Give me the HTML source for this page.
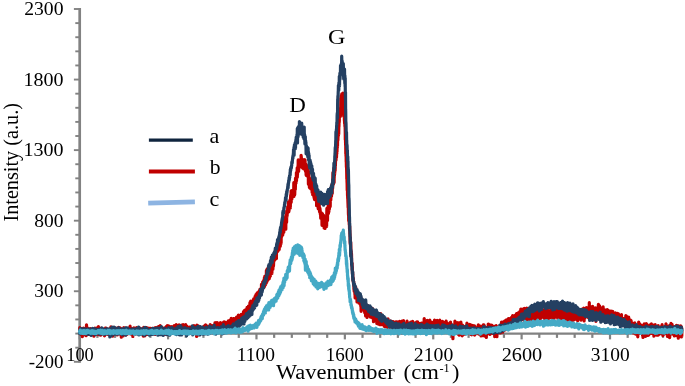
<!DOCTYPE html>
<html>
<head>
<meta charset="utf-8">
<title>Raman spectra</title>
<style>
html,body{margin:0;padding:0;background:#ffffff;}
body{width:685px;height:386px;overflow:hidden;font-family:"Liberation Serif",serif;}
svg{display:block;}
</style>
</head>
<body>
<svg width="685" height="386" viewBox="0 0 685 386">
<rect width="685" height="386" fill="#ffffff"/>
<g stroke="#828282" fill="none">
<line x1="79.7" y1="8.1" x2="79.7" y2="362.7" stroke-width="2.7"/>
<line x1="79.7" y1="333.58" x2="682.0" y2="333.58" stroke-width="2.4"/>
<line x1="73.90" y1="361.80" x2="79.7" y2="361.80" stroke-width="1.9"/>
<line x1="75.30" y1="347.69" x2="79.7" y2="347.69" stroke-width="1.9"/>
<line x1="75.30" y1="333.58" x2="79.7" y2="333.58" stroke-width="1.9"/>
<line x1="75.30" y1="319.46" x2="79.7" y2="319.46" stroke-width="1.9"/>
<line x1="75.30" y1="305.35" x2="79.7" y2="305.35" stroke-width="1.9"/>
<line x1="73.90" y1="291.24" x2="79.7" y2="291.24" stroke-width="1.9"/>
<line x1="75.30" y1="277.13" x2="79.7" y2="277.13" stroke-width="1.9"/>
<line x1="75.30" y1="263.02" x2="79.7" y2="263.02" stroke-width="1.9"/>
<line x1="75.30" y1="248.90" x2="79.7" y2="248.90" stroke-width="1.9"/>
<line x1="75.30" y1="234.79" x2="79.7" y2="234.79" stroke-width="1.9"/>
<line x1="73.90" y1="220.68" x2="79.7" y2="220.68" stroke-width="1.9"/>
<line x1="75.30" y1="206.57" x2="79.7" y2="206.57" stroke-width="1.9"/>
<line x1="75.30" y1="192.46" x2="79.7" y2="192.46" stroke-width="1.9"/>
<line x1="75.30" y1="178.34" x2="79.7" y2="178.34" stroke-width="1.9"/>
<line x1="75.30" y1="164.23" x2="79.7" y2="164.23" stroke-width="1.9"/>
<line x1="73.90" y1="150.12" x2="79.7" y2="150.12" stroke-width="1.9"/>
<line x1="75.30" y1="136.01" x2="79.7" y2="136.01" stroke-width="1.9"/>
<line x1="75.30" y1="121.90" x2="79.7" y2="121.90" stroke-width="1.9"/>
<line x1="75.30" y1="107.78" x2="79.7" y2="107.78" stroke-width="1.9"/>
<line x1="75.30" y1="93.67" x2="79.7" y2="93.67" stroke-width="1.9"/>
<line x1="73.90" y1="79.56" x2="79.7" y2="79.56" stroke-width="1.9"/>
<line x1="75.30" y1="65.45" x2="79.7" y2="65.45" stroke-width="1.9"/>
<line x1="75.30" y1="51.34" x2="79.7" y2="51.34" stroke-width="1.9"/>
<line x1="75.30" y1="37.22" x2="79.7" y2="37.22" stroke-width="1.9"/>
<line x1="75.30" y1="23.11" x2="79.7" y2="23.11" stroke-width="1.9"/>
<line x1="73.90" y1="9.00" x2="79.7" y2="9.00" stroke-width="1.9"/>
<line x1="79.70" y1="333.58" x2="79.70" y2="339.38" stroke-width="2.2"/>
<line x1="97.38" y1="333.58" x2="97.38" y2="337.88" stroke-width="2.2"/>
<line x1="115.05" y1="333.58" x2="115.05" y2="337.88" stroke-width="2.2"/>
<line x1="132.73" y1="333.58" x2="132.73" y2="337.88" stroke-width="2.2"/>
<line x1="150.41" y1="333.58" x2="150.41" y2="337.88" stroke-width="2.2"/>
<line x1="168.09" y1="333.58" x2="168.09" y2="339.38" stroke-width="2.2"/>
<line x1="185.76" y1="333.58" x2="185.76" y2="337.88" stroke-width="2.2"/>
<line x1="203.44" y1="333.58" x2="203.44" y2="337.88" stroke-width="2.2"/>
<line x1="221.12" y1="333.58" x2="221.12" y2="337.88" stroke-width="2.2"/>
<line x1="238.79" y1="333.58" x2="238.79" y2="337.88" stroke-width="2.2"/>
<line x1="256.47" y1="333.58" x2="256.47" y2="339.38" stroke-width="2.2"/>
<line x1="274.15" y1="333.58" x2="274.15" y2="337.88" stroke-width="2.2"/>
<line x1="291.82" y1="333.58" x2="291.82" y2="337.88" stroke-width="2.2"/>
<line x1="309.50" y1="333.58" x2="309.50" y2="337.88" stroke-width="2.2"/>
<line x1="327.18" y1="333.58" x2="327.18" y2="337.88" stroke-width="2.2"/>
<line x1="344.86" y1="333.58" x2="344.86" y2="339.38" stroke-width="2.2"/>
<line x1="362.53" y1="333.58" x2="362.53" y2="337.88" stroke-width="2.2"/>
<line x1="380.21" y1="333.58" x2="380.21" y2="337.88" stroke-width="2.2"/>
<line x1="397.89" y1="333.58" x2="397.89" y2="337.88" stroke-width="2.2"/>
<line x1="415.56" y1="333.58" x2="415.56" y2="337.88" stroke-width="2.2"/>
<line x1="433.24" y1="333.58" x2="433.24" y2="339.38" stroke-width="2.2"/>
<line x1="450.92" y1="333.58" x2="450.92" y2="337.88" stroke-width="2.2"/>
<line x1="468.59" y1="333.58" x2="468.59" y2="337.88" stroke-width="2.2"/>
<line x1="486.27" y1="333.58" x2="486.27" y2="337.88" stroke-width="2.2"/>
<line x1="503.95" y1="333.58" x2="503.95" y2="337.88" stroke-width="2.2"/>
<line x1="521.62" y1="333.58" x2="521.62" y2="339.38" stroke-width="2.2"/>
<line x1="539.30" y1="333.58" x2="539.30" y2="337.88" stroke-width="2.2"/>
<line x1="556.98" y1="333.58" x2="556.98" y2="337.88" stroke-width="2.2"/>
<line x1="574.66" y1="333.58" x2="574.66" y2="337.88" stroke-width="2.2"/>
<line x1="592.33" y1="333.58" x2="592.33" y2="337.88" stroke-width="2.2"/>
<line x1="610.01" y1="333.58" x2="610.01" y2="339.38" stroke-width="2.2"/>
<line x1="627.69" y1="333.58" x2="627.69" y2="337.88" stroke-width="2.2"/>
<line x1="645.36" y1="333.58" x2="645.36" y2="337.88" stroke-width="2.2"/>
<line x1="663.04" y1="333.58" x2="663.04" y2="337.88" stroke-width="2.2"/>
<line x1="680.72" y1="333.58" x2="680.72" y2="337.88" stroke-width="2.2"/>
</g>
<g fill="none" stroke-linejoin="round" stroke-linecap="butt">
<path d="M79.5,332.6l.1-.6 .1-.5 .1-4 .1 4.9 .1-4.5 .1 5.3 .1-.5 .1 .4 .1 0 .1-1 .1-1.4 .1 .4 .1 3.2 .1-3.7 .1 .6 .1-.9 .1 .4 .1 .4 .1 1 .1-1 .1-.1 .1-.5 .1 1.3 .1-2.6 .1 2.5 .1 2.2 .1-3.7 .1 1.3 .1 5.1 .1-6.8 .1-1.1 .1 2.1 .1 4 .1 .4 .1-5.7 .1 3.1 .1-1 .1-1 .1-2.4 .1 5.2 .1-3.3 .1 2 .1-.4 .1 3.2 .1-1.2 .1-4.1 .1 1.5 .1 2.3 .1-4.2 .1 1.7 .1 1.1 .1-3.3 .1 .7 .1-.8 .1 3.5 .1-1.5 .1 2.6 .1-1.4 .1 .8 .1-1.2 .1 1.5 .1-1.5 .1-1.5 .1 3.8 .1-.4 .1 2.3 .1-4.3 .1-.7 .1-1.6 .1-4.2 .1 4.5 .1 3.2 .1-2.5 .1-3 .1 5.7 .1-2.1 .1 .4 .1-.2 .1 .6 .1 1 .1-3.9 .1 2.7 .1-.5 .1 2.9 .1-3.8 .1 4.7 .1-1.8 .1 1.8 .1-4.1 .1 2.6 .1-.8 .1-3.3 .1 2.2 .1-.3 .1-.9 .1 .3 .1-1.2 .1 1.8 .1 1.4 .1-2 .1-1.4 .1 4.6 .1-2.5 .1 .7 .1-.4 .1-.6 .1 2.1 .1-2 .1 .9 .1-2.6 .1-.3 .1 2.2 .1 4.1 .1-3.1 .1 3.1 .1-2.6 .1 0 .1-1.8 .1 1 .1 3.2 .1-1.1 .1-3.2 .1 .3 .1 3.2 .1-3.3 .1 2.5 .1-3.2 .1 2.7 .1 1.6 .1-1.2 .1-1.1 .1-.2 .1-.4 .1 .1 .1 2.2 .1-.1 .1-1.3 .1-2.9 .1 1.3 .1 1.4 .1-.4 .1-2.5 .1 3.6 .1 3.4 .1-6.8 .1 2.3 .1 2.8 .1-3.7 .1 .1 .1 1 .1 .7 .1-1.7 .1 2.4 .1-5.1 .1 4.5 .1-.5 .1-.9 .1 1 .1-.6 .1 2.2 .1-3.1 .1 .7 .1-2.4 .1 .5 .1 1.6 .1-2.4 .1 1.3 .1-.9 .1 1.5 .1 1.1 .1 1.5 .1-5.2 .1 3.1 .1 1.9 .1 .9 .1 .1 .1-5.1 .1 1.7 .1 1.9 .1 .6 .1-1.1 .1-.1 .1 0 .1-1.8 .1 1.7 .1 1.1 .1-2 .1 2.7 .1-7.2 .1 4.5 .1 3.6 .1-1.5 .1 1 .1-2.3 .1-2.3 .1 1.2 .1 3.6 .1-6 .1 1.6 .1-1.4 .1 2.1 .1 .2 .1 1.8 .1-2.5 .1 4.5 .1-1.9 .1-2 .1-.9 .1-.9 .1 2.9 .1 3.3 .1-3.8 .1-1.5 .1 1.7 .1-.8 .1-.7 .1-1.8 .1 3.3 .1 2.7 .1-.4 .1-.5 .1-1.4 .1 .5 .1 1 .1-1.9 .1 .6 .1-1.2 .1 2.7 .1-3.7 .1 2.9 .1 .3 .1 0 .1-.3 .1-2 .1-.2 .1 .3 .1 0 .1-1.3 .1 1.2 .1-.3 .1-.6 .1 2.3 .1-2 .1 1.8 .1 2.2 .1 .4 .1-3 .1 1.8 .1-1.4 .1 3.8 .1-1.3 .1-.9 .1-2.3 .1-.2 .1 1.5 .1-1.1 .1-.3 .1 1.6 .1-3.4 .1-1.4 .1 1.8 .1-.3 .1 1.9 .1-1.4 .1 1.2 .1-3.2 .1 6.2 .1-1.9 .1-2.3 .1 2.1 .1 1.7 .1-.7 .1-1.7 .1 1.3 .1 .5 .1-3.8 .1-.4 .1 1.5 .1 2.8 .1 .9 .1-2.4 .1 2.5 .1-.9 .1-2 .1-1.2 .1 .2 .1 1.3 .1 2.4 .1-1 .1-3.9 .1 .2 .1 3.6 .1-1.1 .1-2 .1 2.9 .1 1.2 .1-1 .1-1.2 .1 2.2 .1-3.1 .1-.4 .1-.6 .1 5.1 .1 .4 .1-3.9 .1 1.1 .1-.2 .1 .8 .1 .5 .1-.9 .1-1.4 .1-.8 .1-.8 .1-2.9 .1 4.5 .1-1.3 .1 1.5 .1-.2 .1-1.7 .1 1 .1 1.6 .1-.4 .1-1.9 .1 .2 .1 2.4 .1-.6 .1 .1 .1-.8 .1 1.6 .1-1.2 .1 4.4 .1-5.4 .1-.4 .1 4.2 .1-3.1 .1-1.2 .1 2.1 .1-4.9 .1 5 .1-.8 .1 .4 .1-1.9 .1 3.8 .1-1.8 .1-.6 .1 .7 .1-2.1 .1 1.2 .1-2.4 .1 .7 .1 2.5 .1-.3 .1 1.1 .1-2.5 .1 .9 .1-1 .1 1.7 .1 .9 .1 .5 .1-.9 .1-2.4 .1 1.8 .1-2.2 .1-1.6 .1 3.7 .1-.1 .1 1.1 .1 .2 .1-3.7 .1 .6 .1 1.6 .1 .1 .1 .6 .1-3 .1 1.8 .1 1.6 .1 2.3 .1-5.6 .1 5.1 .1-3.4 .1-2.1 .1 4.9 .1-4.2 .1-.2 .1 3.4 .1 .5 .1-1.7 .1-1.4 .1-1.4 .1 2.9 .1-4.4 .1 1.6 .1 4.4 .1-.7 .1 1 .1-1.4 .1-2.8 .1 2.9 .1-4.1 .1 4.5 .1 1.2 .1-4.3 .1 3.7 .1-1.8 .1-.4 .1-3.2 .1 3.2 .1 1.9 .1-4.6 .1 2.2 .1-.4 .1-1.7 .1 4.8 .1-1.9 .1 .1 .1 1.7 .1-3.1 .1 7.1 .1-6.6 .1-1.3 .1 3.2 .1-.4 .1-2.4 .1 .1 .1 3.1 .1-.9 .1 .2 .1 .8 .1-2.6 .1 3.3 .1-2.2 .1 1.3 .1-3 .1 3 .1-.8 .1 3.9 .1-4.7 .1 3 .1-1.6 .1 1.7 .1-2.4 .1 .5 .1-4.9 .1 1.7 .1 4.2 .1-1.1 .1 .6 .1-1.9 .1 1.9 .1-2 .1 .5 .1 2.3 .1-.3 .1-2.7 .1 .9 .1 .3 .1-.7 .1 .1 .1-1.5 .1 2.7 .1-2.9 .1 .2 .1 4 .1 .9 .1 .1 .1-2.7 .1-1.6 .1 2.3 .1 1.4 .1-2.5 .1-.9 .1-2.3 .1 0 .1 6 .1-5.6 .1 1.4 .1 .6 .1 1 .1-2.7 .1 3.3 .1 0 .1-.9 .1-1.3 .1 .5 .1-2.8 .1 4.6 .1-2.1 .1-1.5 .1 2.4 .1 .9 .1-.2 .1 .4 .1 1 .1-3 .1 1.2 .1 .2 .1-3.1 .1 4.5 .1-2.5 .1 1 .1 .1 .1-2 .1 2.9 .1 .3 .1-1.4 .1-5.5 .1 7.6 .1-2.7 .1-.9 .1 .1 .1-.9 .1 1.3 .1 1.8 .1-3.1 .1 2.3 .1-1.4 .1 .6 .1-.2 .1 1.2 .1 1.2 .1-1.8 .1 1.6 .1 1.1 .1-5.2 .1 3.9 .1-1.9 .1 .2 .1 2.1 .1-2.2 .1-.7 .1 3.4 .1-.4 .1-1.1 .1 4.3 .1-6.8 .1-1.1 .1 2.5 .1-1.7 .1 2.7 .1-1.7 .1 0 .1 1.1 .1-1.6 .1-1.9 .1 2.2 .1 2.5 .1-.8 .1 1.2 .1 1.3 .1-1.4 .1-1.7 .1-1.2 .1 2.2 .1 2 .1-.3 .1-.9 .1-3.1 .1 2.5 .1 .2 .1 .9 .1-4.4 .1 1 .1 1.5 .1-.1 .1-1.3 .1 2 .1-1.4 .1 2.5 .1-2.9 .1 1.3 .1-4.1 .1 4.1 .1-1.6 .1 2.5 .1-1.6 .1 2.5 .1-3.2 .1-1.6 .1 3 .1 .6 .1-2.3 .1-1 .1 3.6 .1 .6 .1-.6 .1-1.2 .1-.1 .1 2.9 .1-1.5 .1-3 .1-.4 .1 3.1 .1 .2 .1-2.4 .1-.3 .1 3.1 .1-2.3 .1 2.1 .1-3.5 .1 .2 .1-1.3 .1 3 .1-.7 .1-2.3 .1 3.3 .1-1.2 .1 .5 .1 2.9 .1-.7 .1-.9 .1-1.5 .1-1.5 .1 1 .1 .5 .1 2.9 .1-3.9 .1 .6 .1 1 .1 .7 .1 1.2 .1 .5 .1-2.7 .1 3.7 .1-2.2 .1-2.6 .1-.4 .1 1 .1 .3 .1 1.9 .1-2.9 .1 .5 .1-.5 .1 2 .1-3.1 .1 3.6 .1-2.4 .1 1 .1 1.1 .1-.2 .1 4.4 .1-6.6 .1-2.1 .1 1.4 .1 3.8 .1-3.4 .1 3.8 .1-2.2 .1 1.7 .1-4.1 .1 4.6 .1 .2 .1-3.7 .1 4 .1 2.3 .1-4.7 .1-1.7 .1 .6 .1 .6 .1 2.3 .1 1.5 .1-4 .1 .3 .1-2.1 .1 1.6 .1 1.7 .1-4.4 .1 4.8 .1 .4 .1 .6 .1-3.2 .1-1.8 .1 2.3 .1-1.4 .1-1.3 .1 1.8 .1-1.1 .1 5.9 .1-2.1 .1 .2 .1-3.5 .1 4.4 .1-3.1 .1 2.2 .1-3.4 .1 3 .1-4.2 .1 2.7 .1-.1 .1-2 .1 2.5 .1-1.1 .1 .3 .1 2.1 .1 1 .1-2.7 .1 2.6 .1-.5 .1-.4 .1 1.5 .1-5.6 .1 5.1 .1-1.7 .1-1.4 .1 .4 .1 2.1 .1 .4 .1-.9 .1-3.4 .1-.5 .1 2.7 .1 1 .1-2.3 .1 2.8 .1-.5 .1-.2 .1-2.3 .1 3.6 .1-.5 .1 .7 .1-1.7 .1-3 .1 3 .1 .8 .1-1.8 .1-1.8 .1 3.1 .1 .1 .1-3.4 .1 .9 .1-1.3 .1 3.2 .1-.3 .1 2.8 .1-4.7 .1 4 .1-2.8 .1 .9 .1-2.7 .1 2.2 .1-1 .1 .8 .1 .5 .1 .5 .1 .6 .1-1.5 .1-1.6 .1 3.5 .1-1.7 .1-1.3 .1 3.6 .1-2 .1 .8 .1-4.3 .1 1.9 .1 4.7 .1-2.7 .1 0 .1-2.2 .1 1 .1 .9 .1-.8 .1-.1 .1-2.9 .1 1.7 .1 .6 .1 1.8 .1-.1 .1-.9 .1-1.3 .1 0 .1 1.7 .1-2.9 .1 2.1 .1-.2 .1 .1 .1 3.4 .1-3.2 .1 1.8 .1 1.3 .1-2 .1-.9 .1-2.3 .1 5.2 .1-4.9 .1-1.7 .1 5.6 .1-4.6 .1 .5 .1 .8 .1-.8 .1-1.8 .1 4.2 .1 .6 .1 .4 .1-1.4 .1-.7 .1-.2 .1 3.1 .1-.7 .1-2.3 .1 1.4 .1-2.7 .1 3 .1-2.9 .1 1.7 .1-.2 .1-4.4 .1 6.1 .1-1.3 .1-1.4 .1 .1 .1 1.1 .1-.1 .1 1.1 .1-.5 .1 .8 .1-.7 .1-2.9 .1-.1 .1 3.4 .1-.1 .1-.8 .1-2.3 .1 1.1 .1-.2 .1 2.6 .1-2.6 .1-1 .1 1 .1 2 .1 2.3 .1-3.8 .1 2.9 .1-2.8 .1 0 .1-.7 .1 2.9 .1-2.3 .1 2.6 .1-2.4 .1 3.8 .1-2.7 .1-.3 .1-2.2 .1 4.4 .1-1.8 .1-.4 .1-.1 .1-.9 .1 0 .1 1.5 .1-2 .1 1.1 .1 4.4 .1-4.3 .1-.3 .1 2.1 .1-3.4 .1 4.3 .1-2.5 .1-2.1 .1 1.8 .1-1 .1 2.5 .1-2.1 .1 2.1 .1-4.7 .1 2.6 .1 1.9 .1-.2 .1-.8 .1 1.3 .1 0 .1-1.4 .1 .4 .1 1.2 .1-1.3 .1-4.9 .1 1.7 .1 1.7 .1 2.4 .1-1.1 .1 1 .1 .7 .1-.9 .1-2.7 .1 3.2 .1-3.9 .1 .1 .1 1.5 .1-3.3 .1 7.1 .1 1.2 .1-4.6 .1-.4 .1-3.1 .1 4.7 .1-2.2 .1-.9 .1-.4 .1 2.3 .1-.2 .1 .2 .1-.9 .1-2 .1 5.7 .1-1.2 .1-2.5 .1-1.4 .1 .6 .1 3.1 .1-.3 .1-.5 .1 1.7 .1-3.2 .1 3.6 .1-2.3 .1-1.6 .1 2.2 .1-.3 .1-1.9 .1 4.5 .1-6.2 .1 3.5 .1 .2 .1-2 .1 1.4 .1 2.3 .1-4.4 .1 0 .1 1.4 .1 1.5 .1 1.1 .1-1 .1-3.1 .1 4.1 .1-.7 .1 .5 .1-4.8 .1-.1 .1 1.8 .1 .4 .1 .8 .1-2 .1 0 .1 2.7 .1-4.6 .1 1.7 .1 2.2 .1 1.3 .1-.9 .1 2.4 .1-2.3 .1 .7 .1 .2 .1-1.4 .1-2.5 .1 1.9 .1 .1 .1-1.2 .1 2.8 .1-2.2 .1-1.8 .1 2.7 .1-1.8 .1 2.8 .1-5.7 .1 1.6 .1 3.1 .1 .4 .1-.3 .1 2.6 .1-3.2 .1-.5 .1 2.5 .1-2.1 .1 1.3 .1 1.6 .1-2.6 .1 .1 .1-.9 .1 1.8 .1 .4 .1 .8 .1-.7 .1 2.4 .1-3.3 .1-.1 .1-.7 .1 2.8 .1-2.1 .1-.7 .1-1.8 .1 2.1 .1 1.8 .1-6.2 .1 2.6 .1 .4 .1 .2 .1 1.5 .1-.7 .1 .9 .1 .3 .1 1.9 .1-2.9 .1 1.1 .1-1 .1 .7 .1-.9 .1-1.5 .1 2.8 .1 1.3 .1-3.7 .1 1.7 .1-.1 .1-3.7 .1 7.3 .1-.9 .1-.5 .1-.3 .1-3.3 .1-2.9 .1 4.3 .1 .3 .1-.7 .1-.3 .1 2.6 .1-.4 .1-1.4 .1-.9 .1 5 .1-2.6 .1-1.3 .1-2.5 .1-.5 .1-2.2 .1 4.6 .1 1 .1-.9 .1 .3 .1 .5 .1 1 .1-4.7 .1 1 .1 3.8 .1-1 .1 .4 .1-2.8 .1 4.6 .1-2.5 .1-.7 .1-1.1 .1 1.9 .1 0 .1-.5 .1 3.1 .1-.7 .1-2.2 .1-1 .1 .2 .1 1.4 .1-5.6 .1 5.6 .1-.9 .1 4.2 .1-3 .1-1.1 .1 .4 .1-1.3 .1-.1 .1 1.2 .1-3.5 .1 3.6 .1-3 .1 1.7 .1 0 .1 2.6 .1 1.6 .1-.3 .1-3.4 .1 .4 .1 .5 .1 .2 .1 1.8 .1-.8 .1-1.3 .1 3.6 .1-1.9 .1 1.7 .1-3.4 .1 1.1 .1-.4 .1-.3 .1-2.2 .1 2.4 .1-3.1 .1 3.3 .1 2.4 .1-1 .1-1.5 .1-1.1 .1 1.9 .1-3.3 .1-.3 .1-.1 .1 3 .1-3.1 .1 3.5 .1 .8 .1-.6 .1-1.5 .1 1 .1-2.9 .1 2.5 .1 2.7 .1-.4 .1-5.5 .1 2.7 .1-.5 .1 2.3 .1-1.2 .1-.7 .1-.9 .1 1.4 .1-.5 .1 .3 .1-.4 .1-1.9 .1 3 .1 0 .1-.4 .1 .1 .1 1.7 .1-.2 .1 1 .1-1.7 .1 .3 .1-1.5 .1-2 .1-.2 .1 3.1 .1-.7 .1 .7 .1-5.2 .1 3.8 .1 .6 .1-.9 .1 .2 .1-2.8 .1 3 .1 2.5 .1-4.4 .1 3.1 .1-2.3 .1 1.6 .1 2.3 .1-2.5 .1 .6 .1 .5 .1-1.3 .1 2.4 .1-5.9 .1 3 .1-2.9 .1 .7 .1 2.8 .1-2.2 .1 1.4 .1 3.2 .1-1.4 .1 5.8 .1-7 .1 .3 .1-4.6 .1 4.4 .1-.8 .1 1.7 .1-.8 .1-1.2 .1-2.4 .1 5 .1-2.7 .1-1.9 .1 3.8 .1-4.3 .1 2.5 .1-2.7 .1 3.2 .1-2.5 .1 8.4 .1-3.3 .1-1.2 .1-.2 .1 .5 .1 .4 .1-1.1 .1-2.5 .1 2.3 .1-3.2 .1 2.2 .1 1.4 .1-2.7 .1 2.8 .1-1.7 .1 5.2 .1-5 .1 1.6 .1 .2 .1-.9 .1 .3 .1-1 .1 .7 .1 .1 .1 1.2 .1 .8 .1-2.4 .1 2.7 .1-2.6 .1-1.8 .1 1 .1-.4 .1 .8 .1 .5 .1 .3 .1 1.8 .1-.8 .1-2.2 .1 1.8 .1-1.2 .1 1.6 .1 .8 .1-2.5 .1 1.7 .1 1.1 .1-1.9 .1-2.7 .1 1.8 .1-1.4 .1 3.5 .1-1.5 .1 .2 .1 2.7 .1-1.9 .1-1.2 .1-3.6 .1 2.4 .1-.3 .1 .9 .1-2 .1 3.5 .1 1.1 .1-3 .1-2 .1 2.9 .1-.7 .1 2.3 .1-1.9 .1-1.3 .1-1.2 .1 2.6 .1-4.4 .1 2.3 .1 3.3 .1-1.6 .1 .2 .1-.4 .1-2.1 .1 1.8 .1 1.6 .1 .1 .1-2.9 .1 2.1 .1 1.5 .1-1.2 .1 2.3 .1-2.8 .1-3 .1 3 .1 .3 .1 .9 .1-.3 .1 1.9 .1-1.7 .1-.8 .1-1.3 .1 .5 .1 2.9 .1 1.1 .1-2.9 .1-.3 .1-.8 .1 .8 .1-.3 .1-1 .1 2.5 .1-3.7 .1 2.3 .1 0 .1 .9 .1-1.5 .1-1.5 .1 1.6 .1-1.8 .1 1.3 .1-.8 .1 5.9 .1-8.6 .1 1.8 .1 4.5 .1-2.6 .1-2.2 .1 3.7 .1 2.7 .1-3.9 .1 1.6 .1-4.2 .1 1.4 .1 1.5 .1-.1 .1-1.6 .1 .1 .1 0 .1-.4 .1 .4 .1 0 .1 1.9 .1-3.6 .1 3.6 .1 2.3 .1-2.9 .1-1.3 .1-.9 .1 .8 .1-1.3 .1 2.7 .1-.7 .1 1.6 .1-.9 .1 1 .1 1.3 .1-1 .1 3.3 .1-3 .1-3.1 .1 2.1 .1 .2 .1-1.2 .1 1.2 .1-.4 .1 1.4 .1-2.7 .1-1.6 .1 .9 .1-2.8 .1-1.4 .1 3 .1 .9 .1-.4 .1 3.6 .1-4.4 .1-.2 .1 6 .1-6.7 .1 4.4 .1-1.7 .1-4.7 .1 6.7 .1-2.5 .1 1.3 .1-.3 .1 .2 .1 1.1 .1 2.4 .1-3.7 .1-.9 .1 2.1 .1-.9 .1-5.7 .1 5.6 .1-1.6 .1 .3 .1-2.4 .1 6.4 .1-2.7 .1-1.8 .1 0 .1 .4 .1 .2 .1 1.6 .1-.7 .1-1.8 .1 .5 .1 1.6 .1-3 .1 1 .1 2.6 .1-1.8 .1 2.7 .1-4.9 .1 1.3 .1-.7 .1-.2 .1 3.1 .1 .6 .1-1.9 .1-.4 .1 3.7 .1-.4 .1-7.1 .1 3.8 .1-3.7 .1 .9 .1 1.6 .1-.9 .1 3.3 .1-2 .1 .4 .1 .2 .1 3.5 .1-2.8 .1 1.2 .1-.8 .1 1.3 .1-2.2 .1-.3 .1 2.6 .1-2.2 .1-3.4 .1 .6 .1 1.6 .1 1.8 .1-2.5 .1 4.3 .1-2.1 .1-1.3 .1-1.9 .1 3.7 .1-.2 .1-3.4 .1 4.7 .1-.2 .1 .5 .1-3 .1 1.9 .1-5.8 .1 4.7 .1-1.6 .1 .5 .1 1.1 .1-2.3 .1 1 .1-1.6 .1 .3 .1-.7 .1 2.9 .1 1.7 .1-4.3 .1-1.3 .1 2.6 .1 1.2 .1-.3 .1-2.8 .1 2.2 .1-1.6 .1 .7 .1 .6 .1-.6 .1 1.7 .1-2 .1 3.9 .1-2.7 .1-2.5 .1 4.1 .1-.3 .1-1.1 .1-.6 .1 .6 .1 1 .1-1.9 .1 1.8 .1-2.8 .1 2.1 .1-3 .1 2.6 .1 .4 .1-2.2 .1 1.7 .1-4.3 .1 3.4 .1-.4 .1 1.7 .1-1.3 .1 2 .1 1.7 .1-3.6 .1 1.5 .1 1.5 .1-1.4 .1 .2 .1-2.6 .1 1.1 .1-2.7 .1 3.6 .1-.9 .1 0 .1-4.5 .1 5.5 .1 1 .1-.3 .1-1.9 .1 1.7 .1-2.6 .1-1.4 .1 1.1 .1-1.3 .1 4.7 .1-8.2 .1 5.2 .1-2.2 .1 .5 .1 2.4 .1-1.6 .1 2.2 .1-2.4 .1-.1 .1 .4 .1 2.2 .1-3.8 .1 .6 .1-.5 .1 .1 .1-1.6 .1 1.8 .1 1.4 .1 1.8 .1-1.9 .1-2.1 .1 3.9 .1-6.2 .1 4.2 .1-3.3 .1 2 .1-2.4 .1-.4 .1 1.8 .1 4.6 .1-2.9 .1 1 .1-2.4 .1 .6 .1-1.6 .1 .4 .1 .4 .1 2.5 .1-1.3 .1-2.1 .1 1 .1-1.4 .1 2.8 .1-.6 .1-.1 .1 .9 .1-.3 .1 1.7 .1-4.4 .1 2.9 .1-1.8 .1 2.1 .1-2.9 .1-2.3 .1 2.4 .1-.4 .1-1 .1 1.4 .1 2.9 .1-2.9 .1 1.9 .1 1.3 .1-.7 .1-1.1 .1 .8 .1-2.7 .1-1.8 .1-.4 .1 4.8 .1 .8 .1-3.4 .1 .6 .1-4.7 .1 6 .1-1.7 .1-3.5 .1 4.6 .1 .1 .1 .5 .1-2 .1 .7 .1-2.3 .1 4.5 .1-3.5 .1 3.1 .1-1.5 .1-1.6 .1 3 .1-4 .1 2 .1-.5 .1-.6 .1 .6 .1 .9 .1-2.2 .1-.3 .1 .5 .1-.8 .1-.9 .1 2.4 .1-4.1 .1 3.1 .1-.8 .1 1.1 .1 .5 .1-.5 .1-.6 .1 2.6 .1-3.8 .1-1.5 .1 1.9 .1 1.8 .1 2.1 .1 .5 .1-3.6 .1 1.5 .1 .9 .1-4.3 .1 3.9 .1-2.3 .1-1.2 .1 1.3 .1 .1 .1-5.5 .1 4.1 .1 .1 .1-1.9 .1 1.6 .1-1.2 .1-1 .1 1.3 .1-4 .1 4.8 .1 .1 .1-.5 .1 .3 .1-2.1 .1-.4 .1-2.6 .1 0 .1 1.9 .1 3.2 .1-2 .1 2.7 .1-1.3 .1-3.8 .1 .7 .1-1.1 .1-.9 .1 3.4 .1 .7 .1-3.3 .1 3.9 .1-.5 .1-3.1 .1 1.8 .1-2.9 .1 1.9 .1 1 .1-5.1 .1 6.8 .1-6.7 .1 3.6 .1-1.4 .1 2.8 .1-3.8 .1 .7 .1 7.4 .1-3.1 .1-1.8 .1-3.5 .1 2.1 .1-4.3 .1 1.7 .1 2.4 .1 .6 .1-2.5 .1 2.1 .1 .1 .1-4 .1 2.5 .1-.7 .1 3 .1-5.9 .1 3.5 .1-1.4 .1 4.5 .1-9.4 .1 8.4 .1-4.2 .1 1.4 .1-4.5 .1 .2 .1 2.2 .1 .5 .1-5.6 .1 3.7 .1 .3 .1 .5 .1 1.6 .1-.9 .1-1.4 .1-2.3 .1-1 .1 3.6 .1 2.8 .1-3.3 .1 1.8 .1-4.6 .1 4.3 .1-2.6 .1 .5 .1 1.1 .1 .1 .1-1.3 .1 .1 .1-.2 .1-2.5 .1 .7 .1 .6 .1 3.4 .1-6.4 .1 2.7 .1 1.8 .1-.8 .1-3.7 .1-.9 .1 1.4 .1 1.7 .1 1 .1-2.4 .1 .6 .1-1.3 .1-1.2 .1 4.4 .1 1.1 .1-4.4 .1-1.6 .1 3.1 .1-4.9 .1 .2 .1 3.1 .1 3.6 .1-5.1 .1 .8 .1 3.2 .1-6.2 .1-1 .1 8.2 .1-2.8 .1-3.3 .1 1.9 .1 .7 .1-2.7 .1 6.1 .1-9.5 .1 7.1 .1-2.9 .1-.6 .1 0 .1-2.2 .1 .9 .1-.9 .1-2.3 .1 4.5 .1-4.6 .1 .7 .1 6.4 .1-5.7 .1 4.5 .1-.7 .1-2.7 .1 2.9 .1-5 .1-.9 .1 .7 .1 .1 .1 1.8 .1 3.2 .1-6.6 .1 1.1 .1 .4 .1 .4 .1-1.5 .1 3.7 .1-4.2 .1-1.5 .1 5.9 .1-.8 .1-3.5 .1-2.2 .1 2.2 .1 1.2 .1 1.7 .1 .1 .1-4.7 .1 .6 .1-.8 .1 .4 .1-1.4 .1 0 .1 .3 .1 .4 .1-4.7 .1 3.1 .1 2.5 .1-.9 .1 .4 .1-.1 .1-.7 .1 1 .1-2.7 .1-3.2 .1 5.7 .1-2.4 .1-5.2 .1 5.9 .1-.5 .1-5.2 .1 3.8 .1-1.4 .1 .7 .1-2.5 .1 5.1 .1-6.6 .1-.6 .1 1.2 .1 .7 .1-1.6 .1 4.7 .1-6.4 .1 7.8 .1-9.3 .1 4.3 .1 2.8 .1 1.2 .1-6.4 .1-3.4 .1 1.7 .1 .2 .1 2.7 .1-4.2 .1 4.5 .1-4.8 .1 4.1 .1 4.1 .1-4.5 .1 .9 .1-2.5 .1-1.4 .1 2 .1 .1 .1-8.6 .1 5 .1 7 .1-3.8 .1-1 .1-1.5 .1-.1 .1 .5 .1-7.7 .1 12.2 .1-3.3 .1-3 .1 5.2 .1-3.7 .1 3.8 .1-5.1 .1 3.5 .1-6.2 .1 6.2 .1-5.9 .1 3.7 .1 .9 .1-5.1 .1 4.3 .1-1.5 .1 1.4 .1 2 .1-2.5 .1 3.1 .1-5.3 .1-.4 .1 4.6 .1-5.1 .1 3.4 .1-3.1 .1 1.8 .1 1 .1-3.1 .1 0 .1-2.2 .1 5.5 .1-4.6 .1-.4 .1 1.9 .1-1 .1-1.5 .1 2.5 .1-.9 .1-2.4 .1 .2 .1 4 .1-3.3 .1-2 .1 .7 .1 1.2 .1 3.1 .1-8.3 .1 3.7 .1-2.9 .1 1.7 .1-2.6 .1-.9 .1-.5 .1 .2 .1 1.6 .1 3.8 .1-8 .1 .1 .1 .5 .1 4.8 .1-.6 .1-.5 .1-2.7 .1-1.8 .1-3.6 .1 3 .1 .2 .1-2.4 .1-.8 .1-1.8 .1 3.8 .1-1.7 .1 2.4 .1-4.4 .1-.3 .1 4.4 .1-3.2 .1-4.7 .1 1.9 .1-1.1 .1 1.9 .1-4.8 .1 6.5 .1-.3 .1-2.3 .1-.3 .1-.3 .1-1.4 .1 4 .1-5.9 .1 8.8 .1-9.6 .1 3.4 .1-3.7 .1 .3 .1 1.3 .1-3.9 .1 5.3 .1-1.2 .1 .7 .1 .2 .1-4.5 .1 1.4 .1-.4 .1 3.4 .1-3.6 .1-2.3 .1 3 .1-2.4 .1 3.2 .1 1.1 .1-1.3 .1-5.2 .1 4.4 .1-5.2 .1 1.1 .1 3.4 .1-2.4 .1 4.3 .1-3.2 .1-2.1 .1 2.4 .1-3.3 .1 3.1 .1-10.2 .1 5.6 .1-2.6 .1 1.8 .1-1.5 .1 6.7 .1-4.1 .1-2.3 .1 2.4 .1-9.8 .1 10.5 .1-10.1 .1 5.9 .1 4.8 .1-9.2 .1 .3 .1-4.2 .1 .7 .1 5.8 .1-.7 .1-2.2 .1 2 .1-2.8 .1-1.6 .1 1 .1-2.6 .1-3.7 .1 5.6 .1 1.5 .1 1.9 .1-2 .1-3.2 .1-1.9 .1 1.7 .1 .9 .1-1.6 .1-1.7 .1 2.2 .1-8.3 .1 8.2 .1 2.8 .1-9.2 .1 5.1 .1-3.4 .1-1.5 .1 3.8 .1-.5 .1-2.8 .1 5.3 .1-4.1 .1-7.4 .1 9.6 .1-4.7 .1 4.1 .1-8.3 .1-.2 .1 1 .1 1.9 .1 .8 .1-4.9 .1 12.3 .1-13.8 .1 1.2 .1 7 .1-.8 .1-1.6 .1-3.9 .1-1.2 .1 6.1 .1-11.3 .1 1.7 .1 1.5 .1 0 .1 2.3 .1-3.4 .1 .2 .1 .1 .1-2.8 .1 1.2 .1-4.8 .1 .4 .1 2.4 .1-1.5 .1 2.6 .1-2.2 .1 .3 .1 1.8 .1-8.9 .1 1.6 .1 2.1 .1 6.3 .1-7.5 .1 6.7 .1-2.9 .1-3.2 .1 .6 .1 .2 .1-3.6 .1 5.6 .1-3.6 .1-1.8 .1-2.3 .1 3.4 .1-.3 .1 .5 .1 4.3 .1-5.6 .1-4.4 .1-.5 .1-2.2 .1 .6 .1-1.4 .1 7 .1-10.6 .1 11.5 .1-7 .1-2.6 .1 1.4 .1 2.2 .1 0 .1-2 .1 4.7 .1-7.9 .1 .9 .1 5.1 .1-6.8 .1 1.4 .1 4 .1-.1 .1-.3 .1-.1 .1-2.4 .1 .4 .1-.5 .1-.9 .1 2.9 .1-3.2 .1 2.4 .1-3.1 .1 2.7 .1-10.8 .1 13.7 .1-9.7 .1 1.4 .1-.8 .1 7.4 .1-11.1 .1 3.2 .1-.2 .1 8.2 .1-3.5 .1-7.8 .1 1.6 .1 .9 .1-3.4 .1 6.8 .1-4.1 .1-7.1 .1 5.2 .1-1 .1-1.9 .1 1.8 .1 .8 .1-3.7 .1-1.9 .1 2.6 .1-7.5 .1 8.2 .1-8.2 .1 4.2 .1-1.8 .1 1.7 .1-4.2 .1 2.6 .1-7.3 .1 9.3 .1-3.3 .1 .8 .1-5.3 .1 2 .1-2.6 .1 .9 .1-3.9 .1 2.9 .1-8.7 .1 11.7 .1-8 .1 6.5 .1 1.3 .1-2.6 .1-6.3 .1 4.4 .1 1 .1-.1 .1-1.4 .1-1.4 .1-1.5 .1-.1 .1 1.2 .1-1 .1-.9 .1-.4 .1 1.2 .1-2.3 .1 4.8 .1-3 .1 3.6 .1-6.4 .1-.7 .1 1.1 .1 1.3 .1 .3 .1 3.2 .1-10.1 .1 7.5 .1-6.2 .1 2.3 .1 2.3 .1 .8 .1 4.1 .1-5.1 .1 4.7 .1-1.9 .1-2.7 .1 3.6 .1-4.4 .1 3.3 .1 4.4 .1-3.9 .1-2.4 .1-2 .1 1.3 .1-1.1 .1 8 .1-3 .1-2.2 .1 1.1 .1 5 .1-7.1 .1-.3 .1 6.3 .1-2.6 .1-5.6 .1 5.6 .1-2 .1-.6 .1-.2 .1-.2 .1 2.3 .1 2.4 .1-5.6 .1 4.8 .1-6.2 .1 4.4 .1 4.3 .1-2.8 .1-.7 .1 6.4 .1-2.6 .1-.4 .1 1.3 .1-5.7 .1 3.8 .1 7.3 .1-3 .1 3.4 .1-8.1 .1 2.1 .1 4.4 .1 .6 .1-9.2 .1 7.2 .1-.7 .1-.8 .1 3.7 .1-4 .1 4.5 .1 1 .1-3.6 .1 2.3 .1-7.6 .1 9.8 .1-1.4 .1-5.2 .1 .3 .1 5.7 .1 7.7 .1-6 .1-3.9 .1 3.1 .1-5.5 .1 5.1 .1-.3 .1 3.5 .1 3.9 .1-4.6 .1 7.9 .1-6.4 .1 1.5 .1-1.2 .1-2.5 .1 1.5 .1 1.1 .1 6.8 .1-5.2 .1-4 .1 6.2 .1 .3 .1-4.4 .1 5.3 .1-.4 .1-4.7 .1 7.7 .1-7.5 .1 2.1 .1 5.3 .1-7.1 .1-3.2 .1 6.8 .1 2.8 .1-.2 .1-1.3 .1-2.7 .1 8.4 .1-.4 .1-2.2 .1 1.3 .1-7.4 .1 8.5 .1 2.5 .1-1.6 .1 .6 .1-2 .1 0 .1-7.6 .1 5.7 .1 2.7 .1-3.6 .1-1.7 .1 3.9 .1-1.4 .1 7.3 .1-5.1 .1 1 .1 5.2 .1-7.8 .1 4.7 .1 4.5 .1-7.9 .1 1.8 .1 4.8 .1 0 .1-4.7 .1 .4 .1 .1 .1-.6 .1 5.3 .1-3.2 .1-1.2 .1 .2 .1 5.6 .1-11.9 .1 8.1 .1 2.5 .1-2.9 .1-.7 .1 5.2 .1-.7 .1 6 .1-8.4 .1 3.8 .1-4.6 .1 7.8 .1-.5 .1-.9 .1 1.6 .1-.8 .1-.6 .1-1.2 .1 3.4 .1-1 .1-2.6 .1 1.3 .1 1.1 .1 4.6 .1-4.4 .1-.3 .1-3.3 .1 7.1 .1-1.4 .1 .1 .1 .4 .1 1.6 .1-6.7 .1 2.8 .1 2.4 .1 3.9 .1-.7 .1 1.8 .1-1.3 .1 1.2 .1-3.8 .1 1 .1 1.4 .1 .3 .1 3.4 .1-1.7 .1 .4 .1 .1 .1 5.1 .1-5.6 .1 3.9 .1-3.3 .1 3.1 .1 .4 .1-1.4 .1-2.3 .1 4.6 .1-.1 .1-1.1 .1 .6 .1-.2 .1 8.6 .1-8.5 .1-3.1 .1 0 .1 7.6 .1-7.5 .1 7.6 .1-3.1 .1 2.5 .1-.3 .1 3 .1-4 .1 1.4 .1-2.2 .1-3.7 .1 10.8 .1-8.1 .1 6.2 .1 1.6 .1-1.7 .1-3.9 .1 8.1 .1-8.8 .1 6.9 .1 .8 .1-7.9 .1 6.2 .1-4.9 .1 4.3 .1-8 .1 11.8 .1-3.5 .1-2.2 .1-1.5 .1 5.6 .1-3.3 .1-.5 .1-2.8 .1 0 .1 .4 .1-2.6 .1 3 .1 4.8 .1-4.3 .1 .6 .1-1.4 .1 5.7 .1-9.4 .1-4.7 .1-3.9 .1 7.6 .1 2.2 .1 2.1 .1-8.6 .1 2.5 .1 6.2 .1-10.6 .1 1.6 .1 1.4 .1-2.9 .1 2.7 .1-6.8 .1 3.4 .1-.4 .1 4.7 .1-2.2 .1-.4 .1-6.1 .1 7.2 .1-5.5 .1 4.4 .1-10.4 .1 .9 .1 1 .1 6.5 .1-9.1 .1 2.9 .1-2.1 .1 4.1 .1-4.2 .1 5.6 .1-9.6 .1 10.1 .1-8 .1-4.9 .1 6.1 .1-3.5 .1-3.4 .1 7.1 .1-7 .1-3.1 .1 4.5 .1 .9 .1-.8 .1-8.3 .1 9.9 .1-5.4 .1 .6 .1-6.6 .1 .2 .1 .3 .1 1.3 .1 6.9 .1-7.6 .1-.9 .1 3.6 .1 0 .1-3 .1-5.4 .1-4.9 .1-2.9 .1 5.9 .1-1.9 .1 4.7 .1 3.2 .1-9 .1 .1 .1 .2 .1-7.4 .1 6.2 .1 2.5 .1 5.8 .1-15.2 .1 7.3 .1 2 .1-10.3 .1 2.6 .1 4.9 .1-7.8 .1 .4 .1 1.5 .1 2.8 .1-3.7 .1-4 .1 3.3 .1-6.6 .1-2.1 .1 2.7 .1-.3 .1 .3 .1-.6 .1-3.5 .1-5.7 .1-.6 .1 4.2 .1 3.1 .1-7 .1 .2 .1 3.2 .1-7.9 .1 5.9 .1-5.4 .1-1.4 .1 2.8 .1-5.7 .1 4.4 .1-8.6 .1-.5 .1 0 .1 3 .1-7.4 .1 3.1 .1-.8 .1 1.2 .1-7.3 .1 2.2 .1 .5 .1 2.6 .1-8.1 .1 .5 .1-2.1 .1-13.4 .1 11.1 .1-1.8 .1-4.6 .1 .1 .1 1.4 .1 .1 .1-1.5 .1-2.5 .1 1 .1 2.1 .1-4.6 .1 4 .1 .2 .1-2.7 .1-6.2 .1 .1 .1-9.6 .1 7.6 .1-1.3 .1-2.5 .1-6 .1 10.6 .1 .3 .1-5.1 .1 3.3 .1-4.7 .1-6.3 .1 6.7 .1-1.6 .1 .5 .1 .5 .1-3.5 .1-1.7 .1 9.8 .1-2.9 .1 1.5 .1-5.1 .1-4.8 .1 4.7 .1 10.7 .1-1.8 .1-8.4 .1 5.6 .1-.8 .1 5.6 .1 7.4 .1-7.4 .1 4.8 .1-.9 .1 .1 .1-.8 .1 2.6 .1 5.7 .1 .8 .1 2.3 .1-4.1 .1 1.9 .1 4.7 .1 .8 .1-.5 .1 3.6 .1 10 .1-3.9 .1 5.1 .1 4.1 .1-1.1 .1 9.8 .1-2.5 .1 4.8 .1-1.4 .1 7 .1 .2 .1 5.3 .1-1.5 .1 2.9 .1 4.6 .1 5.7 .1-4.8 .1 7.6 .1 1.9 .1 6.5 .1-9.9 .1 4.8 .1 10.3 .1 .4 .1 2.7 .1 .2 .1 3 .1 2.3 .1 3.5 .1-5.9 .1 3.5 .1 8.5 .1 1.7 .1-5.3 .1 10.9 .1-2.3 .1 2.9 .1-2.1 .1-.5 .1 4.6 .1 1.4 .1-1.9 .1 5.7 .1 1.4 .1-3.9 .1 4.3 .1 3.8 .1-.5 .1 6.3 .1 3.1 .1-5.6 .1 5.6 .1 2.1 .1 2.9 .1-6.1 .1 3.2 .1 5.7 .1 3.8 .1-1.2 .1-2.1 .1 5.4 .1-2.3 .1-.8 .1 6.2 .1 3.8 .1 1.7 .1-1 .1-1.3 .1 .2 .1 6.8 .1-3.3 .1 5.1 .1 1.7 .1-1.7 .1 2.8 .1 1.6 .1 3.4 .1-2.7 .1 2.6 .1 2 .1-3 .1 2.8 .1 .7 .1 2.4 .1-3 .1 3.5 .1 1.5 .1 3.5 .1-3.2 .1 4.6 .1-2.6 .1 1.1 .1-3.4 .1 .8 .1 3.3 .1-2.6 .1 6.4 .1-3.5 .1 7 .1-8.3 .1 3.5 .1 .1 .1-.7 .1 1 .1-6.5 .1 6.2 .1 2.9 .1-2.8 .1-3 .1 2.7 .1 1.4 .1 2.5 .1-3.9 .1 5 .1-4.7 .1 4.7 .1-1.7 .1 5.7 .1-4.1 .1 1.7 .1-3.9 .1-4 .1 5.4 .1 .4 .1-1.9 .1 2 .1-4.6 .1 4.4 .1-.7 .1 5.5 .1-3.4 .1 .3 .1 0 .1-4.9 .1 2.6 .1 6.1 .1-1.6 .1-4.9 .1 4.4 .1-1.5 .1 2.4 .1-.8 .1-.2 .1-3.2 .1 2.8 .1-1.2 .1 1.7 .1 3.2 .1-1.2 .1 .6 .1 .8 .1-4.9 .1 2.5 .1 3.5 .1 .6 .1-8.6 .1 3.1 .1 3.8 .1 7.1 .1-9.6 .1 1.5 .1 1.1 .1 1.9 .1-5.8 .1 2.1 .1 .5 .1-.4 .1 .5 .1 2.9 .1 2 .1-1.5 .1-.8 .1-.6 .1-1.6 .1-1.3 .1 .2 .1 6.2 .1 .3 .1-1.6 .1-.5 .1-.5 .1 1.2 .1-2.2 .1-1.2 .1-1.1 .1 4 .1-2.7 .1-2.2 .1 3.9 .1-1 .1 4.3 .1 1.8 .1-2 .1 .8 .1 2.9 .1-8.2 .1 .3 .1 3.3 .1-.9 .1 1.7 .1 2.4 .1-2.9 .1-4.3 .1 11.8 .1-9.9 .1-.4 .1 6.2 .1-7.1 .1 1.4 .1 3.2 .1-2.1 .1 2.6 .1 2.6 .1-2.6 .1-1.1 .1 2.5 .1-.6 .1 6.8 .1-9.8 .1 5.9 .1-4 .1 1.9 .1-6.2 .1 2.4 .1-.3 .1-1.2 .1 2.9 .1 5.6 .1-8.1 .1 7.9 .1-3.9 .1 .4 .1-3.6 .1 4.3 .1 3.2 .1-5.1 .1 1.8 .1-.2 .1-1 .1-1.4 .1 5.7 .1-.9 .1-3.7 .1 4.9 .1-5.2 .1 2.5 .1-4.3 .1-.8 .1 3.8 .1 5.9 .1-4.1 .1 2.6 .1 1.8 .1-3.5 .1-2.9 .1 2.4 .1-1.5 .1 2.8 .1-2.8 .1 5.1 .1-.6 .1-2.1 .1-.3 .1 1.1 .1-1.3 .1 .7 .1 2.1 .1-4.2 .1 .8 .1 .6 .1-5.2 .1 9.3 .1-4.2 .1 4.7 .1-8.9 .1-.2 .1 4.6 .1 1.1 .1 2.4 .1-.3 .1 1.5 .1-3.2 .1 6.4 .1-4.3 .1-6.6 .1 2.5 .1 0 .1 1.9 .1-1.5 .1 2.6 .1 2.6 .1-7.1 .1 2.4 .1 6.3 .1 0 .1 .3 .1-4 .1 2.6 .1-2.1 .1-5.3 .1 2.6 .1 3.6 .1-1.5 .1-2.5 .1-.2 .1 3.7 .1-.4 .1-2 .1 5.5 .1-5.2 .1 .1 .1 1.4 .1-.2 .1-.1 .1-4.8 .1 11.5 .1-4.6 .1-.6 .1-2.4 .1 1.3 .1 1.6 .1-2.8 .1 3.8 .1-.3 .1-2.5 .1-1 .1 3.9 .1 4.1 .1-5.3 .1 2 .1-2.8 .1-1.7 .1 5.1 .1-3.7 .1 6.5 .1-7.2 .1-2.2 .1 4.7 .1 1.4 .1 .1 .1-1.8 .1-3.4 .1 6.1 .1-5.4 .1 8.4 .1-7.1 .1 .9 .1-.1 .1 4.4 .1 1.4 .1-3.7 .1 .1 .1-3.6 .1 5 .1-8.4 .1 8.9 .1-1.7 .1-3.3 .1 4.3 .1 0 .1 2.9 .1-.5 .1-3.7 .1 .7 .1-4.3 .1 5.4 .1-5.2 .1 1.7 .1-2.1 .1 2.3 .1 2.8 .1-3.4 .1 2.3 .1-3.2 .1 4.4 .1 1.2 .1-2.1 .1-.2 .1-2.2 .1 4.1 .1 1.4 .1-3.5 .1 .5 .1-1 .1-2 .1 3 .1-3.7 .1 7 .1 1.7 .1-2.2 .1-1.4 .1-1.1 .1 .6 .1-3.3 .1 3.9 .1-.4 .1 1.5 .1 2.9 .1-3.6 .1 3.5 .1-1.9 .1-3.8 .1 3.5 .1-1.4 .1 1.3 .1 .1 .1-.3 .1-1.3 .1 2 .1-2.1 .1-1 .1 1.8 .1-3.7 .1 5.3 .1 .6 .1-2.3 .1 3.8 .1-1.2 .1-1.6 .1 1 .1 .8 .1-3.3 .1 2.4 .1 .5 .1-.3 .1-2.3 .1 4.2 .1-8.4 .1 4.3 .1 1 .1 3.9 .1-7.6 .1 .9 .1 0 .1 2.2 .1-1.3 .1-.7 .1 4.9 .1-.9 .1-1.4 .1-1.6 .1 1 .1 .4 .1 5.7 .1-7.9 .1 1.5 .1 0 .1 .9 .1 2.2 .1-5.2 .1 .9 .1 5.5 .1-2.2 .1 3.2 .1-5.5 .1-2 .1 2.3 .1-.2 .1 3.4 .1-3.6 .1 2.3 .1 1.6 .1-1.4 .1-1.2 .1 .1 .1 1.4 .1 1.2 .1-4.2 .1-.9 .1 7.3 .1-7.5 .1 3 .1-1.4 .1 5.4 .1-2.6 .1 2.8 .1-.1 .1-4.8 .1 2.2 .1-4.5 .1 2.8 .1 3.2 .1-.7 .1-.1 .1-.8 .1-1.3 .1 2.9 .1-1.2 .1-.5 .1 2.6 .1-3.5 .1 5.7 .1-5.1 .1 4.7 .1-3.6 .1-1.6 .1 .7 .1 2.2 .1-.4 .1 .4 .1-1 .1-1.1 .1-1 .1-.2 .1 1.1 .1-4.1 .1 5.3 .1-.4 .1-.4 .1-1.8 .1 2.1 .1 1.7 .1-4.2 .1 .1 .1 1.7 .1 1.4 .1-3.4 .1 4.6 .1-6.6 .1 9 .1-7.6 .1 .8 .1 1.2 .1-1.9 .1 2.9 .1-1.2 .1 5.4 .1-3.6 .1 2.2 .1-1.9 .1 2.6 .1-1.7 .1-4.5 .1 2.5 .1 1.9 .1 .1 .1-6.1 .1 2.7 .1-1.7 .1 .2 .1 4 .1 0 .1-5.9 .1 2.6 .1 5.6 .1 .4 .1-.9 .1-4.9 .1 3.2 .1 2.3 .1-2.8 .1-.9 .1-.5 .1 2.3 .1 1.5 .1 2.2 .1-4.7 .1 .5 .1-4 .1 6.6 .1-4.4 .1 5.1 .1-5.4 .1 1.6 .1 1.9 .1-1 .1-6.4 .1 5.2 .1 1 .1 5.6 .1-2.6 .1 .6 .1-2.2 .1 2 .1-3.4 .1-3.6 .1 1.5 .1 2.9 .1-2.6 .1 1.3 .1-.3 .1 4 .1-10.1 .1 3.3 .1 3.6 .1-1 .1 5.7 .1-2.8 .1-1.7 .1-2 .1 1.8 .1-.7 .1-3.4 .1 1.5 .1 3.6 .1-.5 .1-.7 .1 4 .1-6.5 .1 1.5 .1 2.8 .1 1 .1-4.8 .1 2.7 .1-1.7 .1-1.6 .1 2.6 .1-1.9 .1 4 .1-1.3 .1-1.5 .1 3.5 .1 .6 .1-5.2 .1-2.4 .1 2.3 .1 2 .1-6.1 .1 .5 .1 8.1 .1-2.9 .1 1.3 .1-1.1 .1-1.5 .1 2.1 .1-1.3 .1 3.1 .1-2.7 .1 .8 .1-1.3 .1-2.3 .1 1.2 .1 3.3 .1-3.9 .1 2.3 .1-1.4 .1 .5 .1 4.2 .1-6.5 .1 .7 .1 .1 .1 5.3 .1-1.7 .1-5.1 .1 1.5 .1 1.6 .1-.3 .1-.7 .1 3.8 .1-4.5 .1 3.3 .1-1 .1-.4 .1-4.1 .1 2.2 .1 5.5 .1-2 .1-4.9 .1 4.3 .1-4.8 .1 6.2 .1-3.7 .1 5.8 .1-1 .1-1.2 .1-4.6 .1 2.9 .1-2.6 .1 1.1 .1-.7 .1 1.6 .1 1.9 .1 .3 .1-7.1 .1 2.8 .1-.5 .1 5.4 .1-5 .1 4 .1-1.1 .1 1.7 .1-2.8 .1-.5 .1 3.4 .1 .6 .1-3 .1-.6 .1-.3 .1 .6 .1 2.9 .1-4.2 .1 5 .1-6.3 .1 3.6 .1-2.4 .1 2.8 .1 5.1 .1-7.7 .1 4.8 .1-6.3 .1 4.5 .1 4.8 .1-5.1 .1-4.9 .1 2.8 .1 1.6 .1-3 .1 6.6 .1-2.1 .1-3.7 .1 3.6 .1-1 .1-5 .1 8.4 .1-1.5 .1-7.6 .1 8 .1-3.3 .1 2 .1-2.1 .1-2.9 .1 3.3 .1 3.5 .1-8.4 .1 4.4 .1-1.5 .1 3.1 .1-4.8 .1 4.5 .1-1.9 .1 2.3 .1-1.6 .1-2.4 .1 2.3 .1 1.1 .1-.4 .1 3.4 .1-4.6 .1 1.7 .1 1.3 .1 1.7 .1-5.1 .1 .3 .1 .4 .1-1.8 .1-.6 .1 5.1 .1-.8 .1 1.5 .1 .6 .1-5.2 .1 1.2 .1-1.3 .1 1.3 .1 3.9 .1-6.7 .1 6.5 .1-5 .1 3.1 .1 3.8 .1-2.1 .1-6.3 .1 3.5 .1 2.9 .1-6.4 .1-.1 .1 3.5 .1-3.5 .1 0 .1 2.9 .1 3.1 .1-2.1 .1 2 .1-1.9 .1-.1 .1 1.3 .1-3.3 .1 .8 .1-.1 .1-.3 .1-1.7 .1 1.6 .1-.1 .1 3.5 .1-4.4 .1 3.8 .1-3.4 .1 5.8 .1-6.9 .1-5.1 .1 9.2 .1-.5 .1-.1 .1 2.7 .1-1 .1-4.1 .1-.9 .1 2.6 .1-2.1 .1 .3 .1 .1 .1 3.7 .1 .3 .1-2.5 .1 2.2 .1-4.2 .1 1.4 .1 2.2 .1-3.5 .1 5.1 .1-4 .1 .7 .1 1.8 .1-5.7 .1 4.7 .1-2.1 .1-3.3 .1 3.4 .1 2.4 .1-7 .1 6.2 .1-6.1 .1 3.4 .1 1.2 .1 4.4 .1-3.4 .1-.1 .1 1.1 .1 .5 .1-2 .1 .5 .1 .5 .1-2 .1 3.5 .1-1.4 .1 1 .1 .2 .1-4.2 .1 .9 .1 1.6 .1-1.6 .1 .1 .1 .1 .1 .2 .1 2.5 .1-7.3 .1 6.7 .1-4.2 .1 6.7 .1-3.1 .1 1.4 .1-.8 .1-1.2 .1-1.8 .1 1.7 .1 2.5 .1-4.1 .1 .4 .1-.2 .1 1.5 .1-1.1 .1 2.9 .1-5.1 .1 .3 .1 4.3 .1 .6 .1-.9 .1 3 .1-1.9 .1-4.4 .1-.8 .1 1.6 .1-.2 .1 1.9 .1-1.8 .1 0 .1 .4 .1 1.1 .1 1.1 .1-.8 .1 2.2 .1-1.8 .1-.2 .1 2.2 .1 2.5 .1-5.7 .1-2.1 .1-.8 .1 5.3 .1-6.4 .1 4.7 .1 2.5 .1-8.1 .1 5.6 .1 1.3 .1-.9 .1-.3 .1-5.6 .1 4.9 .1-3.6 .1 1.8 .1 2.1 .1 1.6 .1-.9 .1 2.1 .1-5.6 .1 4.3 .1-1.6 .1-1.4 .1 .6 .1 2.6 .1 1 .1-6.1 .1 7.1 .1-5.9 .1 2.3 .1 .6 .1-1.5 .1-4.3 .1 4.1 .1 2.3 .1-2.2 .1 2.3 .1-1.3 .1 1.2 .1 .8 .1 3.6 .1-4 .1 1.8 .1-3.8 .1 2.2 .1-4.6 .1 4.9 .1 .4 .1-5.1 .1 4.5 .1-.8 .1 1.3 .1-1.3 .1-1.3 .1-2.1 .1 2.3 .1 1.1 .1-3.6 .1 .7 .1-3.6 .1 5.2 .1 1.7 .1 .8 .1-6.7 .1 4.9 .1-3.3 .1 6.2 .1-5.9 .1-.9 .1 6.2 .1-4.8 .1 1.8 .1-3.8 .1 9.2 .1-8.6 .1 1.3 .1-.1 .1 2.3 .1-3.3 .1 2.9 .1 1.5 .1 4.8 .1-.9 .1-6.2 .1 2.2 .1-1.6 .1-3.7 .1 2.2 .1 1.9 .1-.6 .1 .8 .1 2.7 .1-.7 .1-.8 .1-2.6 .1 1.4 .1 2.9 .1-1.1 .1-5.1 .1 4.9 .1-1.4 .1-.8 .1 3.3 .1-2.3 .1-1.2 .1 2 .1-2.5 .1 2.2 .1-3.3 .1 4.9 .1-5.4 .1 4 .1-3.3 .1 5 .1-.8 .1-3 .1 2.1 .1 1.5 .1-4.1 .1 1 .1 2.6 .1-6.3 .1-.5 .1 5.7 .1-1.5 .1-3.2 .1 2.3 .1 3.4 .1-.7 .1-3.9 .1 6 .1-1.7 .1-1.7 .1 3.1 .1 0 .1-2.7 .1-1.7 .1 4.7 .1 1 .1-2.7 .1-3.8 .1 1.5 .1 6.6 .1-7 .1 1.5 .1 .8 .1-1.6 .1 3.1 .1-.1 .1-3 .1 2.8 .1 .2 .1 2.9 .1 .9 .1-7.9 .1 2.2 .1 1.6 .1 1.6 .1-4.6 .1-2.2 .1 6.6 .1-3.9 .1 .4 .1 .4 .1-.3 .1 3.8 .1-7.8 .1 7.7 .1 .3 .1-2.4 .1 .8 .1-4.1 .1 3.7 .1-.9 .1-2.7 .1 2.1 .1 .3 .1 1.5 .1-1.9 .1-1.5 .1 1.7 .1-1.8 .1 4.1 .1-.5 .1 .5 .1 2.6 .1-1.3 .1-2.8 .1-1.9 .1 2.3 .1 10.8 .1-11 .1 .9 .1-2 .1 3.5 .1-1.7 .1 1.9 .1-2.2 .1-1.3 .1 6.3 .1-4.2 .1-.2 .1-.4 .1-2.2 .1-.6 .1 3.7 .1-3.7 .1-.4 .1 .3 .1 1.8 .1-6 .1 6.8 .1-1.4 .1 5.5 .1-3.1 .1-5.4 .1 9.1 .1-4.7 .1-2.8 .1 4.4 .1-4.2 .1 5.8 .1-7.7 .1 1.5 .1 1.9 .1 1.9 .1 1.4 .1-4.1 .1-1.3 .1 .4 .1 3.6 .1 1.2 .1-7.5 .1 5.9 .1 2.4 .1-2.8 .1-1.2 .1 2.5 .1 1.1 .1-2.1 .1-2.9 .1 4.4 .1 4.3 .1-3.5 .1-.6 .1-4.7 .1 1.4 .1 2.7 .1-.3 .1-1.3 .1-5 .1 4.3 .1 2.6 .1 5.5 .1-6 .1-.5 .1 3 .1-3.9 .1 .3 .1 1.7 .1 .1 .1 .6 .1 .3 .1-1.2 .1-2.1 .1 .7 .1 1.9 .1-2.4 .1-1.1 .1 2.8 .1-7.2 .1 8.6 .1-1.9 .1-1.7 .1 .1 .1 0 .1 3.4 .1-3.8 .1 3.5 .1-1.2 .1-.5 .1 1.6 .1-3.1 .1 8.6 .1-5.6 .1-1.9 .1-3.2 .1 2.8 .1-.7 .1 .1 .1 .7 .1 5.6 .1-2.8 .1 .9 .1-2.1 .1-3.3 .1 2.2 .1-1.6 .1 2.7 .1 .3 .1 3.9 .1-7.4 .1 5.4 .1-3.1 .1 1.6 .1-3.2 .1 7 .1-4 .1 1.2 .1 2.8 .1-4.4 .1-.6 .1 1.4 .1-2.2 .1-1.7 .1 4.8 .1-1.1 .1-3.7 .1 4.7 .1-3.8 .1-1.2 .1 2.5 .1 1 .1-1.1 .1 .1 .1 3 .1 .2 .1-2.2 .1-4.9 .1 3.5 .1-5.2 .1 2 .1 3.7 .1 2.1 .1 1.6 .1-2.1 .1 2.6 .1 .2 .1-5.9 .1 1.1 .1 1.6 .1-3.1 .1 2.8 .1-1.7 .1-.8 .1 2.4 .1 3.4 .1-7.1 .1 2.3 .1 .8 .1 2.3 .1-1.9 .1-3.2 .1 5.3 .1-.5 .1 .5 .1 .5 .1-1.1 .1-6.6 .1 2.4 .1 2.5 .1 1.1 .1 .6 .1 .5 .1-3.6 .1 2.7 .1-1.2 .1 1.8 .1 3.1 .1-6.1 .1 3.6 .1-3 .1 .9 .1-1.3 .1 1.8 .1 1.1 .1-6.1 .1 9.3 .1-1.1 .1 1.4 .1-3 .1 .7 .1-3.2 .1 2.3 .1-2.9 .1 5.4 .1-4 .1 2.7 .1-2.1 .1 2.6 .1-1.6 .1-4.5 .1-1.7 .1 3.7 .1 .6 .1-2.7 .1 5.3 .1 .3 .1-.7 .1-.1 .1-.7 .1-2.7 .1 3.1 .1-5.6 .1 4.8 .1 1.6 .1-6.5 .1 9.2 .1-7.1 .1 5 .1-3.4 .1 1 .1-2 .1 1.8 .1-.2 .1-1.3 .1 4.1 .1-1.1 .1-.7 .1-3.5 .1 4.1 .1 1.8 .1-.5 .1 .1 .1-1.5 .1 .3 .1-3.8 .1 4 .1-2.5 .1-1.7 .1 3.3 .1 0 .1 .5 .1-3.4 .1 2.7 .1 2.6 .1-1.6 .1-.7 .1 .1 .1-1.9 .1 2.5 .1-6.3 .1 2.1 .1-.9 .1-2.1 .1 7.1 .1-2.5 .1 .9 .1 0 .1-1.4 .1 3 .1-3.3 .1 2.5 .1-1.4 .1-1.8 .1 3.4 .1 3.1 .1-1.4 .1 1.1 .1-5.3 .1 5.6 .1-8.5 .1 5.2 .1 .4 .1 .5 .1-.3 .1-1.8 .1-.7 .1 2.1 .1-1.6 .1-3.4 .1 9.5 .1-6.3 .1 3.9 .1-2.9 .1-1.3 .1 1 .1-.4 .1-.8 .1 .6 .1-1 .1 2.5 .1-.3 .1 .2 .1-4.2 .1 4.4 .1 3.2 .1-6.8 .1 3.1 .1 2.9 .1-3.4 .1 3.2 .1-3.9 .1-4.8 .1 10.9 .1-3.1 .1-5.6 .1 3.3 .1 .2 .1-2.7 .1-3 .1 6.3 .1 .1 .1-4.3 .1-1 .1 7.3 .1-2.2 .1-1.6 .1 3.1 .1-2.1 .1-3.2 .1 3.3 .1 5.6 .1-7.6 .1 3.9 .1-2.4 .1 1.6 .1-.2 .1 1.2 .1 .7 .1-3.3 .1 4.1 .1-2.7 .1-3.9 .1 10 .1-6.3 .1-2.6 .1 3.6 .1-.5 .1 2.9 .1-.3 .1-2.3 .1-.2 .1 .8 .1 .1 .1-.2 .1-.1 .1-3.6 .1 4.3 .1 .3 .1-.4 .1-4.1 .1 1.5 .1-6.3 .1 .7 .1 5.8 .1 1 .1-1.4 .1 .8 .1 1.1 .1-3.6 .1 3.5 .1 .6 .1-3.8 .1 3.8 .1-3.5 .1 1.5 .1-.2 .1-.3 .1-5.3 .1 9.6 .1-7.4 .1 3.9 .1-1.1 .1 .5 .1-2.3 .1 1.8 .1 .7 .1 1.3 .1 1.2 .1-2.3 .1-1.8 .1 2.4 .1-.2 .1 1.1 .1-3.9 .1 3.2 .1-6.3 .1 7 .1-2.3 .1 3 .1-2.2 .1 1.8 .1 .9 .1-6.3 .1-.4 .1 5.4 .1-1 .1-3.3 .1 .6 .1-.1 .1 3 .1-4.3 .1-.6 .1 2.3 .1-1 .1 3.4 .1-.3 .1-3.7 .1 4.2 .1 .3 .1-2.4 .1-1.4 .1-1.5 .1 4.2 .1 2.5 .1-.6 .1-1.7 .1 5.9 .1-9.8 .1 4.9 .1-3.7 .1 2.8 .1-2.7 .1 .8 .1 2.5 .1-5 .1 1.8 .1-1.2 .1 3.2 .1 .6 .1 .4 .1-5.5 .1 .3 .1 4.2 .1-.2 .1-2.8 .1 2.7 .1 .3 .1-1.8 .1 8.3 .1-9.3 .1 4.7 .1-2.5 .1 .1 .1-2.6 .1 1.3 .1 .3 .1-.5 .1 2.4 .1 .5 .1-1.5 .1 1.4 .1-2.3 .1-1.4 .1 .1 .1-.5 .1 1 .1 .2 .1 1.8 .1-1.9 .1 3.6 .1-.6 .1-2.4 .1-2.7 .1 3 .1 .4 .1 1.1 .1 .1 .1-.6 .1-.2 .1 .7 .1 2.6 .1-4.2 .1-1.3 .1 5.4 .1-2.9 .1-3.8 .1 2.1 .1-1.3 .1 4.6 .1-5.7 .1 .7 .1-1.2 .1-1.5 .1 6 .1-7.8 .1 7 .1-2.5 .1 3.8 .1-3.3 .1 3.7 .1 .3 .1 .3 .1-2.4 .1-.2 .1 .3 .1-7.1 .1 10.1 .1-5.3 .1-.3 .1 1.2 .1 .7 .1-1.5 .1-2.2 .1 .7 .1 4.3 .1-2.8 .1-1.4 .1-1.2 .1-.5 .1 1.2 .1 2 .1-1 .1-3.7 .1 1.3 .1-2.6 .1 4.6 .1 1.8 .1-.7 .1 3 .1-5.3 .1 5.5 .1-7.3 .1 3.4 .1-1.7 .1 1.2 .1 1.2 .1-3.5 .1-3.1 .1 2.5 .1 .9 .1-.8 .1 6.3 .1-5.3 .1-1 .1 3.7 .1-1 .1-1.8 .1-.5 .1 2.5 .1-.4 .1 .9 .1-.6 .1-4.2 .1 4.9 .1-6.5 .1 .2 .1-.4 .1 3.2 .1 6 .1-5.2 .1 .2 .1-.9 .1 4 .1-8.2 .1 5.7 .1 .7 .1 2.2 .1-3.8 .1-.8 .1-.4 .1-3.4 .1 3.5 .1 .8 .1 1 .1 .7 .1-5.6 .1 .8 .1 3.6 .1-4.4 .1 8.1 .1-8.6 .1 3.3 .1-1.8 .1 3.8 .1-3.7 .1 2.4 .1-1.3 .1-.6 .1 1.8 .1 2.3 .1-1.8 .1-1.9 .1-2.9 .1 1.4 .1-2.4 .1 6.9 .1-5.5 .1 4.2 .1 1.6 .1 2.1 .1-2.6 .1-4.9 .1 2.4 .1-1.1 .1-2.7 .1-2 .1 8 .1-3.8 .1 2.4 .1-.4 .1-2.1 .1 .3 .1 3.4 .1 .3 .1-.2 .1-2.7 .1 .8 .1-2 .1-3.8 .1 7 .1-5.9 .1 1.8 .1-1.9 .1 3.7 .1 3.6 .1-1 .1-4.5 .1 4.2 .1-7.5 .1 3.6 .1-2.1 .1 1.4 .1 2.3 .1-5.6 .1 7.7 .1-.8 .1-1 .1-1.8 .1 2.1 .1 .6 .1-3.7 .1-3.8 .1 3 .1 1.2 .1-5 .1 6.2 .1-2.4 .1-.1 .1 4.1 .1-4.9 .1-.9 .1 3.5 .1-3.4 .1 4.5 .1-4.2 .1 .8 .1 2.9 .1-3.3 .1-1.3 .1 4.8 .1-6.9 .1 1.8 .1 4.2 .1-2.2 .1 2.4 .1-4.2 .1 2.9 .1-2.1 .1 4.8 .1-1 .1 .7 .1-1.4 .1-1.6 .1-.3 .1-1.6 .1 1.8 .1-2.9 .1 1.5 .1-4.3 .1 5.8 .1-1.2 .1-.8 .1-.6 .1 1.2 .1-2.4 .1 .1 .1 5.4 .1-9.8 .1 7.9 .1-4.5 .1 3.5 .1-4.2 .1 2 .1 5.6 .1-7.3 .1 .8 .1 2.6 .1-1.4 .1-1.3 .1-3.8 .1 3.6 .1-.1 .1 3.3 .1-.9 .1-5.3 .1 5 .1 1.9 .1 .1 .1-1.7 .1 4 .1-8.8 .1-.5 .1 9 .1-4.9 .1 1.5 .1-2.3 .1 .7 .1 6.7 .1-1.8 .1-.9 .1-4.1 .1 .6 .1-5.8 .1 2 .1 3.5 .1 .5 .1-.9 .1 1.7 .1 2.6 .1-2.8 .1-3.5 .1 3.6 .1-1.2 .1 2.5 .1-1.6 .1-2.7 .1 2.4 .1 4.1 .1 1.7 .1-2.3 .1-5.4 .1 1.8 .1 .7 .1-3.3 .1 2.6 .1-2.7 .1-3.6 .1 5.7 .1-1.1 .1 6.7 .1-3.3 .1-3.7 .1-.5 .1 .1 .1 8.7 .1-3.6 .1-4 .1-2.8 .1 7 .1-4.8 .1-2.4 .1 5 .1-.9 .1 .4 .1-.2 .1-.9 .1 .7 .1-1.9 .1 4.5 .1-6.5 .1 6.1 .1-2.5 .1-3.7 .1 6 .1-2.4 .1 2.6 .1 3.8 .1-7 .1-.7 .1-2.2 .1-.5 .1 1.3 .1 5.1 .1 .4 .1-5.6 .1 6 .1-.4 .1-4.6 .1-.3 .1 1.4 .1-2.1 .1-1.1 .1 4.2 .1-1.6 .1-4.9 .1 3 .1 1.9 .1 7.3 .1-4.5 .1-1.3 .1-1 .1 2 .1-2.5 .1-1.3 .1 8.4 .1-10.2 .1 4.1 .1 6.5 .1-3.5 .1 1.5 .1-10 .1 10.3 .1-2.3 .1-6.3 .1 10.5 .1-1.6 .1-7.1 .1 1.8 .1 1.4 .1-5 .1 2.8 .1 3.7 .1-2.6 .1-.3 .1 .7 .1 .4 .1 .2 .1-3.6 .1 8.8 .1-4.5 .1-.7 .1-2.5 .1-1.1 .1 4.5 .1-5.1 .1 .1 .1 1.9 .1 5 .1-4.3 .1 2.5 .1-4.3 .1 .8 .1-.8 .1 2.7 .1-4.3 .1 3 .1-2.7 .1 5.5 .1 0 .1-.7 .1-4 .1-.2 .1-.3 .1 5.2 .1-2.8 .1 1.3 .1 2.1 .1 3 .1-5.2 .1-.5 .1-1.5 .1 4.7 .1-5.1 .1 7.2 .1-5.9 .1-.1 .1 1.7 .1 1.2 .1-2.2 .1 1.1 .1-4.4 .1 5 .1-3.4 .1 1.5 .1-.6 .1 2.1 .1 .1 .1-2.4 .1 4.4 .1-6.9 .1-5.3 .1 9.6 .1 5 .1-11.2 .1 4.2 .1 1.1 .1-.5 .1 .6 .1 .1 .1 .2 .1-1 .1 2.2 .1-3.3 .1-.5 .1-1.2 .1 1 .1-2.9 .1 5.2 .1 .1 .1 1.9 .1-3.9 .1 3.8 .1-2.1 .1 4.1 .1-2.8 .1-.1 .1-2.4 .1 4 .1-3.4 .1 4.9 .1-1.7 .1-4.3 .1 2.2 .1 1.1 .1 3 .1-2.9 .1-.7 .1 2.9 .1-5.5 .1-.6 .1-.2 .1 3.8 .1-4.4 .1 8.6 .1-4.5 .1 1.6 .1-1.2 .1-2.9 .1 .2 .1-.3 .1 4.1 .1-2.4 .1-7.1 .1 8.1 .1 2.5 .1-1.3 .1-1.4 .1 3.9 .1-3.9 .1 1.9 .1-1.9 .1 .8 .1-.7 .1-4.5 .1 4.4 .1 .7 .1-.7 .1 2 .1 0 .1-6.1 .1 5.6 .1 4.1 .1-5.1 .1 .1 .1-4.5 .1 4.8 .1 1.3 .1 6.9 .1-5.6 .1-.4 .1-3.7 .1-.5 .1 1.7 .1-2.6 .1 3.3 .1 1.9 .1-4.3 .1 5.2 .1-4.5 .1 1.8 .1-3 .1-.8 .1 3.7 .1-2.9 .1 3 .1-.3 .1-4.3 .1 2.8 .1 2.3 .1 2 .1-2.1 .1-1.7 .1-1.9 .1-1.6 .1 4.2 .1 .4 .1 .1 .1-.1 .1 1.8 .1-3.4 .1 1.1 .1 2.5 .1-5.6 .1 2.7 .1 .3 .1-4.3 .1-1.1 .1 .8 .1 5.6 .1-2.3 .1-2.4 .1 .1 .1 2.1 .1 4.3 .1 1.4 .1-4.2 .1-1.6 .1 1.8 .1-2.1 .1-.6 .1-1.8 .1 .6 .1 3.4 .1-1.4 .1 .8 .1 3.4 .1-6.1 .1 4.5 .1-3.7 .1-1.2 .1 8 .1-6.9 .1 1.2 .1 .7 .1 2.7 .1-2.7 .1 3.2 .1-6.7 .1 4.3 .1-2.9 .1 2.8 .1-.3 .1-2.6 .1 4.1 .1-1.7 .1 2.5 .1-2.8 .1-1 .1-1.4 .1-.4 .1-2.4 .1 6 .1-.4 .1-2.4 .1 3.4 .1-1 .1-2.7 .1 4.4 .1-.1 .1 .1 .1-.5 .1 2.5 .1-3.2 .1 3.6 .1 0 .1-1.3 .1-1.1 .1-5.4 .1 5.9 .1-2.1 .1 5.3 .1-3.5 .1-2 .1-4.3 .1 1.3 .1 1.6 .1 .9 .1 2.5 .1 .1 .1-3.4 .1-4.1 .1 3.6 .1 4.3 .1-.8 .1 1 .1-2.8 .1 1.4 .1 3.2 .1 4 .1-10 .1 2.2 .1 7.4 .1-8.9 .1 5 .1-2.7 .1-5.2 .1 1.3 .1 4 .1 .6 .1-.4 .1-1.5 .1 .3 .1-.7 .1-3.8 .1 10.1 .1 .3 .1-.9 .1-7.9 .1 4.1 .1-5 .1 2.3 .1 7.1 .1-8.4 .1-.1 .1 5.4 .1 .9 .1-4.2 .1 .8 .1-.6 .1-5.1 .1 6.2 .1-1.6 .1 3.1 .1-.5 .1-5.8 .1 4 .1-.6 .1 3.4 .1-.6 .1-.8 .1-.8 .1 1.2 .1 .5 .1-3.1 .1 .8 .1-2.3 .1 .8 .1 6.8 .1-3.3 .1 .3 .1-.9 .1-5.8 .1 4.4 .1 4.7 .1-1.6 .1-3 .1 3.6 .1-3.7 .1 5.2 .1-4.4 .1 5 .1-5.9 .1-1.5 .1 3.1 .1 .8 .1-7.2 .1 5.2 .1-.4 .1-.3 .1 1.4 .1-1.8 .1 1.1 .1 1.9 .1-2 .1 6 .1-7.6 .1 .2 .1 .6 .1 3.7 .1-4.8 .1 9.5 .1-3.2 .1-2.5 .1-2.1 .1 2.6 .1-2.2 .1 1.2 .1 4.8 .1-4.2 .1 2.1 .1-.6 .1 2.2 .1-4.8 .1 5.5 .1 2.3 .1-8.1 .1 3.9 .1-2.8 .1 1.4 .1-1.9 .1-.3 .1 1.4 .1-1.1 .1 .7 .1-1.7 .1-3.1 .1 9.4 .1-4.3 .1-1.5 .1-2.2 .1 6.7 .1-5.1 .1 4.6 .1-3.2 .1 6.3 .1-6.4 .1 3.1 .1-4.1 .1 1.9 .1 6 .1-6.8 .1 1.6 .1-4.4 .1 .5 .1 3.4 .1 1.4 .1-.5 .1-2.6 .1 1 .1 2.9 .1-4 .1 1.7 .1 0 .1-2.3 .1-.4 .1 3.1 .1 .9 .1 1.4 .1-4.4 .1 2.1 .1 2.7 .1-.3 .1-6.7 .1 2.1 .1-.7 .1 3.8 .1-3.9 .1 4.9 .1-1.7 .1-4.9 .1 .8 .1 4.5 .1-1.5 .1 0 .1-2.2 .1 .9 .1 .4 .1 1.2 .1 1.8 .1-5.1 .1 5.7 .1-2.3 .1-3.3 .1 5.6 .1-4.5 .1 5.1 .1-3.1 .1 1.3 .1-1.1 .1 .7 .1-6.7 .1 5.6 .1 .6 .1-1.1 .1-3.3 .1 8.1 .1 .2 .1-7.4 .1 0 .1-1 .1 6.1 .1-5.2 .1-.8 .1-1.1 .1 3.4 .1-.8 .1-3.7 .1 3.5 .1 2.1 .1-3.9 .1 2.2 .1 2.1 .1 .1 .1 0 .1-4.4 .1 4.3 .1-2.9 .1 1.1 .1 1.8 .1-1 .1-.2 .1 .6 .1-3 .1-2.9 .1 7.7 .1-4.8 .1 2.2 .1-5.2 .1 10.5 .1-5.4 .1-1.5 .1 3.1 .1-1.4 .1-2.1 .1 1 .1 4.6 .1-.5 .1-5.8 .1 5.1 .1 .6 .1-4.7 .1 4.6 .1-8.7 .1 4.2 .1-.2 .1-.6 .1 3.3 .1-1.6 .1-2.5 .1-.4 .1 .3 .1 1 .1-3.2 .1 3.6 .1 2.7 .1-1.2 .1-6.4 .1 1.5 .1 3.3 .1 2.2 .1 6 .1-8.1 .1 1.9 .1-5.4 .1 3.8 .1-2.8 .1 2.6 .1 3.1 .1-4.4 .1 6.3 .1-3.8 .1 0 .1 2.6 .1-5.3 .1 4.1 .1-4.8 .1 2.2 .1 .7 .1-2.9 .1 4.5 .1-2.8 .1 3.2 .1-1.9 .1-6.2 .1 3.7 .1 .1 .1-2.1 .1 4.9 .1-4.9 .1 5.1 .1 .4 .1-3.1 .1-.9 .1-.1 .1-1.5 .1 3.9 .1-3.2 .1 6.6 .1-2.6 .1 3.1 .1-6.5 .1 .5 .1 2.7 .1 4.1 .1-5.2 .1-5.2 .1 3.5 .1-.4 .1-1.8 .1 .5 .1 4.3 .1-.4 .1-10.4 .1 10.9 .1-4.5 .1 4 .1 4.7 .1-8.8 .1 2.3 .1 5.4 .1-3.5 .1 .9 .1-3 .1 4.1 .1-8.4 .1 6.1 .1-6 .1 6 .1-.6 .1 1.2 .1-3 .1 3.1 .1-.3 .1 .5 .1-3.2 .1 .1 .1 .8 .1-1.1 .1 3.1 .1-1.6 .1 1.7 .1 .8 .1-2.2 .1 2.6 .1-1.4 .1-7 .1 12.1 .1-3.3 .1-5 .1 8 .1-8.3 .1 2.6 .1 1.9 .1-2 .1-.4 .1 3 .1-.9 .1 2.3 .1-2.5 .1-2.5 .1 2 .1 4 .1-4.6 .1 4 .1-.8 .1-3.6 .1-4.2 .1 2.6 .1-1.1 .1 3.4 .1-1.6 .1 .3 .1 2.8 .1 1.6 .1-3.2 .1 5.4 .1-10.6 .1 5.8 .1 7.7 .1-9 .1-1.7 .1-.5 .1 2.7 .1 .9 .1 2 .1-6.8 .1 1.6 .1 1.3 .1 .9 .1-1.8 .1 4.8 .1-2.9 .1-2.8 .1 1.7 .1 2.7 .1 .1 .1 .4 .1-1.9 .1 .8 .1-4.2 .1 2.5 .1-.3 .1 3.1 .1-10.6 .1 6.6 .1 2 .1-3.8 .1-.3 .1 4.3 .1 .2 .1-3.5 .1 4.9 .1-1.2 .1-1.3 .1-.4 .1-5.9 .1 12.3 .1-3 .1-1.1 .1-2 .1 2.7 .1-4.7 .1-.3 .1 1.9 .1 5.5 .1-5.8 .1 1.8 .1-3.9 .1 6.2 .1-5.4 .1 .9 .1 1.2 .1-3.5 .1 1.6 .1 2.6 .1-.9 .1 3.6 .1-6.8 .1 2.3 .1 3.5 .1 1.5 .1-.1 .1-1.7 .1-.4 .1 1.3 .1 2.3 .1-10.1 .1 5.7 .1-4.5 .1 .3 .1-2 .1 5 .1 7.6 .1-6.4 .1-.7 .1-1.7 .1 2.7 .1 3.5 .1-7.2 .1 3.6 .1 1.6 .1 .4 .1-4.3 .1 1.2 .1 2 .1-2.9 .1 4.2 .1-.6 .1 4.2 .1-6.6 .1 4 .1-6.1 .1 2.8 .1-2.9 .1 4 .1 2.4 .1 1.4 .1-4.2 .1 .9 .1-4.7 .1 3.5 .1 2.5 .1-2 .1 2.1 .1-4.4 .1-1.5 .1 3.9 .1 6.6 .1-6 .1 2.1 .1-3.9 .1-.4 .1-2.9 .1 4.8 .1 3.1 .1-4.5 .1 1.7 .1 4.2 .1-.4 .1-2.5 .1 1 .1 2.7 .1-5.7 .1-2.9 .1 4.2 .1 1.1 .1 1.3 .1-7 .1 3 .1 .6 .1 1.1 .1 5.5 .1-4.6 .1-1.2 .1-1.5 .1 7.5 .1-6.1 .1-4.1 .1 2.1 .1 3.2 .1-2.2 .1 2.4 .1-.7 .1 1.5 .1-1.3 .1-.7 .1 4.5 .1-5.3 .1-.6 .1 5.5 .1 .5 .1-8.8 .1 7.3 .1 1.6 .1-3.8 .1-.5 .1 .7 .1 2.2 .1-2.3 .1 .2 .1 .3 .1 1.2 .1-.1 .1 2.5 .1-2.8 .1-2.4 .1-3.8 .1 1.3 .1 6.6 .1-4.6 .1 2.2 .1 .8 .1 2.6 .1-6.9 .1 9 .1-7.6 .1-.5 .1 7.7 .1-4.4 .1 2.6 .1-3.9 .1 3.9 .1-3.6 .1 2.7 .1-.1 .1-2.5 .1 5.7 .1-2.9 .1 .2 .1 .8 .1-4.1 .1 1.8 .1 2.6 .1-8 .1 7.9 .1 .1 .1-2.4 .1 .1 .1-3.3 .1 5.6 .1-6.3 .1 5.9 .1-6.1 .1 4.1 .1-4.7 .1 7 .1-2.3 .1-.5 .1-1.2 .1-1.7 .1 .7 .1 2.7 .1 1.2 .1 1.8 .1-3.8 .1-4.3 .1 4.7 .1-3.3 .1 7.4 .1-3.9 .1-.9 .1-.2 .1 3.4 .1 .2 .1-6.8 .1 8.7 .1-6 .1 .5 .1 2.6 .1-.8 .1 3.7 .1-.9 .1-.4 .1-3.3 .1 5.4 .1-8 .1 2.2 .1-1.6 .1 5.8 .1-2.8 .1 1.8 .1-5.3 .1 7.7 .1-5.2 .1 4.4 .1-.5 .1-3.6 .1 .2 .1 .9 .1 2.8 .1-4.8 .1-2.2 .1 8.3 .1-.8 .1-8 .1 4.4 .1 .8 .1 .9 .1-2.1 .1 3 .1-.1 .1 0 .1 2.7 .1-1.6 .1-1.2 .1-2.2 .1 0 .1 1.2 .1 .5 .1 3.2 .1 0 .1-4.5 .1 .7 .1 2.6 .1-.5 .1-3.8 .1 6.8 .1-3.2 .1-2 .1-1.8 .1 4.3 .1-1.3 .1-.2 .1 3.9 .1-2.4 .1 1.2 .1 1.9 .1-5.7 .1 1 .1 1.2 .1-.2 .1-.2 .1 3 .1-5.7 .1 1.3 .1 1 .1-.2 .1-5.7 .1 4.4 .1 7.7 .1-6.4 .1 8.8 .1-14.4 .1 7.3 .1-1.7 .1 3 .1 1.6 .1 1.3 .1-3.8 .1-1.9 .1 3.8 .1-3.2 .1 1.9 .1-2.3 .1-1.6 .1 0 .1 7.3 .1-3.2 .1 1 .1-1.5 .1 1 .1 .5 .1-.6 .1-2.5 .1 1.2 .1 2.7 .1-8.9 .1 4.7 .1 4.1 .1-2.1 .1-2.4 .1 2.9 .1-2.1 .1 2 .1 1.2 .1-4.3 .1 6.2 .1 2.1 .1-6.4 .1-2.2 .1 4.4 .1-1 .1 .1 .1 .5 .1 1.6 .1-6.3 .1 7.1 .1 1.3 .1-3 .1-1.6 .1-3.5 .1 6.7 .1-1.7 .1 3 .1 .5 .1-1.4 .1-3.8 .1 3.9 .1 .3 .1 1.2 .1 2.8 .1-2.8 .1 3.2 .1-6.1 .1 .1 .1 .7 .1 1.6 .1-1.2 .1-4.2 .1 .3 .1 3.1 .1-1.3 .1 3.7 .1 3.8 .1-5.2 .1-3.1 .1 2.5 .1 4.1 .1-4 .1 2.4 .1 1.7 .1-3.6 .1 5.1 .1-6.6 .1-.2 .1 2.7 .1 1.7 .1-7.6 .1 5.8 .1 .4 .1 1.8 .1-3.4 .1 3.2 .1-5.1 .1 1 .1 1.9 .1 1.1 .1 4.6 .1-5.5 .1 4.1 .1-6.5 .1 1 .1 .5 .1 3.2 .1-1.1 .1 2.2 .1-3.7 .1 .9 .1-1.7 .1-.3 .1 .2 .1 5.9 .1-6 .1 2.4 .1-1.2 .1 .2 .1 2.5 .1 5.6 .1-11.4 .1 2.5 .1-1.2 .1 4.5 .1-1.3 .1 1 .1-1.2 .1-1.4 .1-6.2 .1 6.8 .1-2.3 .1 4.1 .1 1.6 .1-6.7 .1 4.7 .1-3.6 .1-3.1 .1 5.6 .1 3.5 .1-.7 .1-1.8 .1-3.6 .1 6.7 .1-5.2 .1-3 .1 3.1 .1 2.4 .1-3.2 .1 2.6 .1-1.3 .1 3.8 .1-3 .1-.1 .1-4.2 .1 7 .1 .1 .1-1.7 .1-.3 .1-1.8 .1-.1 .1 2.5 .1-.6 .1-2.2 .1-1.3 .1 1.5 .1 3.8 .1-4.2 .1 7.7 .1-5.8 .1-3.1 .1 3.8 .1 7 .1-3.9 .1-4.4 .1-2.3 .1 6.1 .1-5.8 .1 3.1 .1 1.1 .1-4.3 .1 1.9 .1-1.4 .1-.2 .1-3.5 .1 9.8 .1-4.3 .1-3.2 .1 4.3 .1-.5 .1 1 .1-2.4 .1 4.2 .1-7.8 .1 5.7 .1 5.6 .1-4.8 .1-4.5 .1 1.6 .1 2.3 .1-3.8 .1-2.5 .1 3.6 .1-2.6 .1 4.8 .1-6.8 .1 4.2 .1 7.9 .1-5.6 .1 3.1 .1-2.1 .1-6.8 .1 4.4 .1-.7 .1 3.6 .1-6.1 .1 5.7 .1-4.5 .1 6 .1-1.4 .1 .4 .1 3.7 .1-5.9 .1 1 .1-3.2 .1 1.9 .1-1.7 .1 3.6 .1-3.5 .1 2.7 .1 4.7 .1-6.3 .1 1.5 .1-2.7 .1 5.7 .1-.1 .1-1.1 .1 .4 .1 1.3 .1-3.3 .1-2.2 .1 2.7 .1-6 .1 2.5 .1-.6 .1 1.3 .1 3.9 .1-7.4 .1 8.3 .1-6.9 .1 6.3 .1-5.9 .1 3.8 .1-3.6 .1 5.6 .1-2.2 .1-6.1 .1 9.4 .1-4.2 .1 .6 .1-3.8 .1 6.1 .1-2.5 .1-3.3 .1 4.3 .1-1 .1-1.7 .1 3.1 .1-6.1 .1 5.5 .1-.7 .1 1.8 .1-2.9 .1 .7 .1 2.3 .1 .5 .1 .8 .1-2.2 .1 2.5 .1-6.2 .1 7.1 .1 2.1 .1-7.8 .1-1.2 .1 .9 .1 5.7 .1-2.3 .1-6.2 .1 .7 .1 6.1 .1-2.8 .1-1.7 .1 .5 .1 .3 .1-3.6 .1 2.6 .1 2.3 .1 2.4 .1 .2 .1-5.8 .1 5.8 .1-5.4 .1 7.8 .1-2.2 .1 2.6 .1-4.1 .1-3.6 .1 5.2 .1-2.1 .1-.3 .1-2.9 .1 8 .1-3.8 .1 1.9 .1-.1 .1-3.6 .1 4.6 .1-3.3 .1 1.4 .1-3.7 .1 4.1 .1-4.1 .1 6.5 .1-5.1 .1-4.4 .1 9.4 .1-7.5 .1 2.1 .1 1.2 .1 .4 .1 0 .1 .7 .1 2.4 .1-6.6 .1 3.4 .1 1.1 .1-1.2 .1-2.3 .1 4.8 .1-4.6 .1 2.2 .1 .1 .1 1.7 .1-3.8 .1 1.1 .1 2 .1-3 .1 4.1 .1-1.6 .1-1.8 .1-2.3 .1 3.1 .1 1.1 .1-3.2 .1 4.1 .1-2.2 .1 3.1 .1-3.3 .1-4.3 .1 4.4 .1-3.4 .1 4.7 .1-.3 .1-6.7 .1 4.2 .1 4.5 .1-.7 .1-.2 .1-.8 .1-4.8 .1-.2 .1 8.9 .1-8.3 .1 5.9 .1-.2 .1-4.3 .1 1.9 .1 .3 .1 .5 .1-2.8 .1 1 .1-1.9 .1 3.6 .1 1.1 .1-2.1 .1 3.8 .1-1.5 .1-3.9 .1-1.2 .1 2.7 .1 1.3 .1-2.4 .1 2.1 .1 .7 .1-3.6 .1 1.6 .1 3.2 .1-4.8 .1 2.1 .1 1.6 .1 .9 .1-3.9 .1-5.1 .1 .2 .1 6.9 .1 .7 .1-5 .1 5.3 .1-1.3 .1-3.6 .1 1.2 .1 5.6 .1-3 .1 2.1 .1-3.1 .1 1.8 .1 .5 .1 4.2 .1-1.6 .1-6.2 .1 3.9 .1-2.8 .1 1.2 .1-.7 .1 2 .1-1 .1-4.7 .1 4.2 .1 2.8 .1-4.6 .1 1.4 .1 1.6 .1-2.5 .1 7.6 .1-7.2 .1-1.2 .1-3 .1 9.7 .1-.9 .1 3.2 .1-8.7 .1 1.6 .1 0 .1 4.1 .1-8.2 .1 3.9 .1-3.9 .1 1.5 .1-1.8 .1 5.9 .1-3.9 .1 1.9 .1-6.7 .1 10.7 .1-3.7 .1 1.6 .1-1 .1-1.3 .1 1.1 .1 3.3 .1-2.4 .1-3.7 .1 5.2 .1-8.7 .1 8.9 .1-7.3 .1 6.6 .1 .4 .1-6.2 .1-.4 .1 7.7 .1-6.1 .1 0 .1 1.8 .1-1.1 .1 .4 .1-.1 .1-1.8 .1 4.1 .1-.4 .1 .9 .1 1.8 .1-1.1 .1 .7 .1-2.2 .1 2.2 .1 2.7 .1-6.4 .1 1.7 .1 0 .1 .8 .1 2 .1-7.3 .1 6.7 .1-3.7 .1 1.5 .1-.4 .1-2.5 .1 1.8 .1 2.4 .1-2.2 .1 1.8 .1-1.1 .1 2.4 .1-.7 .1 2.3 .1-4.5 .1-5.2 .1 3 .1 2.2 .1 2 .1-2.1 .1 5.2 .1-5.3 .1 .3 .1 .6 .1 .1 .1 1.5 .1-5.2 .1-1.1 .1 4.4 .1-.5 .1 .6 .1-4.9 .1 8.3 .1 3.7 .1-6.1 .1-6.2 .1 9.8 .1-2.8 .1-1 .1 .5 .1-.4 .1 .3 .1-1.4 .1 4.9 .1-5.3 .1-1.2 .1 3.8 .1 3.4 .1-3.4 .1-5.9 .1 6.8 .1-6.8 .1 .8 .1 1.5 .1 2.1 .1-3 .1 5.3 .1-8 .1 3.2 .1 .9 .1-2.8 .1-.7 .1 4.6 .1-2.2 .1 8.2 .1-6.2 .1-3.4 .1 4.2 .1 4.8 .1-6.1 .1-.3" stroke="#c00000" stroke-width="3.2"/>
<path d="M79.5,331.6l.1 1.9 .1-.2 .1-2.6 .1 .4 .1-.4 .1 1.6 .1-.9 .1 1.2 .1-3.9 .1 5.1 .1-2.4 .1 1.1 .1-1.2 .1-.4 .1 1.3 .1 .5 .1-1.5 .1 .1 .1 1.2 .1-2.3 .1-1 .1 2.9 .1-1.6 .1-1.9 .1 1.7 .1 .5 .1-1.1 .1-.4 .1 2.3 .1 1.2 .1-1.7 .1-.7 .1 1.7 .1 .5 .1-1.6 .1 1.3 .1 .8 .1-1.9 .1-.9 .1 1.7 .1-.1 .1 1.2 .1-3.5 .1 .9 .1-.3 .1-1.3 .1 2.8 .1 .6 .1-1.9 .1 3.2 .1-.9 .1-.3 .1-.3 .1 .8 .1-3.4 .1 2.9 .1 0 .1-3.6 .1 3.2 .1-.9 .1 1.6 .1-1.9 .1 .7 .1 .5 .1-1.8 .1 2.2 .1-1.1 .1 .9 .1-1.5 .1 2.4 .1-.7 .1-1.2 .1 1.2 .1 1 .1 .8 .1-5.1 .1 3.7 .1-.6 .1-.9 .1-1.3 .1 3.4 .1-3.8 .1 2.7 .1 1.1 .1-4.3 .1 1.9 .1-1.5 .1 2.4 .1 1.9 .1 .7 .1-5.7 .1 1.8 .1 1.9 .1 1.4 .1-1.8 .1-1.7 .1 1.5 .1-.4 .1-.3 .1-.8 .1 1.7 .1-.2 .1-.6 .1-.2 .1-1.6 .1 1.3 .1 2.5 .1-2.1 .1-1.9 .1 4.2 .1-1.2 .1 2.4 .1-3.1 .1-.8 .1-1.5 .1 4.2 .1 1.9 .1-5.2 .1 .3 .1 1.9 .1-2.2 .1 .9 .1-.1 .1 .8 .1 1.3 .1-1.6 .1 1.4 .1-2.1 .1 1.2 .1-3.7 .1 1 .1 3.4 .1-2.1 .1 1.8 .1-.1 .1 1.2 .1-.8 .1 .3 .1-1.7 .1-.9 .1 0 .1 .3 .1-.9 .1 .8 .1 .7 .1 .6 .1-.9 .1-2.4 .1 2.8 .1 .4 .1 1.3 .1-.8 .1-1.8 .1-.1 .1 4.1 .1-1.9 .1 1.6 .1 .5 .1-4.5 .1 1.9 .1 .1 .1 .1 .1 0 .1-.5 .1-.1 .1-2.5 .1 2 .1-.9 .1 1.4 .1-.9 .1 1.6 .1 .3 .1-.8 .1 0 .1-.3 .1-.8 .1 .4 .1-.5 .1 1.4 .1-.6 .1 .8 .1-2.8 .1 3.3 .1-2.5 .1 .1 .1 .8 .1-.6 .1 1.3 .1-1.3 .1-.8 .1 .4 .1 3.3 .1-2 .1-1.8 .1 1.8 .1-2.4 .1 5.1 .1-5.1 .1 3.1 .1 .1 .1-3 .1 2.6 .1 1.1 .1-.8 .1-.3 .1 1 .1-1.2 .1 .3 .1-.7 .1 1.1 .1-2.4 .1 2.7 .1-2 .1-.9 .1 2.2 .1 2 .1-1.1 .1-2.2 .1 1.8 .1-1.7 .1 .5 .1 .3 .1-3.7 .1 3.8 .1-1.8 .1 .5 .1-1.2 .1-.1 .1 .9 .1 2.7 .1 1.3 .1-2.6 .1 1.7 .1-2.1 .1-2.5 .1 3.2 .1 .4 .1-1.3 .1 1.1 .1 .4 .1-2.2 .1-.9 .1 1.9 .1 0 .1-.2 .1 2.1 .1 1.1 .1-3.3 .1 1.7 .1 .4 .1-.4 .1 .5 .1-2.1 .1 1.7 .1 1.9 .1-1.8 .1-2.2 .1 1.9 .1 1 .1-1.4 .1-1.4 .1 3.2 .1-4.3 .1 2.7 .1-.8 .1-1.8 .1 3.7 .1-1.3 .1-2.3 .1 2.7 .1-1.6 .1-2.3 .1 1.9 .1 1.4 .1 .6 .1-.7 .1-.2 .1 .7 .1-1.1 .1 2.1 .1-1.5 .1 .2 .1 .4 .1-2.5 .1 .6 .1 3.4 .1-1.8 .1-1 .1 1 .1-1.3 .1 1.2 .1-1.5 .1 1.5 .1-2.9 .1 4.5 .1-2.9 .1-1.6 .1 2.1 .1-.2 .1 .8 .1-2 .1 2.3 .1 5 .1-7.5 .1 2.5 .1-1 .1 .7 .1-3.1 .1 1.1 .1 2.4 .1-.7 .1 2.5 .1-3.6 .1 1.4 .1 4.2 .1-5.6 .1-.3 .1 1.4 .1 0 .1 1.3 .1-1.1 .1-1.3 .1 1.5 .1 3.7 .1-2.1 .1-6.3 .1 4.1 .1-1.1 .1 2.3 .1-1.2 .1 3.2 .1-1.5 .1-.1 .1-1.1 .1-.3 .1 .5 .1 1.5 .1-1.2 .1-1.3 .1 2.5 .1-1.7 .1-.4 .1-1.1 .1 .3 .1-.1 .1-3.3 .1 5.9 .1-.7 .1-1.2 .1 1.9 .1-.9 .1-.1 .1-4.4 .1 3.5 .1 1.1 .1 1.7 .1 .4 .1-.7 .1-4 .1-1.6 .1 4.3 .1-.8 .1 1.4 .1-1.7 .1 .6 .1-2.7 .1 3 .1-1.4 .1 1.3 .1 .1 .1-.9 .1 .7 .1-.5 .1 1.2 .1-.4 .1-1.6 .1-.1 .1 3.6 .1-2.8 .1 1.6 .1-.9 .1-1.5 .1-.3 .1 1.4 .1 .2 .1 .6 .1-3 .1 1.1 .1 .8 .1 2.6 .1-6.2 .1 4.4 .1-1.5 .1 1.5 .1-1.5 .1 1.4 .1 1.8 .1-1.8 .1 .1 .1-.1 .1-1.8 .1 2 .1-1.1 .1-1 .1 1.2 .1-.3 .1 1.6 .1-1.3 .1-.7 .1 3.1 .1-.8 .1 .5 .1-1.1 .1-1.1 .1-.5 .1 .3 .1 1.9 .1-1.3 .1-2.5 .1 2.2 .1-2.1 .1 2.5 .1-2.2 .1-.1 .1 2.2 .1-.3 .1-2.5 .1 3.8 .1 2.2 .1-5.7 .1 5.1 .1-3.9 .1 .3 .1 .5 .1-2 .1 4.3 .1-1.2 .1-2 .1 .8 .1-2 .1 1.8 .1 2 .1-4.1 .1 2 .1 .9 .1 1.4 .1 .5 .1-2.8 .1-.5 .1 1.9 .1-1.3 .1 .1 .1 2.2 .1 .9 .1-2.2 .1-.7 .1 1.2 .1-3.9 .1 3 .1-1.7 .1 5.4 .1-2.6 .1-.9 .1-.5 .1-3.6 .1 5 .1 1.4 .1-3.7 .1 2.2 .1 .1 .1-3.5 .1 3.8 .1 .7 .1-1.8 .1-.4 .1 1.3 .1-3.6 .1 2.5 .1 1.5 .1-3.6 .1 3.5 .1-2.2 .1-2.6 .1 3.1 .1-1.3 .1 2 .1-2.4 .1 3.5 .1-2.8 .1 1.7 .1-1.5 .1 .5 .1 2.3 .1-1.5 .1-1 .1-1.3 .1 3.8 .1-.7 .1-1.6 .1 .8 .1-1.9 .1 0 .1 .3 .1 1.8 .1-.1 .1-1.6 .1 2.3 .1 .1 .1-1 .1 1.4 .1-2.1 .1 .3 .1 .9 .1-.8 .1 1.3 .1-3.2 .1 4.2 .1-3.5 .1 1 .1-1.9 .1 3.1 .1 1.1 .1-.4 .1-.3 .1-3.8 .1 1.2 .1 .5 .1-.7 .1 3.2 .1-1.5 .1-.3 .1 .8 .1-2.2 .1 0 .1 .1 .1 2.1 .1-.2 .1 .4 .1 .7 .1-3.8 .1 1.3 .1 1.1 .1-2.4 .1 1.3 .1 2.4 .1 .2 .1-.1 .1-1.6 .1-.4 .1 2 .1-2.2 .1 1.1 .1 1.5 .1-2.6 .1-.4 .1 .9 .1 1 .1-.2 .1-.5 .1 .6 .1-3.4 .1 1.2 .1 1.6 .1-1.7 .1-.7 .1 .2 .1 .5 .1 1.2 .1-1.4 .1 2 .1 2.3 .1-2.9 .1 2.2 .1-1.5 .1-2.2 .1 1.3 .1-1.1 .1 2.7 .1-3 .1 3.9 .1-1.2 .1-4.1 .1 4.5 .1 1.2 .1-3.7 .1 2.8 .1-4.4 .1 3.2 .1-3 .1 3.4 .1-3.6 .1-1.3 .1 4.7 .1 3 .1-4.5 .1 2.2 .1-1.1 .1-.7 .1 1.5 .1 1.6 .1-4.5 .1 2.8 .1-.3 .1-2.8 .1 4.8 .1 .5 .1-4.6 .1 4.3 .1-2.7 .1-.3 .1 2.6 .1-2 .1 .1 .1 1.9 .1-.3 .1-.7 .1-3.6 .1-.3 .1 4.3 .1-3.3 .1 1.7 .1-1.9 .1 1.4 .1-1.7 .1 4.6 .1-4.2 .1 1.4 .1-.1 .1 2.2 .1-4.2 .1 2.2 .1-.2 .1 1.1 .1-.1 .1-1.4 .1 1.1 .1-1 .1 1.3 .1-.9 .1-.8 .1 1 .1 .6 .1 3 .1-4.4 .1 1.3 .1 1.8 .1-5.6 .1 .5 .1 .9 .1 1.7 .1 4.1 .1-3.3 .1 1.3 .1-2.3 .1-3.5 .1 .2 .1 5.3 .1-1.3 .1-2.4 .1 3.9 .1-4.3 .1 4.3 .1 .5 .1-3.5 .1-.6 .1 3.1 .1-3.1 .1 3.2 .1-3.3 .1 3.2 .1-1.2 .1-.8 .1-.8 .1 1.9 .1-3.4 .1 2.5 .1-.2 .1 1.8 .1-3.1 .1 4.7 .1-3.2 .1-1.3 .1 4 .1 .4 .1-2.9 .1-1.2 .1 1.5 .1-1.1 .1 .6 .1 3 .1-1.9 .1-.4 .1 .3 .1-.6 .1 1.4 .1 .1 .1-2 .1 .7 .1 3.7 .1-3.2 .1-.9 .1 3.5 .1-3.2 .1-1.8 .1 2.8 .1-2.5 .1 .7 .1 1.3 .1-.7 .1-1.1 .1 .4 .1-.1 .1 2.8 .1-3 .1 .2 .1 4.2 .1-4.1 .1 3.2 .1-.2 .1-2.4 .1-2 .1 3 .1 .3 .1 .5 .1-1.4 .1 1.8 .1 .3 .1-3.9 .1 3.9 .1-2 .1-1.2 .1 .4 .1 3.6 .1-1.5 .1-4.4 .1 3 .1-.4 .1 0 .1-.6 .1-1.5 .1 3.7 .1-2.9 .1 .9 .1-.3 .1-.2 .1 2.3 .1-.5 .1-1.7 .1-.5 .1 .8 .1 2.3 .1-1.4 .1 .2 .1-.9 .1 .1 .1 .8 .1-3.3 .1 5.5 .1-3.8 .1 .3 .1 3.1 .1-1.8 .1-.3 .1-1 .1-1.6 .1 2.8 .1 1.6 .1-3.3 .1 3.6 .1-4 .1 .6 .1 2 .1-.8 .1 1.1 .1-2.3 .1-.4 .1-1.4 .1 1.1 .1 .2 .1-.6 .1 2.8 .1-1.6 .1-2.1 .1 7.2 .1-5.3 .1-.7 .1 4 .1-.1 .1-3.7 .1-.6 .1 .8 .1 3.4 .1-2.3 .1-.8 .1 1.3 .1 2 .1-4.2 .1 1.6 .1-1.6 .1 5.7 .1-.6 .1-1.4 .1-1.7 .1 1.3 .1-4.5 .1 3.8 .1-2.6 .1 .1 .1 1 .1 .5 .1 1.5 .1 .2 .1-.7 .1-1.9 .1 2.6 .1-1.3 .1 2.1 .1-3.4 .1-3 .1 3.7 .1 4.3 .1-2.8 .1-1 .1 1.7 .1-.6 .1-.1 .1-1.5 .1 .9 .1 .2 .1-1.4 .1-.7 .1 2 .1 1.4 .1-.6 .1-.2 .1 0 .1 3.4 .1-3.8 .1 1.3 .1 1.5 .1-3.1 .1 .3 .1 1.3 .1 1 .1-2.2 .1 .1 .1-.5 .1-2.1 .1 3.8 .1-2.2 .1-2.4 .1 2.5 .1-2.5 .1 1.1 .1 1.7 .1-1.5 .1 3.2 .1-4.1 .1 2.8 .1 .5 .1 1.5 .1-.9 .1-1.1 .1-.3 .1-.2 .1 1.9 .1-2.9 .1 1.9 .1-1 .1 .6 .1-.9 .1 4 .1-4.6 .1 1.5 .1 0 .1 .6 .1-.3 .1 0 .1 .9 .1-4.1 .1 2.5 .1-2 .1 2.3 .1-2.3 .1 .4 .1 1.5 .1 2.3 .1-1.3 .1-.5 .1 1.9 .1-3.9 .1-1.9 .1 2.8 .1 .2 .1 2.5 .1 1.5 .1-5.7 .1 6.2 .1-1.5 .1-1.2 .1-.7 .1 3.3 .1-3.8 .1-.9 .1 1 .1-2.5 .1 3 .1-.9 .1 .7 .1 0 .1-2.3 .1 3.9 .1-3.8 .1 3.1 .1-4.1 .1 3.3 .1-2 .1 1.4 .1-1.1 .1-2.5 .1 1.7 .1 2 .1 .9 .1-3.5 .1-1 .1 2 .1 1.1 .1-.7 .1-.3 .1 2.7 .1 .2 .1-.3 .1-2.8 .1 1.7 .1-.5 .1-2 .1 3.8 .1-1.3 .1-1 .1 3.2 .1-1.1 .1 .1 .1 .6 .1-.8 .1-3.2 .1 1.4 .1 2.3 .1-2.9 .1 1.3 .1 .6 .1 1.7 .1-.3 .1-.6 .1-1.8 .1 1.8 .1-.6 .1-1.2 .1 2.5 .1-1.4 .1-2 .1 3.3 .1-2.5 .1 1.4 .1-3.5 .1 2.5 .1-1.5 .1-.1 .1-1.5 .1 6.6 .1-3.7 .1 .6 .1 1.4 .1-2 .1 1 .1-3 .1 2.5 .1-1 .1 1.5 .1-.5 .1-2.6 .1-.8 .1 1.4 .1 2.9 .1-.5 .1-.1 .1-3.9 .1-1.1 .1 3.4 .1 .4 .1-.4 .1 1.6 .1-.9 .1-1.7 .1 .5 .1 1.7 .1-.1 .1-.3 .1 3.9 .1-4.2 .1 .7 .1-1.9 .1 1.1 .1 1.4 .1 .1 .1-1.2 .1 .9 .1-.6 .1-3.1 .1-2.3 .1 9.1 .1-2.4 .1-1.5 .1-2.7 .1 .7 .1 4.4 .1-6.8 .1 4 .1 2 .1-1.2 .1 1 .1-1.5 .1 4.2 .1-5.7 .1-.5 .1 2.7 .1 1.9 .1-2.5 .1 1.8 .1-2.5 .1-1.1 .1 4.2 .1 .3 .1-.1 .1-3.2 .1-1.2 .1 0 .1 1.5 .1 1.4 .1-.1 .1-3.2 .1 2.6 .1-.3 .1 .2 .1-.2 .1-.3 .1 1.3 .1-.8 .1 .2 .1-1.5 .1 1.8 .1-.9 .1-3.3 .1 4.3 .1-1.2 .1 1.9 .1-1.8 .1 .1 .1 .5 .1-.3 .1-.7 .1-2.3 .1 6 .1-5.6 .1 2 .1 1.7 .1-.5 .1 .3 .1 .4 .1 .8 .1-1.6 .1 4.3 .1-6.5 .1 2.1 .1-1 .1-.3 .1 1.4 .1 1.9 .1-3.6 .1 0 .1 2.4 .1-.3 .1 2.3 .1-1.5 .1-1.4 .1-.9 .1 .9 .1-.6 .1-2 .1 2.3 .1-.3 .1-.1 .1-.3 .1 3.4 .1-1.6 .1 .4 .1-2.5 .1-.7 .1 1.2 .1 .9 .1-1 .1 .2 .1 1.9 .1-1.1 .1-2.1 .1 .9 .1-.3 .1 1.3 .1-2.2 .1 1.6 .1 1.5 .1-1.1 .1-1.6 .1 .5 .1 1.2 .1 .6 .1 .6 .1-1.6 .1-1.9 .1 4.5 .1-1.9 .1 .2 .1-.2 .1-2.2 .1 1.2 .1 .9 .1 1.3 .1-1.6 .1-5.2 .1 4.7 .1 1 .1 1.5 .1-.9 .1 2.9 .1-1.7 .1-.2 .1-.6 .1-3.9 .1 3.7 .1-.4 .1-1.9 .1 1.9 .1-.3 .1-1.5 .1 .6 .1-.2 .1 .8 .1-1.1 .1 1.6 .1-4.1 .1 2.7 .1-2.3 .1 2 .1 1.6 .1-.8 .1-.2 .1 .3 .1 2.5 .1-4.4 .1 3.2 .1-3.9 .1 1.7 .1 1 .1-1.6 .1 1.7 .1 .9 .1-3.2 .1 1.8 .1-.5 .1-2.5 .1 2.9 .1-1.1 .1 3.6 .1-3.7 .1 4.3 .1-3.7 .1 4 .1-2.3 .1-.1 .1 .6 .1 .1 .1 .9 .1 .5 .1-3.4 .1-1.5 .1-2.4 .1 3.8 .1 1.9 .1-.6 .1-.5 .1-.8 .1-.4 .1 .6 .1 1.1 .1-3.6 .1 4.1 .1-3.6 .1 2.2 .1-.8 .1 .4 .1-1.1 .1-.2 .1 1.5 .1-1.4 .1 5.9 .1-4.8 .1-.4 .1 .2 .1-.9 .1-2.3 .1 3.7 .1 .9 .1-3 .1 2.5 .1-2 .1 1.9 .1 .7 .1 .2 .1-.1 .1-1.9 .1 2.6 .1-2.2 .1 1.3 .1 .6 .1-1.7 .1-1.6 .1 3.2 .1-2.9 .1 .4 .1-.4 .1 3.2 .1-1.6 .1-3.5 .1 5 .1 2.2 .1-.5 .1-3.9 .1 1.1 .1 .7 .1 .6 .1-1.4 .1-1.9 .1 3.1 .1-.3 .1-3.2 .1 1.6 .1 1.1 .1-.5 .1 .9 .1 .4 .1-.4 .1-1.1 .1-2 .1 3.2 .1 1.3 .1 1 .1-3.4 .1 0 .1 2.5 .1 0 .1-1.9 .1 .7 .1-2.5 .1 2.2 .1-2.3 .1 1.1 .1 .1 .1-.6 .1-2.8 .1 2.2 .1 1.9 .1-.7 .1-.5 .1 1.4 .1 .4 .1 .2 .1-2.7 .1 1.4 .1-.6 .1-.9 .1-1.1 .1 2.4 .1-1.3 .1 5 .1-3.8 .1-.2 .1-.3 .1 3.8 .1-4.7 .1 1.3 .1-1 .1 1.1 .1 .1 .1 1.9 .1-4.2 .1 2.3 .1 2.8 .1-3.6 .1 .6 .1-1.2 .1-2.9 .1 4.2 .1 2.1 .1-2.7 .1-2.3 .1 3.5 .1-.3 .1 1.5 .1-.1 .1-2 .1 1.1 .1-3.7 .1 4.9 .1-1.6 .1 1.5 .1 0 .1-2.3 .1 .3 .1-1.2 .1-2 .1 3.2 .1 .5 .1-2.1 .1 3 .1-1 .1 .6 .1-2.1 .1-1.7 .1 4.3 .1-.3 .1-1.2 .1-.5 .1 .2 .1 .2 .1-.6 .1-2.5 .1 4.7 .1-3.8 .1 1.9 .1 0 .1 1 .1-3.2 .1 4.8 .1-1 .1 .2 .1 .8 .1-3.4 .1-3.9 .1 5.8 .1 1.6 .1-.2 .1-2.9 .1 .8 .1 .6 .1-3.5 .1 1.9 .1 0 .1 3.7 .1-3.7 .1 3.7 .1-2.6 .1-2.8 .1 6.5 .1-5.4 .1 2.7 .1 1.8 .1-3.7 .1-1.2 .1 3.8 .1-1.6 .1-2.2 .1 .2 .1 1.2 .1 2.2 .1-2.1 .1 1.6 .1 1.7 .1-.7 .1 .3 .1-.3 .1-4.8 .1 4.7 .1-1.5 .1-.7 .1-1.6 .1-.9 .1 .8 .1 1.8 .1-1.9 .1 .6 .1 .3 .1 2.2 .1-1.7 .1 .3 .1 2.5 .1-2.8 .1 1.5 .1-2.8 .1 2.4 .1-.4 .1 .1 .1-1.1 .1-1 .1 1.3 .1-.3 .1 2.5 .1-.2 .1-3.6 .1 3.1 .1-1.9 .1 1.6 .1-1.6 .1-1.7 .1 4.2 .1-.9 .1-2.9 .1-1.1 .1 2.3 .1-1.1 .1 1.3 .1 1.7 .1 1.4 .1-3.1 .1 2.9 .1-.3 .1-2.8 .1-2.1 .1 4.3 .1-.4 .1 2.9 .1-1.6 .1-1.1 .1 1.6 .1-4.7 .1 2.1 .1-.8 .1 3.4 .1-2 .1-6.2 .1 7.5 .1-3.9 .1 2.9 .1-2.2 .1 1.3 .1 .6 .1-.8 .1-1.9 .1 4 .1-1.8 .1-.7 .1 1.2 .1-2.1 .1 4.1 .1-2.8 .1 .2 .1-.1 .1-2.1 .1-.5 .1 2.4 .1 .2 .1 1.7 .1-1.6 .1-2.7 .1 2.8 .1 .5 .1 .3 .1-1.2 .1-2.7 .1 4.1 .1-3.3 .1 2.2 .1-3.7 .1 4 .1-2.7 .1 3.2 .1 1.2 .1-1 .1-4.1 .1 .3 .1 .1 .1 2.7 .1-.6 .1-.3 .1 .2 .1 .5 .1 .1 .1 1.7 .1-3 .1 .4 .1-3.6 .1 .9 .1 1.1 .1-.9 .1 2.4 .1 1.4 .1-2.6 .1-.1 .1-.1 .1 1.1 .1-1.2 .1 1.7 .1-.3 .1 .1 .1 .7 .1-1.3 .1 .1 .1 2.8 .1-3.2 .1 1.5 .1-1.4 .1-.9 .1 0 .1-.7 .1 1.4 .1-1.1 .1 .3 .1 2.8 .1-2.4 .1 2.2 .1-1.6 .1 1 .1-2.6 .1 1.3 .1 4.4 .1-3.3 .1 .3 .1-1.5 .1 1.1 .1-3.6 .1 .5 .1 2.2 .1 .6 .1-2.2 .1 .3 .1-.3 .1 .2 .1-1.8 .1-.5 .1 2.4 .1-3 .1 1.3 .1 .5 .1-.8 .1 2.3 .1-1.3 .1 .6 .1-1.7 .1 .4 .1 2.1 .1-.3 .1-1.5 .1 1.4 .1-.4 .1-.1 .1 2.5 .1-3.6 .1 1.4 .1-.1 .1-1.2 .1-1.7 .1 3.2 .1-.8 .1-.5 .1-.1 .1 0 .1-1.7 .1 2 .1-3.7 .1 3 .1-2.6 .1 1.9 .1 1.8 .1-1.8 .1-.4 .1 1.6 .1-1.4 .1-.3 .1 0 .1 3.2 .1-1.5 .1-.4 .1-3 .1 3.1 .1-3.4 .1 3 .1-2.8 .1 5.2 .1-6.3 .1 4.9 .1-.8 .1-4.4 .1 2.5 .1 2.8 .1-.6 .1-4.8 .1 1.9 .1-1.2 .1 .2 .1 .5 .1 4.2 .1-3 .1-.7 .1-.2 .1 1.6 .1 0 .1-2.8 .1 3.9 .1-4.3 .1 1.2 .1 1.2 .1 2 .1-3.5 .1 1 .1 1.6 .1-1.2 .1 .7 .1-.2 .1-1.4 .1 .6 .1 .4 .1-1.7 .1 2.6 .1-5.9 .1 1.6 .1 3.8 .1-1.7 .1-1.9 .1 1.6 .1 1.1 .1-2.8 .1 2.1 .1-1.5 .1-.1 .1 0 .1 1.8 .1-3.7 .1 1.2 .1 1.5 .1-3.1 .1-.7 .1 3.4 .1-1 .1-.3 .1 .4 .1-1.9 .1 6.1 .1-6.3 .1 .8 .1-1.7 .1 1.5 .1 3 .1-2.5 .1 .8 .1-1.8 .1 3.6 .1-2.7 .1-2.4 .1 3.1 .1-1.9 .1 1.5 .1-.9 .1 .1 .1-.3 .1-1.7 .1-1 .1 3.7 .1-1.8 .1 .6 .1-1.3 .1-2.6 .1 1.1 .1 4.1 .1-3.5 .1 .5 .1-1.8 .1 1.4 .1 .1 .1 .1 .1 .1 .1-.9 .1-.1 .1 .8 .1 .4 .1-.8 .1 2.8 .1-2.5 .1-.2 .1-1.3 .1 2.4 .1-3.2 .1-1 .1 .8 .1 2.3 .1-2.8 .1 3.6 .1-2.1 .1-2.4 .1 1.8 .1 2.9 .1-4.1 .1-.8 .1 2.6 .1 1.1 .1-.6 .1-2.1 .1 .6 .1 .1 .1 1.1 .1 1.3 .1-3.5 .1 2 .1-2.6 .1 1.2 .1-2.4 .1 .1 .1 1.6 .1-2.1 .1 2.5 .1-2.3 .1 .8 .1-.4 .1-.5 .1 .5 .1 1.3 .1 2.8 .1-6.5 .1 2 .1-.8 .1-1.3 .1 1.6 .1-1.9 .1 1.1 .1 1.8 .1-5 .1 3.2 .1 .1 .1-2.2 .1 2 .1-.4 .1-1.2 .1 2.2 .1-4 .1 2.8 .1-1.5 .1-1.4 .1 1.2 .1-.4 .1 1.5 .1-3.6 .1 1.8 .1-.6 .1 2.9 .1-4.2 .1 3.1 .1-4.3 .1 2.9 .1-.8 .1 .6 .1-1.8 .1-2 .1 .4 .1 4.1 .1-1.8 .1-1.8 .1 2.5 .1-2.6 .1-.2 .1-.9 .1 3.4 .1 1 .1-4.5 .1 1.7 .1 .8 .1 1.6 .1-7 .1 3.7 .1 .5 .1-3.3 .1 2.6 .1-.5 .1 .6 .1-2.1 .1 1.3 .1-1.7 .1 1.6 .1-.9 .1-1 .1-1.8 .1 4.4 .1-1 .1-.5 .1-2.6 .1 .3 .1 2.8 .1-1.6 .1-2.6 .1 1.1 .1-.1 .1-.8 .1-1.3 .1 3 .1-1.2 .1-1.4 .1-2.3 .1 1.2 .1 .6 .1 1.1 .1-2.1 .1 1.9 .1-1.7 .1-1.6 .1-3.3 .1 2.2 .1-.8 .1 1.8 .1 .4 .1 1.4 .1-2.4 .1-2 .1 5 .1-3.3 .1-1.2 .1-.2 .1-2 .1 2.8 .1-.7 .1 1.6 .1-1 .1-.7 .1 .3 .1-2.5 .1-.6 .1 .4 .1-2.1 .1 1.4 .1-.6 .1 1.3 .1-1.3 .1-3.2 .1 2.7 .1 1.8 .1-5.2 .1 1.3 .1 .9 .1-2.3 .1 .9 .1 .6 .1-2.3 .1 2.1 .1-.1 .1-2.8 .1 1.6 .1 1.3 .1-2.2 .1 .6 .1 0 .1-1.6 .1 1.5 .1-1.2 .1-2.4 .1 2 .1 .1 .1-.4 .1-2.5 .1 1.3 .1 1 .1-2 .1 1.1 .1-.2 .1-2.4 .1 .6 .1-1.8 .1 1.6 .1-2.2 .1-1.1 .1 .3 .1-.5 .1 .2 .1-.3 .1-2.8 .1 .3 .1 1.1 .1-.2 .1-1 .1 3.4 .1-2.6 .1-2.1 .1 .9 .1 .6 .1-1.8 .1-3.4 .1 2.4 .1-.4 .1 2.8 .1-6.1 .1 4.6 .1-2.7 .1 1.3 .1-2.1 .1 .4 .1 1.1 .1-1.7 .1 1.1 .1-1.9 .1-.7 .1 0 .1-.7 .1 .3 .1 1.9 .1-3.9 .1-.9 .1 2.1 .1 2.1 .1-1.1 .1 .1 .1-.3 .1-3.1 .1 1 .1-4.2 .1 2.7 .1 1.5 .1-3.3 .1-1 .1 .9 .1 1.9 .1 1 .1 1.8 .1-1.9 .1-4.3 .1-1.4 .1 3.2 .1 1 .1-3.9 .1 1.2 .1-.1 .1 .4 .1-.6 .1 .7 .1 .5 .1-1.6 .1 .6 .1 1.4 .1-4.3 .1-.4 .1 1.9 .1 1.5 .1-2.6 .1 1 .1-2.2 .1 1.3 .1-2.3 .1 1.4 .1-.6 .1-.3 .1 1 .1-.7 .1-2.5 .1 1.6 .1-3.6 .1 3.2 .1 2 .1-3.2 .1-.3 .1-.9 .1 .7 .1-2 .1 1.1 .1-1.5 .1-.5 .1 .4 .1-.6 .1-2.4 .1 4.5 .1-2.8 .1-2.7 .1 3.2 .1-1.7 .1-.1 .1 .3 .1-2.4 .1-2.9 .1 3.2 .1 .1 .1 .6 .1-2.6 .1 .2 .1 .4 .1-1.2 .1-.4 .1 .3 .1-2 .1 2.8 .1-3.6 .1 .8 .1-.9 .1-.9 .1 1 .1 .1 .1 .1 .1-1.6 .1-1.7 .1 1.1 .1-3.3 .1 1.3 .1 0 .1-.5 .1-2.6 .1-.9 .1 3.2 .1-3.1 .1-1.9 .1-.1 .1 .9 .1 .9 .1-2 .1 .9 .1-1.8 .1-.3 .1 .1 .1-2.3 .1 .2 .1-1.4 .1-.9 .1 1 .1-2.4 .1 .5 .1-1.7 .1 .3 .1-1.2 .1 1.4 .1-1.9 .1-.6 .1 1.4 .1-6.3 .1 1.6 .1-2.7 .1 2.8 .1 0 .1-.4 .1-1.1 .1-2 .1 2.7 .1-2.4 .1-1.4 .1-1.7 .1 1.4 .1-1.8 .1-.5 .1 .2 .1-.5 .1-2 .1 2.1 .1-3.5 .1-.7 .1 1.2 .1-.8 .1-.6 .1-1.2 .1 0 .1-1.3 .1-2 .1 2.6 .1-2.8 .1 .4 .1 .7 .1-1.4 .1 3 .1-6 .1 .4 .1 .5 .1 1.1 .1-2.6 .1-2.1 .1 2.9 .1-3.3 .1 .4 .1 .9 .1-2.6 .1-.3 .1 .7 .1-1.4 .1 .1 .1-2.2 .1 .5 .1-1.8 .1-1.2 .1 3.8 .1-2.3 .1 .1 .1-3.1 .1 .6 .1-.8 .1-2.2 .1 2 .1-2.3 .1 .1 .1-2.4 .1 2.8 .1-.9 .1-1.1 .1-2.4 .1-.1 .1 1.7 .1-2.6 .1 .1 .1-.8 .1-2.3 .1 3 .1-5.4 .1 2.4 .1-1.1 .1-2.7 .1 2.1 .1-.4 .1-1.2 .1-1.9 .1 1.2 .1 .3 .1-1.8 .1 1.5 .1-1.8 .1-.7 .1 .3 .1-3.5 .1-.4 .1 .9 .1-.6 .1 .9 .1-1.1 .1-2 .1-.5 .1-1.3 .1-.7 .1-.8 .1 1.7 .1-2.9 .1-.3 .1 .3 .1-1.8 .1 0 .1-4.2 .1 4.2 .1-1.9 .1 .4 .1-.2 .1-5 .1 8.1 .1-5.1 .1-.5 .1-4.7 .1 4.6 .1-.9 .1-2.3 .1 .9 .1 1.8 .1-4.2 .1-1.9 .1 4.7 .1-3 .1-1.7 .1 5.6 .1-5.9 .1-1.3 .1 .5 .1-2.2 .1 1 .1-.7 .1-2.7 .1 .6 .1 1.1 .1-.3 .1 .1 .1 .2 .1-1.9 .1 .4 .1-3 .1 0 .1 3.4 .1-9.1 .1 6.5 .1 7.8 .1-15 .1 9.5 .1-9.9 .1 6 .1 3.4 .1-.7 .1-7.3 .1-1.4 .1-.6 .1 6.2 .1-3.5 .1 1.1 .1 .6 .1 .3 .1 .2 .1-1.4 .1-5.2 .1 8.9 .1-12.5 .1 11.6 .1-5.5 .1 1.1 .1-1 .1 .4 .1 .9 .1-.8 .1-2.4 .1 5.7 .1-4.2 .1 5.7 .1-4.4 .1-1.5 .1 3.4 .1 1.4 .1-5.2 .1 1.9 .1 5.2 .1-7 .1 .5 .1 3.1 .1-3.9 .1-3.6 .1 2.5 .1 6.2 .1 .9 .1 0 .1-.5 .1-4.6 .1 5.8 .1 1.6 .1-5.3 .1 5 .1-3.7 .1 1.9 .1 .7 .1-5.2 .1 8.9 .1-6.6 .1 2.4 .1-.9 .1 3.1 .1 .2 .1-1 .1 4.4 .1-3 .1-1.7 .1-7 .1 7.9 .1 .3 .1-1.3 .1 .5 .1 4.7 .1 1.7 .1 3 .1-1.7 .1-4.8 .1 3.3 .1-4.2 .1 6.7 .1-.6 .1-2.2 .1 2 .1 .2 .1-.6 .1 6.2 .1 5.6 .1-6 .1 1.2 .1-2.1 .1-1 .1 7.8 .1-6.9 .1 2.7 .1-1 .1 2.5 .1-1.4 .1 2.3 .1-4.8 .1 3.8 .1 4.6 .1-6.3 .1 1.5 .1 6.2 .1-2.2 .1 2.3 .1-8.9 .1 7.2 .1-3.5 .1 .1 .1 5.5 .1 2.7 .1-7.1 .1 1.5 .1 2 .1 1.7 .1-2.9 .1 10.5 .1-4.2 .1-2.2 .1 0 .1 8.4 .1 .2 .1-7.2 .1 2.8 .1 3 .1-6.4 .1 2.1 .1 5.9 .1-5.3 .1 1.2 .1-2.1 .1 2.1 .1 4.4 .1-3.7 .1-1 .1 2.4 .1 7 .1-3.9 .1-1.7 .1 2.4 .1 1.3 .1-.5 .1-4.9 .1 6.3 .1-1 .1 3.3 .1-5.6 .1 7 .1-3.8 .1-2.9 .1 8.8 .1-4.6 .1 2.8 .1-1 .1 3.9 .1 .4 .1 .5 .1-.7 .1-6 .1 .3 .1 5.5 .1-2.7 .1 4.2 .1-.4 .1-3.9 .1 1.5 .1 .1 .1 1 .1 2.3 .1 2.7 .1 2.2 .1-5.9 .1 1.5 .1 6 .1-1.4 .1-1.4 .1-6.7 .1 4 .1 3.5 .1-1.7 .1 7.3 .1-4.8 .1 .9 .1-3.4 .1 .5 .1 1.3 .1 .4 .1 1.4 .1 1.9 .1 0 .1 2.4 .1-6 .1 4.4 .1 .4 .1 3.9 .1-4.5 .1 1.7 .1-2.7 .1 3.6 .1 .2 .1-2.5 .1 .8 .1 1.4 .1 1.8 .1-4.3 .1 5.7 .1-3 .1 6.1 .1-.9 .1-4.7 .1-.4 .1 8.4 .1-4.6 .1 .1 .1-2.4 .1 1 .1 2.7 .1-.3 .1-3.6 .1 5.7 .1-2.3 .1-3.1 .1 5.3 .1-2.9 .1 2.7 .1-3.3 .1 2.6 .1-5.1 .1 5.4 .1-4.8 .1 4.6 .1-7 .1 6.6 .1 2.2 .1-.5 .1 1.9 .1-5.8 .1 7 .1 .2 .1-7.3 .1 1.2 .1 .6 .1 1.6 .1 .6 .1-6.9 .1 8.1 .1-2.1 .1-2 .1 5.2 .1-3.3 .1 3.9 .1-1.5 .1-2.1 .1 3.9 .1-.9 .1-3.4 .1-2.9 .1 2.8 .1 3.1 .1-2.2 .1 5.2 .1-3.9 .1-.2 .1 .5 .1-3.4 .1 2 .1-1.5 .1-4.4 .1 1.4 .1 6.5 .1-3.1 .1 .7 .1-3.6 .1 2.3 .1 3.5 .1-1.9 .1-1.7 .1 5.2 .1-4.2 .1-.8 .1 3.8 .1-7.7 .1 5.9 .1-4.4 .1 .7 .1 .2 .1 2 .1-.2 .1 .4 .1-.4 .1 3 .1 .6 .1-2.8 .1 0 .1-3.2 .1-2.1 .1 4.3 .1-1.7 .1 2 .1-7.3 .1 11.7 .1-10.6 .1 3.2 .1 2.3 .1-6.4 .1 2 .1-4.1 .1 1.4 .1-1.5 .1 5.2 .1 .4 .1-1.8 .1 4.1 .1 .2 .1-3.9 .1-.7 .1-.2 .1-.6 .1 4.5 .1-3 .1-1.6 .1 .1 .1 2 .1-2.7 .1 1.8 .1-1.1 .1 3.5 .1-.7 .1-7 .1 3.2 .1 2.1 .1-3.3 .1 3.2 .1-1.5 .1 .5 .1-2 .1 .7 .1 .3 .1-5.6 .1 1.1 .1-.7 .1 6.7 .1-4.2 .1-.4 .1-1.1 .1-2.5 .1-1.3 .1 3.5 .1-4 .1 4.4 .1-4.5 .1-1.2 .1-1.7 .1-.5 .1-.6 .1 3.2 .1 1.3 .1-10.5 .1 2.9 .1 .3 .1-5.5 .1-.3 .1-.7 .1-6.5 .1 7.2 .1-3.2 .1-1.4 .1-.9 .1-.9 .1 4.4 .1-7.4 .1 .3 .1-5.3 .1 .9 .1-3.4 .1-1.2 .1-3.7 .1-1.4 .1 2 .1-.9 .1-2.5 .1-5 .1 1.2 .1-10.1 .1 8.5 .1-4.7 .1-.8 .1 .9 .1-6.5 .1 2.4 .1-5.9 .1 1.1 .1-4.5 .1 .3 .1 1.7 .1-8.2 .1-1.8 .1-1.2 .1-.3 .1 5.3 .1-12.4 .1-6.7 .1 2.1 .1-5.1 .1 1.1 .1-.3 .1-4.9 .1-1 .1-5.4 .1 5 .1-4.3 .1 4.6 .1-1.2 .1-7 .1 .6 .1 .4 .1 1.3 .1-8.5 .1 4.3 .1 5.3 .1-7 .1 .3 .1-1.5 .1-4.6 .1 6 .1-3 .1-1.2 .1 .9 .1-.7 .1-9.5 .1 6.8 .1-4.3 .1 1.5 .1-3.6 .1-1.3 .1 5.2 .1-3.8 .1-1.5 .1-.5 .1 .7 .1-.7 .1-7.9 .1 4.7 .1 2 .1 3.2 .1 2.1 .1-7.3 .1 9.5 .1-5.8 .1 1.6 .1-3 .1 .2 .1 7 .1-4.9 .1 .8 .1 4.6 .1 2.4 .1-9.8 .1 4.8 .1 1.3 .1 6.5 .1 2.8 .1-7.3 .1 2.1 .1 2.4 .1 1.7 .1-3.9 .1 4.6 .1-4.1 .1-5.4 .1 5.1 .1 6.2 .1 3.2 .1-8 .1 3.2 .1 7.7 .1-8.3 .1 15.5 .1 5.9 .1-7.2 .1 17.1 .1 2.5 .1 9.6 .1 .4 .1 1.5 .1 3.8 .1 5.1 .1 .2 .1 1.9 .1-2.2 .1 7.7 .1 .6 .1 7.1 .1-3.5 .1 1.5 .1 .1 .1 5.6 .1-1 .1 .2 .1 8.2 .1 2.3 .1-4.6 .1 .3 .1 8 .1-3.5 .1 12.4 .1-6 .1 5.5 .1-3.6 .1 6.3 .1 6.3 .1 1.9 .1 1.5 .1 12.4 .1 .1 .1 2.2 .1 3.8 .1 5.5 .1 8.5 .1-1.3 .1 5.7 .1 1 .1 7.7 .1-.8 .1 5 .1 1.7 .1-.4 .1 5.2 .1 2.7 .1-2.9 .1 6.3 .1 8.4 .1-7.1 .1 3.8 .1-2.8 .1 5.7 .1-.9 .1 4.5 .1-.3 .1-1 .1 6.4 .1-1.4 .1-.4 .1 3.8 .1-.9 .1 4.2 .1 .3 .1 .6 .1 3.3 .1-2.9 .1 5.8 .1-5.2 .1 8.5 .1-2.1 .1-.1 .1-.2 .1 3.4 .1-.9 .1 .6 .1 2.9 .1-2.5 .1 .9 .1 1.8 .1 1.7 .1-2 .1 1 .1 .2 .1 1.7 .1 1.9 .1-4.5 .1 2 .1 .5 .1 1.6 .1 2.1 .1-2.7 .1 .8 .1 2.1 .1-4.4 .1 1.2 .1 .9 .1 1.1 .1 .7 .1-1.2 .1 4.7 .1-4.6 .1 1.3 .1 2.7 .1-.4 .1-1.3 .1 1 .1 1.1 .1-1.4 .1 1.4 .1-2.8 .1 2.2 .1-3.1 .1 1.6 .1-.3 .1 4.9 .1-3.1 .1 1.7 .1-2.2 .1 1.6 .1 .1 .1-.9 .1 3.4 .1-4.6 .1 4.6 .1 4.1 .1-6.5 .1 1.8 .1-2.8 .1 3.1 .1-3.1 .1 4.7 .1-2 .1-2.4 .1 1.3 .1-.4 .1 2.6 .1 2.3 .1-2.2 .1-1.3 .1 .8 .1 2 .1-4.7 .1 5.8 .1-.2 .1-5.2 .1 7 .1-5.1 .1 2.8 .1 2.7 .1-5.1 .1-.2 .1 1.4 .1 .3 .1 1.9 .1-.6 .1 .2 .1 .1 .1 .7 .1-1.1 .1 2.3 .1-.5 .1-1.7 .1 5.4 .1-5.6 .1 3.8 .1-2.6 .1 2.2 .1 .4 .1 .8 .1 1.1 .1-4 .1 6.9 .1-4.4 .1-2.1 .1-.9 .1 6.9 .1-1.1 .1-2.9 .1 1.5 .1 1.1 .1-2.1 .1-.8 .1 .8 .1 1.7 .1-1.3 .1-2.2 .1 3.7 .1-4.4 .1 1.9 .1 3.7 .1-1.7 .1 .1 .1-.1 .1 1.8 .1-1.9 .1-3.3 .1 4.1 .1-5.9 .1 2 .1 6.6 .1-.9 .1-2.6 .1 .8 .1 .4 .1 1.7 .1-3 .1-.1 .1 .5 .1 1.5 .1 .3 .1-1.1 .1 2.2 .1-3.1 .1 1.8 .1-1 .1-.5 .1 4.1 .1-2.7 .1-1.1 .1 2 .1-1.8 .1 2.9 .1 .6 .1 .4 .1-3.6 .1 1.7 .1 3.6 .1-3.5 .1 2.7 .1 .5 .1-5 .1 4.6 .1-.7 .1 .3 .1 1.5 .1-2 .1-.6 .1 1 .1-1.6 .1 1.6 .1-4.3 .1 6.6 .1-3.9 .1 2 .1-.3 .1-.3 .1 .1 .1 0 .1-2.9 .1 2 .1 3.1 .1-3.8 .1 0 .1 5.6 .1-1.5 .1 .7 .1-2.6 .1 .5 .1 1 .1-.3 .1-1.1 .1-2.3 .1 1.4 .1-1.3 .1 5.4 .1-3.3 .1 .4 .1 .9 .1-.4 .1 .9 .1-1.9 .1-1.4 .1 5.6 .1-4.1 .1 .5 .1-.5 .1 .5 .1 1 .1 1.3 .1-3 .1 2.4 .1-1.6 .1 3.2 .1-4 .1 2.3 .1 1.1 .1-3.4 .1 2.5 .1 .1 .1-1.5 .1 1 .1 2.1 .1-1.2 .1-1 .1 .4 .1 1.2 .1 1.4 .1-.7 .1-.1 .1 1.5 .1-5.2 .1 .3 .1-1.3 .1 5.2 .1-5.1 .1 3.7 .1 1.4 .1-3.5 .1 1.3 .1 .7 .1 1.7 .1-3.6 .1 3.1 .1 .7 .1-.9 .1 .1 .1 1.8 .1-1.6 .1-.3 .1-.5 .1 1.7 .1-1.5 .1 1.6 .1-.8 .1 1.7 .1-3 .1 1.4 .1 .5 .1 .2 .1 1.2 .1-1.1 .1 .9 .1 1.8 .1-1.8 .1-3 .1-.5 .1 3.4 .1-1.6 .1 1.2 .1-.7 .1 2.4 .1-.1 .1-3.7 .1 2.4 .1-.9 .1-1.5 .1 3.2 .1-1.2 .1 1 .1 3.3 .1-1.8 .1-.2 .1-2.4 .1-1.1 .1 3.9 .1-2.4 .1 .6 .1-.6 .1 .9 .1 3.7 .1-4.2 .1 .1 .1 .9 .1 .2 .1-2.3 .1-.8 .1 1.9 .1 .7 .1-.8 .1-.3 .1 .2 .1 .9 .1 .5 .1-2.2 .1 1.7 .1 1.5 .1-.6 .1-1.9 .1 1.7 .1 .6 .1 1.3 .1-3.7 .1 3.7 .1-1.7 .1 1.1 .1 .9 .1-2.4 .1 .2 .1 1.2 .1 1.3 .1-1.8 .1-1.3 .1 1.2 .1 1.7 .1 1.3 .1-2.5 .1 .4 .1 .3 .1 .2 .1-1.2 .1 .9 .1 1 .1-.1 .1 0 .1-1.5 .1 .8 .1-.2 .1 2.8 .1 .6 .1-1.6 .1 2 .1-2.8 .1 .1 .1-1.4 .1 2.4 .1-1 .1 .9 .1 .7 .1-1.1 .1-1.2 .1 1.7 .1 0 .1 .2 .1 1.1 .1-1.3 .1 0 .1 3 .1-.9 .1-1.7 .1-1.1 .1 .8 .1 1.2 .1 .8 .1 2.3 .1-3.8 .1 .6 .1-.7 .1 .7 .1-.6 .1-.9 .1 3.1 .1-1.3 .1 1.7 .1-2.5 .1 1.2 .1 .6 .1-3.6 .1 .8 .1 3.1 .1-.9 .1-2.8 .1 1.7 .1-.4 .1 .8 .1 3 .1-3 .1 3.8 .1-3.2 .1-.7 .1 3.4 .1-.8 .1 .6 .1 .9 .1-1.2 .1 .2 .1-4.1 .1 1.3 .1 1.9 .1-.3 .1 .8 .1-1.7 .1 2.3 .1 1.4 .1-2 .1 .4 .1-.4 .1 .6 .1-1 .1-.9 .1 1 .1-.1 .1-2.2 .1 2.5 .1-.3 .1 .3 .1-1 .1 1.5 .1 .2 .1-1.8 .1 1.5 .1 .7 .1 0 .1-2.3 .1-.1 .1 1.5 .1-1.5 .1 5 .1-4.6 .1 0 .1 2.1 .1-1.6 .1-2.5 .1 3 .1-1.1 .1 .7 .1-1.5 .1 1 .1 1 .1 .2 .1-1.4 .1 .5 .1-.1 .1 1.4 .1-.4 .1-1.5 .1 2.6 .1-1.8 .1 1.5 .1-1.8 .1 1.7 .1-.5 .1 .2 .1 .7 .1-.1 .1-.4 .1 0 .1-1.9 .1 1.7 .1-3 .1 0 .1 2.7 .1 .1 .1 2.4 .1-1.2 .1 .6 .1-1.9 .1 1 .1 1 .1-.8 .1-.2 .1-.4 .1-1.4 .1 .1 .1-.8 .1 2.6 .1-.9 .1-.6 .1 1.4 .1-1.2 .1 2.2 .1 1.2 .1-2 .1-1.6 .1-1.1 .1 4.9 .1-2.2 .1-2.2 .1 3.1 .1-3.8 .1 1.7 .1 .3 .1-.2 .1-1 .1 4.8 .1-3.8 .1 1.1 .1-.5 .1-2.2 .1 1.4 .1 1.1 .1 1 .1-1.8 .1 1 .1-1 .1 1.3 .1-4.2 .1 4.3 .1-1.7 .1 0 .1-3.1 .1 2.5 .1 2.3 .1 2.3 .1-4.1 .1 .1 .1 1.5 .1-.2 .1-1.2 .1 .6 .1-.3 .1 1.4 .1 .2 .1 1.3 .1-1.1 .1-.4 .1-.7 .1 1.1 .1-2.6 .1 4.3 .1-2.6 .1 1.6 .1-3 .1 2.5 .1-.9 .1-.8 .1-.6 .1-.3 .1 3.7 .1-.8 .1-1.6 .1 .2 .1-1.3 .1-1.5 .1 0 .1 1.7 .1 .6 .1-1.4 .1 2.7 .1-.4 .1-.5 .1-2.6 .1 2.1 .1 .3 .1-1.7 .1-1.3 .1 5.7 .1-1.8 .1-1.4 .1 2.8 .1-.7 .1-.9 .1-.3 .1 .7 .1 1 .1-1.9 .1-.4 .1 1.1 .1-4.7 .1 4 .1-.7 .1 .6 .1-.3 .1 .8 .1-.4 .1 0 .1-.3 .1 .8 .1-1.3 .1 2.1 .1-3.7 .1 2.6 .1 .3 .1-2.3 .1 1.1 .1 2.5 .1-2.1 .1-1 .1-2.9 .1 4.6 .1-.3 .1 .7 .1 2 .1-2.9 .1 .2 .1-1.1 .1 .9 .1 0 .1 1.1 .1-.3 .1-1.8 .1 .4 .1 2.6 .1-3.2 .1 2.3 .1 1.2 .1-1.3 .1-.6 .1 1.6 .1-1.4 .1-.5 .1-.3 .1 1.9 .1-.7 .1 1.2 .1-2.6 .1 .1 .1-.2 .1 1 .1-1.3 .1 2.2 .1-.8 .1-1.8 .1-2.8 .1 1.6 .1 4.5 .1-2.1 .1 .3 .1-.8 .1 1.2 .1-3.2 .1-.1 .1 .5 .1 2.3 .1 .9 .1-.3 .1-.8 .1-1.6 .1 2.8 .1-1.4 .1 .3 .1-.1 .1-.5 .1-.3 .1 .1 .1-.9 .1 2.1 .1-.6 .1 1.7 .1-3.9 .1 4.1 .1-1.7 .1-.1 .1-.9 .1 0 .1-1 .1 3.3 .1-1.5 .1 1.3 .1 .1 .1-1.8 .1 .4 .1-.2 .1 1.9 .1-1.2 .1 0 .1 .8 .1-1.1 .1 2.9 .1-4.1 .1 3 .1 .3 .1-3.5 .1 2.7 .1-.8 .1 .8 .1-2.8 .1 2 .1-1.7 .1 .9 .1 2.4 .1-2.1 .1-2.9 .1 1.1 .1 .4 .1 3 .1-2.4 .1-1.2 .1 3.7 .1-1.2 .1 .2 .1-1.6 .1 3 .1-2.1 .1-2.5 .1 1.1 .1 .4 .1 1 .1 1.3 .1-2.1 .1 .2 .1 3.8 .1-2.9 .1-.8 .1 .8 .1-1.8 .1 2.5 .1 .6 .1-2.2 .1 2.2 .1-1.8 .1 .8 .1-1.4 .1 0 .1-1 .1 2.4 .1-.7 .1 0 .1-1.2 .1 0 .1 .7 .1 1.5 .1-.2 .1-1.4 .1 1.4 .1 2 .1-2.3 .1 2.7 .1-2.2 .1 1.2 .1-2.5 .1 2.3 .1-3.2 .1 1.9 .1-.7 .1-2.3 .1 .9 .1 3.4 .1-.9 .1 1.1 .1-1.5 .1-4.2 .1 4.3 .1-1.1 .1 0 .1 .1 .1-.4 .1-.3 .1 3 .1-1 .1-1.5 .1 .3 .1 1.9 .1-.8 .1-.3 .1-1.9 .1 1.1 .1-1 .1-1 .1 3.8 .1-1.7 .1-.1 .1-.7 .1 2.3 .1 1.8 .1-2 .1 .5 .1-3 .1 1.9 .1 .1 .1 1.7 .1-2 .1-1.3 .1 1.2 .1-.5 .1 2.6 .1-1.1 .1-.4 .1-.2 .1 .9 .1-1.9 .1-.5 .1-1.3 .1 4.1 .1-.9 .1 .2 .1-.8 .1 2.2 .1-3.6 .1 3 .1-2.8 .1 .5 .1-1 .1 1.8 .1-.6 .1 1 .1-1.4 .1-1 .1 2.6 .1 1 .1-.7 .1-1.1 .1 .6 .1-2.9 .1 1.9 .1 2 .1-.9 .1-1.8 .1 2.3 .1-1.3 .1 1.2 .1-2.9 .1 1.2 .1 1.1 .1 0 .1 .3 .1-.7 .1-.3 .1 .9 .1 .6 .1-3.3 .1 1.7 .1 .1 .1 .5 .1 1.2 .1-3.2 .1 2.5 .1-3 .1 1.3 .1 .3 .1 .4 .1-.5 .1 .1 .1 .3 .1 .1 .1-2.2 .1 .6 .1 1.3 .1 1.4 .1 .6 .1 2.5 .1-3.7 .1-1.2 .1 1.3 .1 .7 .1-.8 .1-1.6 .1 1.3 .1 .1 .1-1.8 .1 .2 .1 3.3 .1-4.6 .1 3.2 .1-.6 .1 2.3 .1-1.1 .1-2 .1 2.9 .1-2.5 .1 3.5 .1-.5 .1-2.3 .1 1.1 .1-.7 .1-1.5 .1 2.6 .1-.8 .1 .6 .1 .3 .1 .4 .1-.5 .1-1.5 .1 .3 .1 .4 .1-.7 .1-.2 .1 2.9 .1-1.9 .1 1.9 .1-3.6 .1 1 .1-.5 .1 0 .1 .2 .1 .2 .1-.4 .1 3 .1-1.5 .1-1.9 .1 .3 .1 1.7 .1-.3 .1-1.5 .1 2 .1-3.1 .1 1.3 .1 2.9 .1-5.8 .1 3.2 .1 1.6 .1-1.5 .1-.8 .1-.2 .1-1.6 .1 1.1 .1 1.8 .1-.8 .1 .7 .1-.2 .1 .6 .1-2.6 .1 1.8 .1 0 .1 0 .1-.7 .1-1.8 .1 3.8 .1 .3 .1 2 .1-2.2 .1 1.3 .1-1.4 .1-1.3 .1 1.1 .1-2.2 .1 1.9 .1-.5 .1-1.2 .1 3 .1-.1 .1-.9 .1 .5 .1 1.1 .1-2.4 .1-1.6 .1 .5 .1 2.3 .1-.7 .1-2.3 .1 3.8 .1-1.5 .1 1.9 .1-.6 .1-2.1 .1 .7 .1-1.1 .1-.2 .1 .8 .1 1 .1 1.2 .1-3 .1 2.1 .1-.9 .1-.3 .1 1.8 .1-2 .1 2.3 .1-2.2 .1-.8 .1 2.2 .1-2.9 .1 .3 .1 1.4 .1 .2 .1-.3 .1-2.3 .1 .9 .1 2.4 .1 .1 .1-2.1 .1 1.7 .1-.1 .1 1.1 .1-2.3 .1 2.9 .1-2.3 .1 2.3 .1-.7 .1-2.6 .1 1 .1 .8 .1 1 .1-3.3 .1 1.2 .1 1.5 .1-.1 .1-2.1 .1 .2 .1 1.8 .1-1.9 .1 1.6 .1 1 .1-1.2 .1-3.7 .1 5.2 .1 0 .1 .4 .1-.8 .1-3.4 .1 4.2 .1-1.5 .1 .8 .1-1.4 .1-.1 .1 0 .1 2.4 .1-1.7 .1-.7 .1-1.4 .1 2.3 .1-.6 .1 .2 .1 1.1 .1-.3 .1-1 .1 .3 .1-.2 .1 .9 .1 0 .1-.8 .1-1.3 .1 2.3 .1 .1 .1-2.7 .1 2 .1-1.1 .1-2.4 .1 2.9 .1 1.3 .1-2.2 .1 0 .1 2.3 .1-2.8 .1 .2 .1 .9 .1 1.2 .1 0 .1-1.5 .1 .3 .1 .5 .1-.6 .1-.6 .1-.3 .1 2.4 .1-1.3 .1 4.2 .1-3 .1-1.9 .1 1 .1 .5 .1 .1 .1 0 .1 .1 .1-.8 .1 1 .1 2.1 .1-3.5 .1 .1 .1 1.4 .1 .8 .1-.6 .1 .5 .1-1.7 .1-.2 .1 1.2 .1 0 .1 1.4 .1-.2 .1-4.5 .1 3.5 .1-1.9 .1-1.9 .1 3.3 .1-.7 .1-.3 .1-1.2 .1 .4 .1 1 .1-1.7 .1 1.9 .1 .3 .1-.4 .1 .6 .1-.4 .1-1.5 .1 .2 .1 1.6 .1 1.1 .1-1.1 .1-.9 .1 .9 .1-2.6 .1 1.1 .1 .8 .1 .4 .1-.3 .1 .1 .1-1.2 .1 .8 .1 1.1 .1-2.8 .1 .9 .1 1.1 .1 2.5 .1-1.1 .1 1.2 .1-.3 .1-2.3 .1 .5 .1-1.5 .1 3.1 .1-.5 .1-.2 .1 .1 .1-.3 .1-.3 .1 .1 .1 1.2 .1-2.6 .1-.3 .1 1.4 .1 1.5 .1-1.2 .1-.6 .1 1.4 .1-.9 .1-2.7 .1 1.2 .1-1.4 .1 2.5 .1-.3 .1 1.2 .1 2.2 .1-3.6 .1 .8 .1-.5 .1-3.1 .1 2.7 .1 0 .1 1.3 .1-1.4 .1-.6 .1 2.5 .1-.9 .1-1 .1 .2 .1 .6 .1 1.4 .1 .8 .1-3.5 .1 3.2 .1-1.4 .1 .4 .1 .8 .1-2.5 .1 2.4 .1-2.8 .1 1.1 .1-.5 .1 3.3 .1-.1 .1-1.1 .1-.3 .1-1.4 .1 3 .1-.4 .1-.7 .1-1.3 .1-.3 .1 .4 .1 1.8 .1-2.9 .1 1.4 .1 2 .1-1 .1 1.1 .1-1.7 .1 0 .1 1.3 .1-.9 .1-.4 .1-1.1 .1-1.3 .1 3.9 .1-2.5 .1-.4 .1 2.1 .1-2.2 .1-.6 .1 1 .1 .7 .1 .4 .1 .3 .1 .6 .1-1.4 .1 .7 .1-.6 .1-.7 .1 1.3 .1 0 .1 1.9 .1-1.6 .1-1.6 .1 1.6 .1-1.1 .1 2.4 .1-4.2 .1 1.3 .1 .1 .1 1 .1-.4 .1-1.8 .1-.4 .1 2.7 .1 1.6 .1 0 .1-2.4 .1 1.2 .1-1.7 .1-.8 .1 3.5 .1-.7 .1-1.3 .1-.1 .1 1.7 .1-.8 .1-.8 .1 .8 .1-.4 .1-.5 .1-.4 .1 2.1 .1-1.7 .1-.9 .1 3.8 .1-.7 .1-1 .1-.7 .1 .3 .1-2 .1 1.8 .1 .4 .1-.6 .1 .8 .1-1.6 .1 1.2 .1-2.2 .1 2 .1-.8 .1-.9 .1 1.2 .1 .6 .1-.8 .1 1.9 .1-2 .1 2 .1-.2 .1-1.7 .1 2.5 .1-3.5 .1 2.4 .1-.6 .1 .9 .1-2.9 .1 .4 .1 .5 .1 1.1 .1 0 .1 0 .1-.4 .1-.6 .1-.8 .1 1.2 .1 1.2 .1 .6 .1-1.9 .1 2 .1-3.1 .1 2.7 .1-2.4 .1 1.7 .1-1.5 .1 0 .1 .5 .1 2.5 .1-2.6 .1 1.6 .1-.6 .1 .2 .1 0 .1 .4 .1-2.3 .1 1.5 .1 .4 .1-1.1 .1 1.1 .1-1.7 .1 2.2 .1-1.8 .1 .5 .1 1.4 .1 .3 .1-2 .1-.1 .1 2 .1-4.9 .1 5.3 .1 0 .1-3 .1 2.8 .1-1 .1 .1 .1-3.5 .1 2.3 .1 .4 .1-.3 .1 0 .1 .2 .1-3.3 .1 3.3 .1-.6 .1 .8 .1-.5 .1 .6 .1 .3 .1 1.9 .1-3.3 .1 3.2 .1-2.5 .1-.8 .1-.7 .1 2.9 .1-3 .1 3.1 .1-.7 .1-1.2 .1-.1 .1 1.4 .1-.4 .1 .7 .1-.9 .1-.7 .1 1.4 .1-2.3 .1 2.6 .1-1 .1-1.5 .1 .1 .1 .9 .1-1.9 .1 4.1 .1-.6 .1-2.6 .1 1.3 .1 2.2 .1-1.6 .1-1.8 .1-1.5 .1 .7 .1 3.6 .1-1.2 .1-2 .1 2.5 .1-1.3 .1-.4 .1 .1 .1 .1 .1 2.7 .1-3.3 .1 .7 .1 2.2 .1 .2 .1-3.2 .1 3.9 .1-1.3 .1-3.3 .1 4.2 .1-4.2 .1 2.8 .1-2.4 .1-.8 .1 3.4 .1-.6 .1-.7 .1 .4 .1-.4 .1-.2 .1-1.1 .1 2.2 .1-.8 .1-.3 .1-.5 .1 .4 .1-1.6 .1 1.6 .1-.9 .1 2.9 .1-2.9 .1 .6 .1 .6 .1 1 .1-.4 .1-.6 .1 2.8 .1-2.9 .1 .5 .1 3.1 .1-4.7 .1 2.4 .1-.7 .1-2.3 .1 .9 .1 1.9 .1-3 .1 1.6 .1 1.5 .1-1.6 .1 .7 .1-1.3 .1 .1 .1 0 .1 .3 .1 1.3 .1-.7 .1 2.4 .1-1.8 .1-.4 .1 2.5 .1-3 .1-1 .1 1.3 .1-1.7 .1 2.1 .1 1.1 .1-.9 .1-1.4 .1 .3 .1 .8 .1 .9 .1-2.1 .1 0 .1 2 .1-1.2 .1 .2 .1 .1 .1-1.6 .1 .8 .1 1.6 .1-1.6 .1-.1 .1 .6 .1 .1 .1 2.9 .1-4.5 .1 1.3 .1 2.4 .1-2.6 .1 .4 .1-2.4 .1 3.2 .1-.2 .1-.1 .1-1.3 .1 .7 .1-.6 .1 1.2 .1-1.2 .1 1 .1-2.8 .1 1.3 .1-3.4 .1 3.6 .1 1.2 .1-1.4 .1 3.5 .1-4.5 .1 .8 .1-.8 .1 .5 .1 0 .1-1.3 .1 .6 .1 4 .1-3.1 .1 1.5 .1-2.9 .1 1.5 .1 .8 .1-.9 .1-.5 .1 .4 .1 .2 .1 1.1 .1 .5 .1-3.5 .1-1 .1 2.5 .1 .2 .1 .9 .1 .5 .1-2.4 .1 3.6 .1-2.4 .1-2.8 .1 3.6 .1-.9 .1 0 .1-2.6 .1 1.7 .1 .6 .1-.5 .1 1.1 .1 .8 .1 .3 .1-.4 .1-2 .1 2.6 .1-2.1 .1 .8 .1-1.5 .1-1.7 .1-1.2 .1 3.3 .1-1.2 .1 .9 .1 1.2 .1-3.4 .1-.3 .1 2.7 .1 .1 .1-.9 .1-.4 .1-1.5 .1 2.1 .1-1 .1 1.6 .1 .7 .1-2.1 .1 1.3 .1-.4 .1 .7 .1 1.2 .1-1.3 .1 0 .1 .1 .1-1.7 .1 .5 .1 .5 .1 1.2 .1 0 .1 1.4 .1-4.8 .1 1.4 .1-2.4 .1 1.7 .1-1.6 .1 3.9 .1-.6 .1-2.7 .1 2 .1 .5 .1 1.4 .1-1.3 .1-1.1 .1-.3 .1 1 .1-.5 .1-1.2 .1-1.1 .1 3.2 .1-2.6 .1 .6 .1 1.5 .1-1.2 .1 1.6 .1-3.2 .1 2.6 .1-3 .1-.3 .1 .6 .1 1.6 .1-1.2 .1-1 .1 3.6 .1-3.1 .1 1.1 .1 .5 .1-1.1 .1 1.2 .1 .3 .1-1.1 .1 1.6 .1-2.4 .1-.7 .1 1.8 .1-1.8 .1 1.9 .1-.7 .1-.6 .1 1.5 .1-.1 .1-5.2 .1 3.8 .1 .6 .1 .5 .1-1.6 .1-.9 .1 1.8 .1 .8 .1-4.1 .1 .8 .1 1.2 .1-3 .1 2.9 .1 2.1 .1-2.9 .1 1.7 .1-1.5 .1 1.8 .1 .3 .1 .9 .1-1.8 .1 1.3 .1-1 .1-1.3 .1 2.8 .1-3.2 .1 1.1 .1 3.3 .1-2.4 .1-2.6 .1 1.6 .1-1.3 .1 .5 .1-2.1 .1 2.5 .1-2.7 .1 2.8 .1-.1 .1 .7 .1 2 .1-6 .1 .7 .1 .2 .1 .6 .1 2.1 .1-2 .1-.4 .1-.9 .1 .6 .1 .2 .1 .5 .1-2.1 .1 1.9 .1 .9 .1-.4 .1-2.5 .1 3.1 .1-.1 .1-.9 .1-2.4 .1-.5 .1 2.2 .1-1.7 .1-.6 .1 3.4 .1-.1 .1-.5 .1 1 .1-.8 .1-3.3 .1 3.5 .1-1.6 .1 .4 .1 1.6 .1-1.8 .1 1.7 .1-2.5 .1-.8 .1-.6 .1 .8 .1-2.5 .1 2.5 .1-.2 .1-.8 .1-2.7 .1 0 .1 4.4 .1-2.7 .1 3.6 .1-3.4 .1 1.6 .1-2.9 .1 1.2 .1 .5 .1 1.2 .1 1.7 .1-1.2 .1-4 .1 2.3 .1-.4 .1-.8 .1 1.8 .1 1.5 .1-3.3 .1 2.4 .1 .4 .1-4 .1 4.5 .1-.3 .1-2.3 .1 2.2 .1-2.4 .1 1.4 .1-.9 .1-2.6 .1 1.8 .1-.8 .1-.6 .1-1.2 .1 .5 .1-.8 .1 3.8 .1-5.2 .1 3.3 .1-1.2 .1-1.2 .1 3.2 .1-2.6 .1 3.2 .1-2.4 .1 .8 .1-.9 .1 1.2 .1 .4 .1-2.4 .1 .7 .1 2.8 .1-3.9 .1 3.8 .1-3.7 .1-.4 .1-1.9 .1 1.3 .1-1.6 .1 1.8 .1 2.1 .1-1.4 .1-1 .1-.8 .1 .5 .1-1.4 .1 .3 .1 5.3 .1-3 .1-2 .1 2.6 .1 1.3 .1-3.7 .1 .8 .1-2 .1-.6 .1 4.9 .1 3.4 .1-7.2 .1-1.5 .1 5 .1-.6 .1-1.1 .1 1.6 .1-3.1 .1 .9 .1 .8 .1-1.9 .1 1.3 .1-1.3 .1 1.1 .1-.6 .1-3.7 .1 3.5 .1-2.7 .1 .9 .1-1.4 .1 4.1 .1-2 .1-.1 .1 2.7 .1-1 .1-1.6 .1-3.3 .1 4.7 .1-1.7 .1-.2 .1 1.8 .1-2.3 .1 .9 .1 1.6 .1-.6 .1-2.1 .1 3.5 .1-.6 .1 1.3 .1-3.4 .1 .4 .1 1.4 .1-1.1 .1-.6 .1-.4 .1-.4 .1-.7 .1 0 .1 1.8 .1-1.3 .1-2 .1 2.5 .1 2.7 .1-.5 .1-5.9 .1 2 .1 2.8 .1-1.3 .1-.1 .1-.3 .1 .2 .1-1.9 .1 3.8 .1-3.9 .1 1.5 .1 2.9 .1-.8 .1-2 .1 0 .1-1.1 .1 .2 .1 .4 .1 2.7 .1-3.1 .1 1.7 .1-.3 .1-.1 .1-1.2 .1 1.7 .1-1 .1-.1 .1-1.1 .1-2.9 .1 5 .1 0 .1-2.2 .1 .5 .1 .8 .1-2.3 .1 2.9 .1 0 .1 .2 .1 .1 .1-4.9 .1 4.2 .1-1.7 .1 2.7 .1-.2 .1-.4 .1-1.6 .1 5 .1-5 .1-1.7 .1 3.5 .1-4.3 .1 5.9 .1-1.6 .1 .5 .1-.5 .1-1.1 .1-3 .1 1.2 .1 2 .1-1.3 .1 1 .1-1.9 .1-.2 .1 1.9 .1 .8 .1-1.3 .1-1.7 .1-1.2 .1 6.4 .1-5.5 .1 .4 .1 .3 .1 2.8 .1-2.9 .1 2.3 .1-.5 .1-2.5 .1 2.3 .1-2.4 .1 1.8 .1 1.6 .1-1.7 .1-1.2 .1 .8 .1 .4 .1 .9 .1-4.6 .1 .8 .1 4.1 .1-1.1 .1 .2 .1 .3 .1-.6 .1-.5 .1 .9 .1 1 .1-.6 .1-.5 .1-1.9 .1 2.2 .1-2.4 .1 .8 .1 1.5 .1-.1 .1 1.7 .1-.4 .1-.7 .1-1.4 .1 .6 .1-.4 .1 3.4 .1-2.2 .1-2 .1-.3 .1 3.6 .1-3.7 .1 2.2 .1-.3 .1 1.5 .1-3.4 .1 2.3 .1-.4 .1 1 .1 1 .1-2.2 .1-.6 .1 1.9 .1-3.9 .1 2.7 .1-2 .1-.4 .1-.6 .1-.2 .1 4.3 .1 .1 .1-1.3 .1 1.6 .1-1.8 .1-.9 .1-1 .1 3.2 .1 .1 .1 .8 .1-3.6 .1 .9 .1-1.9 .1 4.4 .1-.8 .1-.3 .1-1 .1-.2 .1-.4 .1 2.5 .1-2.9 .1 2.6 .1-1.1 .1-2.2 .1-.8 .1 1.2 .1 1.3 .1-2.2 .1 3.3 .1 .9 .1-1 .1-3.9 .1-1.2 .1 5.6 .1 1.1 .1-3.3 .1 1.6 .1-1.4 .1-.6 .1 2.8 .1-2.6 .1 2.4 .1 1.5 .1-3.2 .1 3.5 .1-5.6 .1 3.9 .1-1.6 .1 4.5 .1-4.4 .1-1.5 .1 4.2 .1-5.5 .1 3.5 .1-2.1 .1 3.7 .1-2.6 .1 1.7 .1-1.6 .1-1.9 .1-1.8 .1 6.9 .1-2.7 .1-2.4 .1 1.4 .1 2.3 .1-4.3 .1 6.5 .1-4.4 .1-.2 .1 2.9 .1-1.9 .1-2.1 .1 3.3 .1-.8 .1 1.2 .1-3.6 .1-.3 .1 3 .1-1.8 .1-3 .1 2.7 .1 2.1 .1-2.3 .1 3.5 .1-3.2 .1 .7 .1-2.6 .1 1.4 .1 1.1 .1 1.3 .1-.7 .1 1.6 .1-5.7 .1 3.8 .1-.3 .1-1.5 .1 1.7 .1-1.2 .1 2.1 .1-1.4 .1 1.5 .1-2.5 .1 3.8 .1-1.5 .1 2.4 .1-3.3 .1-.7 .1 1.1 .1-1 .1-1 .1 1.8 .1-.1 .1-1 .1 .4 .1-1 .1 2 .1-2.6 .1 5.3 .1-2.9 .1 1.6 .1-3.8 .1 2.7 .1-.8 .1 2 .1-.2 .1-4.4 .1 4.9 .1-4.7 .1 5 .1-2.4 .1-2 .1 3.3 .1-1.1 .1-1.8 .1 .4 .1 2.2 .1-3.3 .1 .9 .1 4.8 .1-4.6 .1 2 .1 .2 .1 .9 .1-.1 .1-6 .1 3.6 .1 2.9 .1-3.4 .1 4.6 .1-2.8 .1-2.6 .1 3.2 .1 2.4 .1-4.6 .1 2.2 .1-2.5 .1 .5 .1 1.3 .1 .7 .1-.3 .1-.2 .1 3.9 .1-6.2 .1-1.3 .1 4.3 .1-.7 .1-2.8 .1 5.6 .1-4.3 .1-1.2 .1 3.2 .1 .4 .1 3.1 .1-6.9 .1 .5 .1 1.8 .1-.3 .1 .7 .1-1.1 .1-1.5 .1 2 .1 2 .1 .2 .1-2.6 .1 2.2 .1-.2 .1-1.6 .1 .2 .1 .8 .1 4.9 .1-4.7 .1-1.8 .1 1.3 .1-.7 .1 3 .1-5.8 .1 1.9 .1 3.5 .1-.8 .1-.6 .1 1.2 .1-3.6 .1 3 .1-2.7 .1-.2 .1 3.2 .1-2.3 .1 .8 .1 1.8 .1-3 .1 3 .1 3 .1-4.4 .1 2.2 .1-.4 .1-3.6 .1-.2 .1 2.6 .1-3.9 .1 4 .1 .4 .1 .4 .1 0 .1 1.7 .1-3 .1 3.1 .1-1.4 .1 0 .1-1.2 .1 2.1 .1-3.1 .1 2.8 .1 .7 .1-3.2 .1-.4 .1 .4 .1 1.3 .1 .8 .1 1 .1 1.9 .1-.4 .1-2.4 .1-1.1 .1-1.5 .1 3.8 .1-.5 .1-1.4 .1 .3 .1 .1 .1-4.4 .1 4.6 .1 .8 .1-.8 .1-1.6 .1 2.1 .1 .8 .1 2.5 .1-1.3 .1-.8 .1-1.1 .1-2.3 .1 1.6 .1-1.5 .1 2.3 .1 2.2 .1 .1 .1-.2 .1-1.6 .1 1.8 .1-2.2 .1-3 .1 3.8 .1-.1 .1-3.2 .1 2.3 .1-3.5 .1 3.7 .1 3.1 .1-3.3 .1 3.6 .1-1.9 .1-1.8 .1-1.8 .1 4.7 .1-.1 .1-3.9 .1 1.9 .1 2.9 .1-3.4 .1 2.2 .1-4.3 .1 1.9 .1 3.1 .1-3.5 .1-.4 .1 .1 .1 1.9 .1-2.2 .1 2.8 .1 1.2 .1 1.9 .1-3.6 .1 3.8 .1-1.9 .1-1.4 .1 1.4 .1 1.8 .1 0 .1-1.3 .1-1.5 .1 1.7 .1-1.1 .1 0 .1 .2 .1 2.9 .1-5.6 .1 2.1 .1-1.8 .1 3.6 .1 .5 .1 .5 .1-3.1 .1 .8 .1 1.3 .1-1 .1 .2 .1-.1 .1 .1 .1-.7 .1 1.1 .1-3.5 .1 2 .1-1.7 .1 2.3 .1-1.1 .1 2.4 .1 1.3 .1-4.6 .1 .9 .1 2.1 .1 2.1 .1-1.2 .1-.6 .1-.9 .1-.7 .1 1.6 .1 .2 .1-.6 .1-1.3 .1-1.9 .1 1.4 .1 .9 .1-1.4 .1 2.8 .1-3.2 .1 2.1 .1 1.2 .1 .9 .1-1 .1 1.8 .1-3.3 .1-.4 .1 3.6 .1-3.7 .1 1.4 .1-2.9 .1 5.3 .1-.7 .1-2.7 .1-1.9 .1 3.8 .1 .1 .1 1.7 .1 1.3 .1-3 .1-.9 .1 0 .1-.1 .1-1.9 .1 .9 .1 1.5 .1-2.9 .1 .7 .1 4.8 .1-3.6 .1 2.8 .1 .6 .1-2 .1 1.6 .1-1.9 .1-1.3 .1 1.5 .1 .3 .1 .2 .1-.1 .1-.9 .1 2.8 .1-2.3 .1-.4 .1 2.5 .1-3.6 .1 1.9 .1 2.9 .1-2.7 .1 2.6 .1-3.1 .1-.5 .1 .7 .1-.7 .1 .4 .1-.1 .1 2.3 .1-.7 .1-1.1 .1-1 .1 7.5 .1-6.4 .1 3 .1-4.8 .1 .8 .1 3.8 .1-4.4 .1 .1 .1 1.9 .1-1.2 .1 .9 .1 .8 .1 1.4 .1-1.3 .1 .3 .1 1.9 .1 .2 .1-3.3 .1-2.8 .1 1.6 .1 4 .1-2.9 .1-.4 .1 .5 .1 3.9 .1-2.9 .1-.8 .1-.6 .1-.7 .1 7.4 .1-5.4 .1 .4 .1-.8 .1 2.6 .1-3.9 .1-1.6 .1 2.5 .1 1.7 .1 3.7 .1-4.4 .1-1.4 .1 1.2 .1-1 .1 0 .1 1.6 .1 .5 .1-1.8 .1 3.3 .1-2.2 .1 .4 .1-1.1 .1 1.6 .1 .1 .1 .5 .1-2.7 .1 2.7 .1-2.2 .1 1.3 .1 1.2 .1 1.5 .1-3.7 .1-1.2 .1 2.4 .1 2 .1-2.8 .1 5.1 .1-8 .1 6.3 .1-.6 .1 0 .1-3.6 .1 4.1 .1-.4 .1 .2 .1-2.7 .1 0 .1 2.9 .1-1.8 .1-1.3 .1-.8 .1 2.1 .1-3 .1 3.6 .1-.8 .1-3.1 .1 3.7 .1 1.4 .1-1.7 .1-2.9 .1 1.3 .1 2.7 .1-3.9 .1 1.7 .1 2.9 .1-2.6 .1-.6 .1 2.6 .1 1.5 .1-2.2 .1-3.2 .1-.5 .1 2.6 .1-2.9 .1 3.2 .1 1.9 .1-6.6 .1 4.6 .1 1 .1-1.6 .1 1.7 .1 .2 .1 1.1 .1 3.1 .1-4.4 .1-2.3 .1-.2 .1-.3 .1 3.6 .1-.7 .1 .3 .1-.5 .1 2.6 .1-.9 .1-.1 .1-3.1 .1 .6 .1-1.8 .1 1.3 .1 1.3 .1-2.4 .1 1.1 .1 5 .1-4.1 .1-2.4 .1 .5 .1 2.2 .1 1.7 .1-1.7 .1 1.8 .1-1 .1-2.6 .1 3.9 .1-2.7 .1 4.3 .1-4.5 .1 .8 .1-.7 .1 .5 .1 1.4 .1-1.2 .1 2.6 .1-1.4 .1 2.1 .1-2.7 .1 2.2 .1-.1 .1-2.5 .1 5 .1-1.9 .1-1.7 .1-1.4 .1 .3 .1-.2 .1 .9 .1-2.6 .1 2.2 .1-1.2 .1 4.2 .1-1.7 .1 1.7 .1 1.3 .1-3.4 .1 2.8 .1-3 .1 .5 .1-2.9 .1 1.9 .1 2.5 .1-1.7 .1-1.5 .1 .7 .1-1.4 .1 .2 .1-1.4 .1 4.7 .1-.1 .1-2.1 .1-2.2 .1 2 .1 4.1 .1-6.1 .1 1.6 .1 0 .1 2.4 .1-3.8 .1 2.8 .1-1.9 .1 .8 .1-1.5 .1 3.2 .1-1.9 .1-.1 .1 3.1 .1-1.4 .1 3.7 .1-3.5 .1-.6 .1 .1 .1 4.8 .1-2.7 .1-2.8 .1 1.2 .1-1.5 .1 2.1 .1-2.1 .1 0 .1 1.8 .1 1.6 .1-.8 .1-.2 .1-1.3 .1-4.4 .1 4.1 .1 0 .1 1.3 .1 2.2 .1-1.7 .1-4.5 .1 3.2 .1-.5 .1 1.8 .1-1.4 .1-3.3 .1 1.8 .1 1.1 .1-3.1 .1 3.5 .1-.3 .1 2.5 .1-2.1 .1-.9 .1 .9 .1 .3 .1 1.7 .1-3.4 .1-2.3 .1 9 .1-3.6 .1-1.2 .1 4.3 .1-6.4 .1 .7 .1 .6 .1 1.7 .1-1.6 .1 2.2 .1-2 .1 3 .1-1.5 .1-3.7 .1 2.9 .1-1.9 .1 1.8 .1 .3 .1 4 .1-4.4 .1-2.4 .1 3.1 .1-2.3 .1 5.4 .1-1.9 .1 1.5 .1-3.4 .1-1.2 .1 2.5 .1-3 .1 .8 .1 .4 .1 1.1 .1-2.4 .1-.9 .1 6.2 .1-3.4 .1 .6 .1 1.5 .1-.3 .1-1.9 .1 .4 .1 3.7 .1-.5 .1-.9 .1 1.7 .1-6.3 .1 3.6 .1-.7 .1-2.8 .1 4 .1 .6 .1-.6 .1-3.7 .1 2.9 .1 .8 .1-.7 .1 .9 .1 .4 .1 1.7 .1-2 .1 4.2 .1-4.2 .1 .2 .1 .9 .1-1.5 .1-.4 .1 2.8 .1-5.9 .1 .7 .1 6.8 .1-2.3 .1-.3 .1-.4 .1 0 .1-2.1 .1 1.2 .1-1.2 .1 3.8 .1-.8 .1-.7 .1 .3 .1-.8 .1-1.8 .1 5 .1-1.7 .1-1.4 .1 1.3 .1 1.2 .1-.1 .1-.8 .1 .3 .1-1.7 .1 2.7 .1-.6 .1 0 .1-3.7 .1 3.3 .1 .1 .1 .2 .1-5.6 .1 1.3 .1 3.6 .1-2 .1 2.3 .1-.8 .1 1.6 .1-2.2 .1-.8 .1 2.6 .1-1.2 .1-1.4 .1-1.3 .1 8.3 .1-5.6 .1 .3 .1-2.7 .1 1.5 .1 1.4 .1 .9 .1 .7 .1-2.3 .1 1.9 .1 1.1 .1-2.5 .1 .7 .1-2.7 .1 1.6 .1-.8 .1 3.2 .1-1.2 .1 2.7 .1-2.1 .1 1 .1-.4 .1-.4 .1-1.9 .1 4.2 .1-2.6 .1-2.7 .1 2 .1-.8 .1 3.5 .1-.1 .1 .7 .1 1 .1-4.2 .1-1.8 .1 1.5 .1 2 .1-4.6 .1 3.2 .1 2.1 .1-2.4 .1 1.1 .1-1.1 .1 3.9 .1 .3 .1-4.3 .1 .3 .1 1.5 .1 .8 .1-.3 .1 .3 .1 .6 .1 .3 .1 1 .1-2.3 .1-.9 .1 .6 .1 3.3 .1-1.9 .1-.2 .1 1 .1-.2 .1 1.6 .1-4.3 .1 1.4 .1 .8 .1 .1 .1-1.6 .1-1.7 .1 1.9 .1-.6 .1 .9 .1 1.6 .1-.5 .1-2.4 .1 .5 .1 1.3 .1 1.3 .1-1.6 .1 .4 .1-2.2 .1 1.3 .1-.3 .1 1.3 .1-.6 .1-.8 .1-.2 .1 1.7 .1-1.1 .1 2.4 .1-1.3 .1-.5 .1 1.5 .1-2.7 .1 2.8 .1-2.1 .1 1.9 .1-1.8 .1-.3 .1-1.1 .1 2.4 .1 .6 .1-2.4 .1 4 .1-2.2 .1-1.3 .1 3.8 .1-2.9 .1 2.3 .1-5.2 .1 6.1 .1-2.4 .1-.2 .1 .4 .1-1.8 .1 2.6 .1-.6 .1-.1 .1-1.1 .1-.7 .1 1.9 .1 .5 .1-.7 .1-.4 .1-.4 .1 1.5 .1 .9 .1-1.9 .1-.8 .1 3.9 .1-4.7 .1 2.1 .1-.4 .1 1.6 .1-1.6 .1-1.7 .1 .6 .1 1.4 .1-.1 .1-.8 .1 .2 .1-1.1 .1 .1 .1 .9 .1 0 .1 .6 .1-1.2 .1 3.1 .1-3.7 .1 2.9 .1-.3 .1 1.1 .1-.2 .1-3 .1 1.9 .1 .4 .1 .2 .1-.4 .1-1.2 .1 2 .1-1.5 .1-.4 .1 .7 .1-.7 .1-.2 .1 .9 .1 2.8 .1-2.6 .1-.3 .1-.5 .1 .9 .1-1.7 .1 1.8 .1-.2 .1-.2 .1 .4 .1-.7 .1 .9 .1-.1 .1 0 .1-.6 .1 1 .1-1.2 .1 1.6 .1-1.5 .1 1.5 .1-1.1 .1-.3 .1-1.1 .1 1.8 .1-.3 .1-.3 .1 .4 .1-.3 .1-1.1 .1-.3 .1 1.9 .1-.4 .1 1.4 .1 .6 .1-1.3 .1-.2 .1-.1 .1-.5 .1-.8 .1-2.2 .1 3.7 .1-.2 .1-.6 .1 .1 .1 1 .1-.1 .1-.8 .1-.5 .1 1 .1 .2 .1 1.5 .1-3.4 .1 1.6 .1-1.5 .1 .4 .1 3.1 .1-3 .1 .3 .1-.5 .1 1.6 .1-1.4 .1-1.4 .1 2 .1 .7 .1-.9 .1 .2 .1-.9 .1-.3 .1 1.1 .1-1.3 .1 .8 .1-.6 .1 .8 .1 1.1 .1-.9 .1 1.3 .1-.8 .1-.6 .1-.8 .1 1.1 .1-1.4 .1 2.1 .1-2.3 .1 0 .1 .5 .1-.8 .1 1.9 .1-1 .1 .4 .1 1.1 .1-3 .1 2.1 .1 .7 .1 .7 .1-1 .1-.8 .1 1.7 .1 0 .1 1.4 .1-.1 .1-2.5 .1 1.7 .1-1.3 .1-1.3 .1 1.9 .1 .6 .1-3.9 .1 3.9 .1-2.3 .1 2.6 .1-1.4 .1-.1 .1 1.3 .1-1.9 .1 2.7 .1-3.3 .1 .4 .1-.6 .1 1.8 .1-.7 .1 1 .1 .3 .1-.3 .1 .3 .1 0 .1-1.3 .1-.7 .1-.3 .1 1.9 .1-1.4 .1-.4 .1 .1 .1 .7 .1 .4 .1-.5 .1-.8 .1 1.7 .1-3 .1 2 .1 1.5 .1-.8 .1 .9 .1-1.1 .1 .5 .1-.6 .1-.5 .1 .9 .1 .6 .1-3.1 .1 1.2 .1-1.4 .1 1.3 .1-.4 .1 .8 .1 .2 .1 1.4 .1 .2 .1-2.1 .1 .3 .1 1.2 .1-1.4 .1 .3 .1-1.5 .1 2.7 .1-.5 .1-1.3 .1-.4 .1 .3 .1 1.6 .1-1 .1-.8 .1 1 .1 1.2 .1 .5 .1 .1 .1-1.3 .1 .1 .1 .1 .1 .4 .1-.1 .1-1.7 .1 .3 .1 .4 .1 1.1 .1-1.3 .1-.2 .1 1.8 .1 .5 .1-2.5 .1 .8 .1 1.4 .1-1.7 .1 1.4 .1-2.4 .1 1.2 .1 1 .1 .9 .1-.6 .1-2.7 .1 0 .1 .7 .1 1.8 .1-.1 .1 .4 .1-.4 .1-1.3 .1 .2 .1-.6 .1 1.8 .1-2.2 .1 1.4 .1 .2 .1 1.1 .1-2.1 .1 1.2 .1-1.5 .1 2.1 .1-1.4 .1 0 .1-.6 .1 .3 .1 0 .1 0 .1 1.9 .1-2.3 .1 1.3 .1 .6 .1-2 .1-1.1 .1 2.8 .1-2.3 .1 .9 .1 .8 .1 .3 .1-.5 .1-.5 .1 1.8 .1-.8 .1 1.8 .1-3 .1 .9 .1 0 .1 .6 .1-.3 .1-.2 .1 2 .1-2.2 .1 .6 .1-.2 .1-.9 .1 1.4 .1-2.7 .1 3.2 .1-2.8 .1 1.2 .1 .5 .1-.6 .1-.1 .1 1.8 .1 1.3 .1-1.4 .1-1 .1-.8 .1-.1 .1 2 .1-.3 .1 .4 .1-.3 .1 .3 .1-2 .1-.1 .1-.3 .1 1 .1-.1 .1 .3 .1-1.4 .1 1.4 .1 .7 .1-.8 .1-2.8 .1 2.7 .1-.3 .1 1.3 .1-1.1 .1 .8 .1-1 .1 .7 .1 .7 .1-1.3 .1 .6 .1-.2 .1 .5 .1-.8 .1 .7 .1-2.4 .1 1.6 .1 1.1 .1-.1 .1-1.7 .1 .1 .1 1.3 .1-.1 .1 .1 .1-.4 .1 .1 .1 .9 .1-2 .1-.5 .1 2.5 .1-1.8 .1 1.5 .1-1.4 .1-.5 .1 2.7 .1-1.6 .1-1.4 .1 1.2 .1 .1 .1-.1 .1 .4 .1-1.3 .1 .9 .1 .7 .1 .2 .1-.6 .1-.9 .1-1.2 .1 3.5 .1-2.6 .1 .7 .1 .5 .1 .4 .1-.5 .1-.8 .1 .8 .1 2.2 .1 .4 .1-2.8 .1 .9 .1-2.4 .1 2 .1 .5 .1-1 .1 2.1 .1-1 .1-.2 .1-3.3 .1 2 .1 1.4 .1-1.2 .1-1.3 .1 1.2 .1 2.1 .1-.9 .1 .2 .1-.6 .1 1.4 .1-4.5 .1 1.7 .1 3.1 .1-.9 .1-.8 .1-.6 .1-1.5 .1 1.4 .1 .3 .1-.8 .1 2.4 .1-.4 .1-1.3 .1 1.2 .1-1 .1 .3 .1-.7 .1 3 .1-4 .1 1.3 .1 1.2 .1 0 .1-2.7 .1 .7 .1 .9 .1-.7 .1 .1 .1 .4 .1 .1 .1 1.3 .1-2.8 .1 2.7 .1-1.3 .1 .9 .1-1 .1 2.7 .1-4.1 .1 3 .1-1.7 .1 .2 .1 1.7 .1-1.6 .1 1.1" stroke="#244062" stroke-width="3.2"/>
<path d="M79.5,332.7l.1-1 .1-.7 .1 1.5 .1 .2 .1-.3 .1-2.3 .1 .7 .1 1.7 .1 .6 .1-2.2 .1 1.8 .1 .1 .1-.8 .1-1 .1 .5 .1 .2 .1 .8 .1 .2 .1-1.4 .1 .6 .1 .1 .1-.1 .1 .8 .1-.9 .1 .2 .1-1.1 .1 1.2 .1-.8 .1 2.1 .1-1.3 .1 0 .1 0 .1-1 .1 .6 .1 .4 .1 .6 .1-.5 .1-1.2 .1 .8 .1 .1 .1-1.2 .1 1.7 .1 .2 .1-1.3 .1 2.4 .1-1.4 .1-.7 .1 1.9 .1-1.9 .1 .5 .1-1.5 .1 .6 .1 2.1 .1-2 .1 .1 .1 .4 .1-.4 .1-.3 .1 .1 .1 .7 .1 1.3 .1-.6 .1 1.1 .1-2.3 .1 .7 .1 .1 .1 .2 .1 .2 .1-1.9 .1 2.4 .1-1.1 .1-.4 .1 .6 .1-.6 .1-.5 .1 .6 .1-1.1 .1 .6 .1 1.4 .1-.2 .1-1.2 .1-.9 .1 1.9 .1 .1 .1-.3 .1-.7 .1 .8 .1-.4 .1 .5 .1 .2 .1-.4 .1-.1 .1 .5 .1-.2 .1-.8 .1 .5 .1 .6 .1 0 .1-.7 .1 .1 .1-.7 .1 1 .1 .6 .1-.5 .1-.6 .1 .8 .1-.5 .1 .5 .1-1.4 .1 .6 .1 .9 .1 .3 .1-1.5 .1 .3 .1 1.7 .1-1.1 .1-.4 .1 .5 .1-.8 .1-.8 .1 1.3 .1-.3 .1-.2 .1 .4 .1-.6 .1 .3 .1-1.1 .1 2.3 .1 .2 .1-1.9 .1-.4 .1 1.5 .1 .3 .1-.9 .1-.5 .1 2.2 .1-1.9 .1 .8 .1 0 .1 0 .1 .7 .1 .1 .1-2.2 .1 1 .1 1 .1-.7 .1-.6 .1 1 .1-1 .1 .3 .1 .8 .1-.2 .1 1 .1-.9 .1-.6 .1 .8 .1-.8 .1 .1 .1 0 .1-.4 .1 .5 .1 0 .1 0 .1-.9 .1 1.2 .1-.4 .1-.2 .1 0 .1-.4 .1 0 .1 1.9 .1-1.2 .1 .4 .1 0 .1-1.1 .1 .4 .1-.3 .1 .8 .1-.1 .1-1 .1 1.4 .1 0 .1-1.7 .1 1.3 .1-.1 .1-1.5 .1 .5 .1 1.3 .1-1.4 .1-.5 .1 1.5 .1-1.5 .1 1.3 .1 .2 .1-.1 .1 .5 .1-.5 .1-.2 .1-.6 .1 1.7 .1-1.7 .1 1.1 .1-.3 .1-.3 .1-.6 .1-.3 .1 1.2 .1 .6 .1-.5 .1-.9 .1 1.6 .1-2.7 .1 1.9 .1 .7 .1 .1 .1-.8 .1 1 .1 .4 .1-1.5 .1 1 .1-.8 .1 .8 .1-1.7 .1 1.4 .1 .4 .1-.1 .1-.8 .1-1.5 .1 1.7 .1-2 .1 1.9 .1 0 .1 .4 .1-1 .1 1 .1-.8 .1-.6 .1 1 .1 1.6 .1-1.5 .1 .1 .1 .9 .1-.4 .1 0 .1-1.9 .1 .5 .1 2.2 .1-1.5 .1-.7 .1 1.5 .1-.6 .1-1.8 .1 1 .1-.4 .1 0 .1 .3 .1-.4 .1 .6 .1 .6 .1-.4 .1 0 .1 .9 .1-.9 .1 .3 .1-.8 .1-.2 .1 1.3 .1-1.2 .1 .9 .1 .6 .1-1.1 .1 2 .1-.8 .1-1.4 .1 2.2 .1-1.2 .1 .4 .1-1.2 .1 .6 .1-.4 .1 .4 .1-.7 .1 .1 .1-.2 .1-1.1 .1 1 .1 .9 .1-1.2 .1 .2 .1 1.8 .1-2.4 .1 1.2 .1 .5 .1 .1 .1-.1 .1-.1 .1-.3 .1-.7 .1-.9 .1 2.9 .1-1.5 .1 .4 .1-.9 .1 .8 .1-1.1 .1 .5 .1 .7 .1 1.2 .1-.9 .1 1.1 .1-1.3 .1-.1 .1 1 .1-1.1 .1-1.1 .1 1.5 .1-.1 .1-.2 .1 .2 .1-.6 .1 .2 .1-.9 .1 1.6 .1-1.1 .1 1.4 .1-.8 .1-.7 .1 1.1 .1-.2 .1 0 .1-.3 .1-.4 .1 1.5 .1-2.3 .1 .4 .1 1.8 .1 .3 .1-2.7 .1 2.7 .1-.8 .1-2 .1 1 .1-.3 .1 .9 .1-.3 .1 1.1 .1-.8 .1 .5 .1 .1 .1-1.5 .1 .7 .1 .5 .1-.2 .1-.7 .1 .9 .1-1.3 .1 .4 .1 .9 .1 .1 .1-1.3 .1 1 .1 .2 .1 .3 .1-.2 .1-.4 .1-.9 .1-.4 .1 .6 .1 .1 .1 .2 .1 .5 .1 .2 .1 1.1 .1-2.8 .1 .6 .1-.6 .1 .4 .1-.2 .1 .4 .1 0 .1-.3 .1 .5 .1 1 .1 0 .1-.6 .1 .7 .1-2.2 .1 .8 .1 1.4 .1-.9 .1-.2 .1 .2 .1 0 .1 .8 .1 .6 .1-2.1 .1 .2 .1 .4 .1 .6 .1 .3 .1-.5 .1 .3 .1-.5 .1 .5 .1-1.8 .1 2.1 .1-.5 .1-.9 .1 .8 .1-.9 .1 1.8 .1-.1 .1-.7 .1-1.4 .1-.2 .1 1.6 .1-.9 .1 2.4 .1-2.7 .1 0 .1 1.8 .1 .8 .1-2.7 .1 1.8 .1-.3 .1-.6 .1-.7 .1 .5 .1 .2 .1 .8 .1 0 .1-.7 .1-1.3 .1 1 .1 .1 .1-.5 .1 1.2 .1 .7 .1-.5 .1-.8 .1-.9 .1 1.6 .1 .5 .1-.7 .1 0 .1 .1 .1-.4 .1-.7 .1 2.2 .1-.5 .1 .2 .1-1.1 .1 .6 .1-2.1 .1 1.4 .1 0 .1-.5 .1 0 .1-.7 .1 1.6 .1-.2 .1 .3 .1-.9 .1 1.1 .1 1 .1-1.9 .1 .8 .1-2.5 .1 3.4 .1-.2 .1-1.1 .1 .5 .1-1.7 .1 2 .1-1.6 .1 .5 .1-.2 .1 1.1 .1-.5 .1 0 .1 .7 .1-1.8 .1 1.3 .1 .3 .1 .9 .1-.6 .1-1.7 .1 1.5 .1-1.9 .1 .8 .1 .1 .1 .7 .1-.8 .1 .2 .1 .4 .1-.2 .1 .2 .1-.7 .1 .5 .1 .8 .1-.3 .1-.2 .1-.1 .1-1.5 .1 2.2 .1 .3 .1-.3 .1-1.9 .1 .5 .1 0 .1 .6 .1-.5 .1 .5 .1 .4 .1-.5 .1 1.2 .1-.4 .1-.6 .1-.7 .1 .5 .1-.4 .1-.6 .1 1.1 .1 .8 .1-1.2 .1-.4 .1 .7 .1-.5 .1 1.1 .1-.8 .1 .2 .1-.2 .1 .2 .1-.7 .1 .8 .1-.6 .1-.1 .1 .8 .1-1.5 .1 .7 .1 .4 .1 0 .1 .5 .1 .5 .1-.8 .1 0 .1-.1 .1 .1 .1-.1 .1 2.3 .1-2.8 .1 1.3 .1 0 .1-.2 .1-.6 .1 .5 .1 .4 .1-1.4 .1 1.5 .1-.7 .1 .9 .1-1 .1 .1 .1 0 .1 .7 .1-1.1 .1 1.3 .1-.9 .1-1.4 .1 1 .1 1.3 .1-1.1 .1-1 .1 1.3 .1-.4 .1 .6 .1-.8 .1 1.2 .1-.5 .1-.3 .1-1.1 .1 .7 .1 1.5 .1 .6 .1-1.2 .1-.6 .1 .7 .1-.8 .1-.8 .1 .7 .1-1 .1 1.1 .1 .3 .1 .4 .1 1 .1-1.8 .1 1 .1-.9 .1 .8 .1-.6 .1-.1 .1-.1 .1-.5 .1-.1 .1 2.3 .1-1.9 .1 .2 .1-.4 .1-.4 .1 1.4 .1-1.1 .1-.4 .1 .1 .1 .8 .1 .7 .1-1 .1 2.3 .1-2.8 .1 1.7 .1-2.1 .1 1.2 .1 .2 .1-.9 .1 .8 .1 .1 .1-.3 .1 1.1 .1-1 .1 1.1 .1-1.7 .1 .9 .1-.3 .1-.3 .1 .6 .1-.7 .1 .9 .1-1.3 .1 .9 .1-.3 .1 1.4 .1-1.1 .1-.9 .1-.7 .1 1.2 .1 .2 .1 1.5 .1 .4 .1-1.7 .1-.2 .1 1.3 .1-1.9 .1 .5 .1 1.4 .1-1.1 .1 .1 .1 0 .1-.7 .1 .2 .1 .4 .1-1.2 .1 .9 .1 .8 .1-.6 .1-1.6 .1 1.8 .1 .5 .1-.8 .1 1.2 .1-.7 .1-.2 .1-.4 .1-.8 .1 .4 .1 .3 .1-.9 .1 1.8 .1-1.3 .1-.4 .1 1.2 .1-.5 .1-.1 .1 .3 .1 1.5 .1-1.7 .1 .8 .1-.1 .1-.3 .1 0 .1-.3 .1 1 .1-.2 .1-1.2 .1 2.1 .1-.2 .1 .1 .1 .2 .1-1.9 .1 .6 .1 .2 .1-.8 .1 .8 .1-.7 .1 1.5 .1-1.2 .1-1.1 .1 .2 .1 .4 .1 .1 .1 1.4 .1-1.5 .1-.4 .1 1.4 .1 .1 .1 .5 .1-1.6 .1 .4 .1-.2 .1 .7 .1 .6 .1-1.2 .1-.6 .1 1 .1-1 .1-.9 .1 2.1 .1 .5 .1-2 .1 1.3 .1-.8 .1 .3 .1 .5 .1-.3 .1-.6 .1 2.3 .1-1.5 .1 .8 .1-1.2 .1 1.1 .1-.2 .1-1.1 .1-.2 .1 1.3 .1-.5 .1-1 .1 .2 .1-.2 .1 1.7 .1-.2 .1-1 .1 1.9 .1-1.5 .1 .7 .1 .6 .1-1.8 .1 .2 .1-.3 .1 .7 .1-1.3 .1 2.4 .1-.5 .1-.6 .1-.2 .1 .7 .1-1.2 .1 .2 .1 .4 .1 .6 .1-1.4 .1-.6 .1 .7 .1 1.1 .1 .3 .1 .3 .1 0 .1-2.5 .1 3.1 .1-2.3 .1 1.9 .1-.9 .1-.4 .1 .7 .1-.9 .1-.9 .1 1.2 .1-.6 .1 1.2 .1-.4 .1-.2 .1-.4 .1-.2 .1 1.5 .1-.8 .1 .6 .1 0 .1-1 .1 .3 .1 1.1 .1-1.5 .1 .5 .1 .7 .1 .4 .1-1.5 .1-.4 .1 .9 .1-.6 .1 1.1 .1 0 .1-1.8 .1 1.1 .1-.4 .1 .6 .1 .8 .1-.5 .1 .4 .1-.7 .1-2 .1-.1 .1 1.9 .1 .8 .1-.8 .1 .3 .1-1.2 .1 1.8 .1-2.5 .1 .8 .1-.1 .1 1.9 .1-1.8 .1 1.9 .1-1 .1-1 .1 .4 .1 1.1 .1-1 .1 1.4 .1-1.3 .1 1.7 .1-1.7 .1 1.2 .1-.6 .1-.1 .1 .3 .1 .4 .1-.5 .1-.6 .1 .4 .1 .2 .1-.6 .1 1.1 .1-1.4 .1-.3 .1 1 .1-.7 .1 1.4 .1 .2 .1-2.3 .1 1.5 .1-.3 .1 .8 .1-.7 .1 .8 .1-.7 .1 .6 .1-1.3 .1 1.8 .1-2.2 .1 .1 .1 1.3 .1 .5 .1-.5 .1-2.2 .1 .9 .1 1.2 .1-.1 .1 .1 .1-.4 .1 .1 .1 .3 .1 .8 .1-.4 .1-.9 .1 .8 .1-.2 .1-1 .1 1.4 .1-.6 .1-.3 .1 .5 .1-2.4 .1 3.3 .1-1.4 .1-.1 .1-.3 .1 .9 .1 .3 .1 .3 .1-1.3 .1 1.9 .1-1.8 .1 .4 .1 2.1 .1-1.6 .1-2 .1 1.6 .1 .3 .1-.7 .1 .5 .1 .8 .1-1.5 .1 .1 .1 .9 .1-.8 .1 .1 .1 .5 .1 .5 .1 0 .1 .7 .1-.9 .1-.3 .1-1.9 .1 1.6 .1-.5 .1-.7 .1 1.2 .1 .3 .1-.8 .1 1 .1-1.3 .1 .3 .1 1.3 .1-.4 .1-.1 .1-.6 .1 .8 .1-1.4 .1 .9 .1 .1 .1-.3 .1 1.1 .1-.1 .1-.7 .1-.1 .1 .2 .1 .4 .1-.3 .1-.1 .1 .1 .1 .5 .1-.4 .1-.7 .1 .7 .1-1.1 .1 1.6 .1 .8 .1-1.6 .1 .6 .1 .2 .1-1.3 .1 1 .1 .4 .1-1.2 .1 .9 .1-.3 .1-1.1 .1 1.3 .1 .8 .1-1.2 .1 .2 .1-1 .1-.1 .1 .4 .1 .5 .1 .1 .1 0 .1 .4 .1-.3 .1-.5 .1 .7 .1-1.1 .1 1.9 .1-1.9 .1 .6 .1-.8 .1 1.8 .1-.7 .1-.9 .1 0 .1 1.2 .1-1.7 .1 1.2 .1-.9 .1 1 .1 .6 .1-.8 .1 .3 .1-.1 .1-.9 .1 .3 .1-.2 .1-.3 .1-1.1 .1 3 .1-1.4 .1 .7 .1 0 .1-.8 .1 .8 .1 .1 .1-.7 .1-.2 .1 .7 .1-.2 .1-.4 .1 1 .1-1.6 .1 1.7 .1-.7 .1-.9 .1 1.1 .1-.8 .1 .6 .1-.2 .1-.4 .1 1.6 .1-1.1 .1-.1 .1 .8 .1-.3 .1-.4 .1 .2 .1-1 .1 1.8 .1-2.1 .1 2.3 .1-.7 .1-.7 .1-.3 .1-.7 .1 .1 .1 2.2 .1-.5 .1 0 .1-.1 .1-1.5 .1 1.6 .1-1.2 .1-.7 .1 .9 .1 .1 .1 1.3 .1-1.8 .1 .1 .1 .6 .1 .9 .1-2.4 .1 1.6 .1 .8 .1 .5 .1-.9 .1 .2 .1-.7 .1 0 .1 .2 .1-.7 .1 .8 .1 0 .1 .6 .1 .6 .1-1.1 .1 .1 .1-.1 .1-1.5 .1 1.6 .1-.3 .1-.7 .1 1 .1-1.2 .1 1.5 .1-1.1 .1-.3 .1 .5 .1 .2 .1-.8 .1-.6 .1 2.4 .1-1.9 .1 .5 .1 .2 .1-.7 .1 .7 .1 .6 .1 1.3 .1-.6 .1-.3 .1-1.6 .1 1.6 .1-1.1 .1 1.8 .1-2 .1-.3 .1 1.1 .1 .7 .1-1.5 .1-.2 .1 1 .1-1.1 .1 .6 .1-.5 .1 .2 .1 .8 .1 .2 .1-.1 .1-1.2 .1 .9 .1 .2 .1-1.1 .1 .6 .1 .7 .1 .3 .1 .2 .1-1.6 .1 .1 .1 .5 .1-.3 .1-.4 .1 .6 .1 .2 .1 .7 .1-.7 .1-.9 .1 1.7 .1-1.4 .1 1.3 .1-.7 .1-.5 .1 1.9 .1-1.7 .1-1.3 .1 .9 .1 .2 .1 1.1 .1-.8 .1-.3 .1-.1 .1-.4 .1 .9 .1 .4 .1 0 .1-.4 .1-1.1 .1 .8 .1 .6 .1 0 .1 .8 .1-.1 .1-.2 .1 .6 .1-.7 .1-.4 .1 .9 .1-1.5 .1 1 .1-1.9 .1 1.2 .1 .8 .1 .6 .1-2.7 .1 .5 .1 .7 .1-.7 .1 .6 .1 .3 .1 1 .1-1.6 .1 1 .1-1.5 .1 1.9 .1-.5 .1 .1 .1-.6 .1 1.1 .1-.4 .1-1.7 .1 2.2 .1 .5 .1-1.1 .1-.5 .1 .3 .1 1.4 .1-1.8 .1-.8 .1 2.1 .1-.6 .1-.5 .1 .4 .1-.8 .1 1.5 .1-.7 .1-.8 .1-.9 .1 .3 .1 .2 .1 1.2 .1-.3 .1-.5 .1 .6 .1 .5 .1-.6 .1 .8 .1-1.6 .1 .6 .1 .7 .1-.9 .1 .2 .1-1.6 .1 2.1 .1 0 .1-.9 .1 .1 .1 .5 .1 .6 .1-2.3 .1-.3 .1 2.4 .1 .6 .1-1.1 .1-.3 .1 .2 .1 .1 .1 .1 .1 1 .1-2.2 .1 1.6 .1-.3 .1 .1 .1-1.9 .1 2.2 .1-2.3 .1 .8 .1 .3 .1 .2 .1 .4 .1-.7 .1 1.2 .1-.3 .1 .3 .1-.3 .1-.5 .1 1.2 .1-1.1 .1-.1 .1 .6 .1 .4 .1-.2 .1-.8 .1 .8 .1-.3 .1-1.6 .1 1.3 .1-.1 .1-.3 .1 .1 .1-.2 .1 .1 .1 .4 .1 .8 .1-1.4 .1 2.1 .1-2.2 .1 1.9 .1-1.7 .1 .4 .1-.3 .1 1.7 .1-1.6 .1 .5 .1-1.2 .1 .7 .1-.5 .1 .7 .1-1.4 .1 .1 .1 2.4 .1-1.2 .1-.6 .1 1.5 .1-1.3 .1 1 .1-.6 .1-.7 .1 .8 .1-.7 .1-.3 .1-1 .1 3.6 .1-2.9 .1 .5 .1-.8 .1 .2 .1 2 .1 .5 .1-2 .1 .8 .1 .4 .1-.2 .1 .2 .1 .5 .1-2.1 .1 1.6 .1 .5 .1-.2 .1-.6 .1 .3 .1 0 .1 .6 .1-1.2 .1 .1 .1-1.3 .1 1.4 .1-.3 .1 1.2 .1-1.5 .1 .9 .1-.2 .1-.4 .1 1 .1-.7 .1 .4 .1-.6 .1-.1 .1-1.1 .1 1.6 .1-.4 .1-1.3 .1 1.1 .1-.1 .1 1 .1-.9 .1 .5 .1-.5 .1-.6 .1 .9 .1-.3 .1-.7 .1 .2 .1-.2 .1 .6 .1 .7 .1 1.6 .1-1.8 .1 0 .1 .2 .1-1.3 .1 0 .1 1.6 .1-.3 .1 .3 .1-.6 .1-1.3 .1 1.2 .1-1.6 .1 2 .1-.2 .1-.9 .1 0 .1 0 .1 0 .1 .9 .1 .1 .1-.9 .1 .6 .1 1 .1-1.4 .1 .5 .1-.9 .1-.8 .1 1.2 .1-.2 .1 1.4 .1-1.5 .1 .5 .1 0 .1-.1 .1 1.7 .1-1.5 .1-.9 .1 0 .1 .3 .1-.2 .1 .8 .1-.6 .1 0 .1-.4 .1 1.4 .1-.6 .1-.4 .1 1.1 .1-.1 .1 .4 .1-1.6 .1 1.8 .1-.6 .1-.4 .1 .5 .1-.1 .1-1.3 .1-.3 .1-.3 .1 .6 .1 0 .1 1.2 .1-.8 .1-.3 .1 1.1 .1-.2 .1 0 .1 .8 .1-1.4 .1 .1 .1 1.7 .1-.5 .1-2.4 .1 1.3 .1 .3 .1 1.4 .1-1.6 .1 .4 .1-2.2 .1 1.8 .1-.7 .1 2.2 .1-2.6 .1 1.1 .1-1.7 .1 2.2 .1-1.3 .1 1.2 .1 .2 .1-1.4 .1 1.8 .1 .1 .1-.7 .1-1.4 .1 1 .1-.5 .1 .2 .1 .2 .1-.2 .1 .4 .1-.6 .1 1.5 .1-3.1 .1 1.5 .1 .6 .1-1.1 .1 .6 .1 .2 .1-1 .1 .7 .1 .4 .1-1.4 .1 1.4 .1 1.1 .1-1.1 .1 1.2 .1-.3 .1-1 .1 .5 .1 .4 .1-1.3 .1 2.1 .1-1.1 .1-.3 .1-.2 .1-.2 .1-.2 .1 .3 .1 .4 .1-.8 .1-.4 .1 2.1 .1 0 .1-1.3 .1-.1 .1-.7 .1 .8 .1-1.7 .1 2.4 .1 0 .1-1.7 .1 1.1 .1-1.4 .1 1.1 .1-.3 .1 .6 .1 1 .1-.3 .1-.7 .1 .3 .1-1.8 .1 1 .1 .2 .1 0 .1 .3 .1 .3 .1-.5 .1 .4 .1-.8 .1-1 .1 1 .1 .8 .1 .2 .1-2.1 .1 .4 .1 .6 .1 .3 .1 1.8 .1-2 .1 1.6 .1-.2 .1-1.8 .1 1.5 .1-.2 .1-1.2 .1 .4 .1-.2 .1 .2 .1-.3 .1-.4 .1 .7 .1-.3 .1 .7 .1-.7 .1 1.1 .1-1.1 .1 .6 .1-.4 .1 1.6 .1-1.4 .1 .3 .1-.8 .1 1.7 .1-3 .1 .2 .1 .7 .1-.4 .1 .6 .1 .2 .1 .5 .1-1.2 .1 1.7 .1 0 .1 0 .1 .3 .1-1.4 .1-2.5 .1 3.5 .1 .7 .1-1.4 .1 .8 .1-.6 .1 1.1 .1-1.2 .1 .4 .1 1.6 .1-3.7 .1 1.5 .1 1.5 .1-2.6 .1 1.4 .1 .6 .1-2.1 .1 1.2 .1 .9 .1-.2 .1 .7 .1-2.6 .1 1.9 .1-.9 .1-.2 .1 1.7 .1-2.6 .1 1.7 .1 .6 .1-2.1 .1 1.8 .1-1 .1-1.2 .1 2.4 .1-2.4 .1 2.7 .1-1.8 .1 .4 .1 .5 .1 .3 .1 .2 .1-1.5 .1-.6 .1 1 .1-.3 .1 2.3 .1-1.6 .1 0 .1 .3 .1-1.8 .1 .8 .1-.8 .1 2.9 .1-2.3 .1 .8 .1 .3 .1-.3 .1 0 .1 .3 .1 0 .1-1.1 .1 .9 .1 .8 .1-1.7 .1 2.2 .1-2.8 .1 .7 .1 .9 .1-.7 .1 1.2 .1-.4 .1-1 .1 .4 .1-.5 .1-1 .1 2.7 .1-1.6 .1 .3 .1-2.8 .1 1.5 .1 .4 .1 0 .1 .5 .1-.6 .1-.9 .1 1.6 .1 .2 .1-.9 .1 0 .1 .4 .1 .6 .1-1.7 .1 2.1 .1-2 .1 .6 .1 .3 .1 .4 .1-1.5 .1 .9 .1-.9 .1 2 .1-1.4 .1 1.3 .1-.4 .1-.6 .1-.6 .1 .5 .1-.7 .1 .6 .1 .6 .1-1.9 .1 1.9 .1-.9 .1 0 .1 .4 .1-.8 .1 0 .1 .3 .1-2 .1 1 .1 .5 .1 1 .1-1.6 .1 1.3 .1-.5 .1 .2 .1-.4 .1 .2 .1 0 .1-1.1 .1 3.7 .1-3.2 .1 .4 .1-.1 .1 0 .1-1.6 .1-.8 .1 1.1 .1 .7 .1 1.3 .1 .7 .1-.8 .1 .9 .1-1 .1-1.6 .1-.1 .1 1 .1-.8 .1 .2 .1-1 .1 1.7 .1 .8 .1-3.7 .1 2.8 .1-.8 .1-.9 .1 1.3 .1-1 .1 .7 .1 .1 .1 .6 .1 .2 .1 .3 .1-1.4 .1-.3 .1-1 .1 .9 .1-.1 .1 1.5 .1-.9 .1 1.2 .1-1.1 .1-.8 .1 1.5 .1-1.1 .1-.5 .1 .7 .1-.5 .1 .4 .1 .7 .1 .2 .1-1.2 .1-1 .1-.4 .1 2.4 .1-1.5 .1-.1 .1-.5 .1 .3 .1-.1 .1 1.9 .1 .1 .1-.7 .1-1.4 .1 .1 .1 .1 .1-.6 .1 1.4 .1-1.5 .1 .7 .1 .2 .1-.1 .1-1.8 .1 2.3 .1-2.7 .1 1.9 .1 .2 .1 0 .1 .3 .1 .8 .1-3.2 .1 .7 .1-1.4 .1 1.4 .1 1.5 .1-1.2 .1 .8 .1-.1 .1 1.9 .1-2.7 .1-.4 .1 0 .1 1.3 .1-2.2 .1 .7 .1 1.1 .1-1.4 .1-.4 .1 .5 .1-.6 .1 .6 .1-1.2 .1 2.1 .1-3.3 .1-.9 .1 1 .1 1.8 .1-1.4 .1 2 .1-3.1 .1 1.5 .1-.7 .1 1.4 .1-1.6 .1-.4 .1-.5 .1 1.3 .1-1.7 .1 1.6 .1-1.4 .1-1.1 .1 1.1 .1-.9 .1-.3 .1 1.5 .1-1.1 .1-1.4 .1 2.5 .1-2.5 .1-1.2 .1 1.8 .1-.7 .1-1.7 .1 0 .1-.3 .1 2.7 .1-.7 .1-2.2 .1 .6 .1 .6 .1-.2 .1 .4 .1 1.3 .1-4.3 .1 .6 .1-.9 .1 2.3 .1-1.7 .1 .9 .1-1.7 .1 .1 .1 1.5 .1-2 .1 0 .1-2 .1 3.6 .1-3.2 .1 1.1 .1-.9 .1-.1 .1-1.3 .1 .3 .1-1.6 .1 2.8 .1 1 .1-4 .1 1.3 .1 1.1 .1 0 .1-1.3 .1-1.2 .1-1 .1 .1 .1 4.8 .1-3.7 .1-2.1 .1 1.8 .1 1.6 .1-.5 .1-2.6 .1 2 .1-2 .1 0 .1 2.4 .1 .4 .1-4.6 .1 3.8 .1-.7 .1 .2 .1-.9 .1 .6 .1-.9 .1 .6 .1-1 .1 1.5 .1-3.3 .1 2.9 .1-2.2 .1-1.7 .1 1.1 .1 .5 .1 2.1 .1 .6 .1-1.9 .1-1.7 .1 2.3 .1 2.5 .1-7.3 .1 5.3 .1-1.4 .1-2.4 .1 1.4 .1-1 .1 .9 .1-.3 .1 .6 .1-1.6 .1-.8 .1 1.8 .1-.2 .1 .6 .1 1.8 .1-3.5 .1 2 .1-2 .1-1 .1 3.1 .1-4.4 .1 3.7 .1-2.3 .1 .9 .1-.1 .1 .1 .1-2.8 .1 .5 .1-.1 .1-1.1 .1 2.8 .1-.6 .1 0 .1 .5 .1-.4 .1 2.2 .1-1.4 .1-2.9 .1 2.6 .1-2.5 .1 3 .1-3.2 .1 .5 .1 .6 .1 1.1 .1-1.4 .1 1.2 .1 3.1 .1-4.9 .1 2.4 .1-4 .1 1.9 .1-.7 .1-.9 .1 3.4 .1-2.2 .1-.2 .1-2 .1 .2 .1-.1 .1 1.2 .1 1.1 .1-1.1 .1 0 .1 .9 .1-1.9 .1 1 .1-.6 .1 .2 .1 1.1 .1 0 .1-1.7 .1 1.9 .1 .6 .1-4 .1 2 .1-.1 .1-2.6 .1 2.2 .1-.1 .1-4 .1 4.2 .1-3.7 .1 .7 .1-1.7 .1 2.2 .1-.4 .1 1.8 .1-2.1 .1-1.6 .1 4 .1-2.6 .1-.4 .1 1.6 .1-3.1 .1-1.4 .1 2.9 .1-1 .1-1.7 .1 1.1 .1 1.5 .1 .7 .1-5.6 .1 3.3 .1-.1 .1-2.5 .1 .7 .1 1.5 .1-.7 .1 2 .1-2.7 .1 1.7 .1-4.5 .1 2.4 .1-1.2 .1-2.1 .1 3.6 .1 1 .1-2.2 .1-3.5 .1 2.7 .1-.8 .1-2 .1 3.4 .1 .5 .1-2.1 .1 1 .1 0 .1-.7 .1 .9 .1-.9 .1-.8 .1 1.4 .1-4.3 .1 4.4 .1-4.5 .1 .8 .1-.7 .1 1.2 .1 .7 .1-1 .1-1.8 .1-1.7 .1 5.3 .1-6.2 .1 1.8 .1 1.1 .1-2.4 .1 2.9 .1-4.8 .1 2.9 .1-4.8 .1 6.7 .1 .9 .1-6.3 .1 .9 .1 1.4 .1-1.5 .1 2.4 .1-1.5 .1-3.6 .1 .3 .1-.1 .1 .2 .1 .6 .1-.5 .1 1.4 .1 0 .1-.3 .1-4.9 .1 2.7 .1 .2 .1-1.5 .1 3.8 .1-.6 .1-2.2 .1-2.2 .1-.1 .1 1.5 .1-1.9 .1 .7 .1 .1 .1 .1 .1 2.9 .1-6.6 .1-.5 .1 2.2 .1-1 .1-1.5 .1 2.3 .1-1.1 .1 .4 .1-1.8 .1-.2 .1-2.8 .1 2.1 .1-.2 .1 1 .1-1.9 .1 2.8 .1-2 .1-.8 .1 3.3 .1-1.4 .1-1.7 .1-2.6 .1 2.2 .1 3 .1-3.6 .1-2.4 .1-1.5 .1-.7 .1-.7 .1 1.4 .1-3.7 .1 .9 .1 2.4 .1 .7 .1-3.8 .1 3.5 .1-.4 .1-1.6 .1-2.4 .1-.3 .1 2.1 .1-3.8 .1 .1 .1 1.5 .1 1 .1-1.4 .1 2.1 .1-2.9 .1 0 .1-2.6 .1 4 .1-6.1 .1 2.4 .1-.8 .1 2.8 .1-6.9 .1 4.6 .1-1.5 .1 1.1 .1-1.8 .1-4.6 .1 3 .1 .3 .1 .2 .1 2.9 .1-3.1 .1-.2 .1-1 .1 .4 .1-1.5 .1 5.3 .1-1.2 .1-3 .1-3.7 .1 5 .1-2.6 .1 .3 .1 1.2 .1-1.9 .1 1.5 .1-2.2 .1 1.9 .1 1.4 .1-1.5 .1-1.9 .1 0 .1-2.2 .1 2.3 .1-1.3 .1 2 .1-2.6 .1 3.8 .1 1 .1 2.2 .1-3.6 .1 1.2 .1-1 .1-2.2 .1 .3 .1 1.9 .1-2.4 .1 .2 .1-.7 .1-.1 .1 3.6 .1-4.2 .1-1.1 .1 .8 .1 6.2 .1-4.9 .1 6 .1-5.6 .1-.1 .1 6.6 .1-3.7 .1-1.2 .1 1.2 .1-3.8 .1 1.3 .1 1.6 .1-3.6 .1 7.2 .1-5.1 .1 2.1 .1-.9 .1 6.4 .1-4.1 .1 .1 .1-3.2 .1-2.1 .1 7.2 .1-5.2 .1 1.9 .1-.7 .1 3.7 .1-4.7 .1 .4 .1 1.8 .1-2 .1 4 .1-2.4 .1-2.9 .1 2.1 .1 4.4 .1-2 .1 .2 .1-3.4 .1 4.2 .1 .3 .1-2.4 .1 5.4 .1-3.6 .1 3.3 .1 1.1 .1-.2 .1-1.2 .1 2.2 .1-2.9 .1-.5 .1 .6 .1 3 .1-.6 .1-1.2 .1-2.1 .1 4.1 .1-1.4 .1 4.2 .1-3.1 .1 2.7 .1 1.4 .1-6.3 .1 3.6 .1 3.5 .1-2.3 .1 .8 .1-1.3 .1 2.3 .1-.8 .1 .8 .1 2.7 .1-5.7 .1 5.5 .1 5.7 .1-7.5 .1-.4 .1-1 .1 1.4 .1 3.6 .1-2.3 .1 1.3 .1-4 .1 4.4 .1-.3 .1 .9 .1 .4 .1 .3 .1-2 .1 2.1 .1-1.5 .1 1.9 .1 2.4 .1-3 .1-.5 .1 4.8 .1 .7 .1-3.4 .1 2.2 .1 1.5 .1-2.1 .1 2.9 .1-2.9 .1 1 .1-2 .1 .4 .1 1.6 .1-1.4 .1 1 .1-.1 .1 4 .1-3.9 .1 3.3 .1-2 .1 1 .1-.3 .1-.8 .1 5.7 .1-2.5 .1-2 .1-.8 .1 .9 .1 2.1 .1-.5 .1 .9 .1-2 .1 1.4 .1 .8 .1-1 .1 1.6 .1-.5 .1 2.1 .1-.9 .1 2.4 .1 1.2 .1-3.2 .1-1.3 .1 1.5 .1 2.5 .1-.7 .1-1.8 .1 .2 .1 .6 .1-1 .1-.1 .1 0 .1 1.6 .1-1.2 .1 2.7 .1 1.1 .1-.2 .1-2.3 .1 4.4 .1-3.6 .1 2.6 .1-3.5 .1 1.8 .1 3.4 .1-2.9 .1 0 .1 1.3 .1-3.6 .1 4.9 .1-2.9 .1 .6 .1 3.5 .1-1.7 .1-2.1 .1 .4 .1 .5 .1 .1 .1 1.3 .1 1.4 .1-3.2 .1 1.6 .1 1 .1 .8 .1-2.9 .1-1.2 .1 3.5 .1 2.1 .1-1.6 .1-1.3 .1-1.3 .1 4.4 .1-4.5 .1 2.9 .1 1.7 .1-1.8 .1 0 .1 1.6 .1-4.1 .1 1.5 .1-.1 .1 3 .1-.3 .1-1.9 .1 3.8 .1-1.6 .1-1.7 .1-.1 .1 1.9 .1-.2 .1-1.2 .1 .2 .1 .7 .1-.6 .1 1.7 .1-1.1 .1-1.7 .1-1.7 .1 .7 .1 .5 .1 .7 .1 2.1 .1-2.7 .1 .9 .1-.2 .1 2.1 .1-2 .1-.6 .1 .3 .1 0 .1 1.4 .1-.1 .1-.2 .1 .3 .1-.2 .1-1.1 .1 1.3 .1-.2 .1-1.7 .1-1.2 .1 1.2 .1 .2 .1-1.3 .1-1.3 .1 3.1 .1 1.3 .1-1.1 .1 .2 .1-2 .1 1.8 .1 1.1 .1-1.2 .1-1.2 .1 2.5 .1-2.3 .1 .7 .1-1.5 .1 2 .1 .4 .1-.6 .1-1.4 .1 .6 .1 1.1 .1-.6 .1-.2 .1 3.4 .1 1 .1-3.8 .1 1.2 .1-1.7 .1 1.6 .1 1.1 .1-2 .1-1.1 .1 .9 .1 .2 .1-1.1 .1 .8 .1-1.7 .1 2.5 .1 0 .1-1.7 .1 .9 .1 1.8 .1-3.2 .1 2.1 .1-1.4 .1 .8 .1-1.7 .1 4.3 .1-4.5 .1 2.7 .1-3 .1-.7 .1 1.9 .1-.5 .1-.7 .1-.3 .1 .3 .1 2.5 .1-1.5 .1 .2 .1 .3 .1-.1 .1 .9 .1-1 .1-3.5 .1 1.9 .1 1.7 .1 .9 .1-2.1 .1 .1 .1-.8 .1 1.5 .1 .7 .1-1.9 .1 .3 .1-1.9 .1-.3 .1 2.1 .1 1.1 .1-2.6 .1 .2 .1 .4 .1-.8 .1 0 .1 2 .1 .5 .1-1.2 .1-1.6 .1 2 .1-.6 .1-3 .1 2.4 .1 .5 .1-1.1 .1 3 .1-2 .1-.2 .1-1.1 .1 .9 .1-3.2 .1-.8 .1 3.4 .1-4.5 .1 4.6 .1-2.9 .1 2.3 .1-4.1 .1 1.5 .1 2.9 .1 .3 .1-.5 .1-1.4 .1-3.7 .1 3.4 .1-1.5 .1-.2 .1-.5 .1 3.5 .1-.5 .1-3.2 .1 .5 .1-.8 .1-1.8 .1 1.4 .1 1.7 .1-3.5 .1 .4 .1 3.8 .1-2.7 .1-3.6 .1 3.7 .1 1.3 .1-3.4 .1-1.2 .1 1.6 .1 .9 .1-2.5 .1-.3 .1-4.5 .1 .9 .1 .9 .1 2.2 .1 1.3 .1-.9 .1 .2 .1-3.6 .1 .3 .1-1.5 .1 .1 .1 2.8 .1-2 .1-1.2 .1-1.1 .1 1.6 .1 .3 .1-.3 .1-3.4 .1 3.5 .1-2.5 .1-3 .1 .5 .1 2 .1-.3 .1-4.1 .1-1.7 .1 .2 .1 1.3 .1-2.5 .1 1.2 .1 1.9 .1-1.9 .1-1.3 .1-2.7 .1 3.4 .1-5.8 .1 2 .1 .4 .1 .8 .1-6.8 .1-.1 .1 1.3 .1 4.8 .1-5.3 .1 .4 .1 1.3 .1-6.7 .1 1.2 .1 .4 .1 .3 .1-1.7 .1-2.5 .1 .3 .1 .2 .1-2.5 .1 .5 .1-1.8 .1-.8 .1-3.2 .1 3.3 .1-2.9 .1 1.1 .1-2.1 .1-1.6 .1 .3 .1 .1 .1 .8 .1-.6 .1-1.3 .1 .8 .1-.1 .1-.3 .1 2 .1-2.6 .1 .6 .1-.4 .1-.2 .1-.7 .1-.5 .1-.9 .1 3.8 .1-.9 .1 .6 .1 2.6 .1 .7 .1 .5 .1 1.9 .1-1.2 .1-1.4 .1 3.9 .1 .7 .1 2 .1-1.9 .1 2.7 .1-2.8 .1 4.6 .1 1.2 .1 2.7 .1 .9 .1-1.1 .1 2.7 .1-.3 .1 .5 .1 3.5 .1-1.2 .1 1.7 .1-.9 .1 .6 .1 2.9 .1-1.6 .1 6.3 .1 .4 .1-4.1 .1 5.9 .1-3.3 .1 3.4 .1 2.8 .1-.5 .1 3.7 .1-.8 .1-1.6 .1 6.1 .1-.8 .1 4.1 .1-2 .1-.1 .1 2.4 .1 2.3 .1-3.4 .1 7.5 .1-2.6 .1 2.2 .1 .7 .1 3.1 .1-1.4 .1-2.7 .1 5.6 .1 .1 .1 .7 .1-1.3 .1 4.1 .1-1.9 .1 4 .1 1.4 .1-.9 .1 .8 .1 .4 .1 3.7 .1-3 .1 3.3 .1-3 .1 1.3 .1-.8 .1 3.3 .1-1.7 .1 3.6 .1 .4 .1-1.5 .1 1.1 .1-.1 .1 1.2 .1 2 .1-.9 .1-.1 .1 1.5 .1-1.5 .1 2.1 .1 .5 .1-1.2 .1 2.5 .1 0 .1 1.8 .1-1.6 .1 0 .1 2.7 .1 .2 .1-.4 .1-.9 .1 .6 .1 1.9 .1-1.1 .1 2.5 .1-1 .1-1 .1 3.3 .1 .6 .1-1.1 .1-.5 .1 .3 .1 .1 .1 .8 .1 .8 .1 0 .1-.6 .1 2.3 .1-1.5 .1 2.8 .1-3.3 .1 2.5 .1-.9 .1 1.3 .1-1.5 .1-.4 .1-.6 .1 1.5 .1 .9 .1-.9 .1 1.6 .1 .8 .1-.1 .1-.8 .1-1.2 .1 2.3 .1-1.1 .1-.2 .1 .7 .1 .8 .1 .2 .1-.4 .1-.8 .1 .1 .1 1.8 .1-.2 .1-.6 .1-.6 .1-.4 .1 2 .1 1 .1-.8 .1-1.1 .1 2.7 .1-3.4 .1 1.4 .1 .1 .1 1 .1-.8 .1-1.3 .1 3.2 .1-1.8 .1 1.3 .1-.9 .1 2.2 .1-2.9 .1 3.6 .1-2.9 .1 3.3 .1-1 .1 1.2 .1-.3 .1-1.9 .1-.6 .1 2.4 .1-.9 .1-1.6 .1-.4 .1 1.3 .1 1 .1-1.7 .1 .6 .1 1.4 .1-1.5 .1 .7 .1 1.6 .1-2.6 .1 2.5 .1-.8 .1 .7 .1-3.8 .1 4.4 .1-2.1 .1-.2 .1 1.2 .1 1 .1-1.1 .1-1.6 .1 2.9 .1-1.2 .1 .9 .1 0 .1-1.2 .1-.8 .1 1.4 .1 .3 .1 0 .1-.8 .1 1.6 .1-.8 .1-.2 .1 1.3 .1-.8 .1 .2 .1-1.1 .1 0 .1-1 .1 2.9 .1-3 .1 2.6 .1-2.3 .1 2 .1 0 .1 0 .1-1.1 .1 .3 .1 1.1 .1-1.3 .1 1.2 .1-1.6 .1 .1 .1 2.3 .1 .5 .1-.5 .1-1.7 .1-.1 .1 1.3 .1-.3 .1-.4 .1-.1 .1 1.3 .1-.8 .1-.4 .1-.2 .1 0 .1-.8 .1 2.2 .1-1.1 .1-1.5 .1 .8 .1 .3 .1 .5 .1 1.4 .1-2.4 .1 .2 .1 0 .1 .9 .1-.2 .1-2.6 .1 2.7 .1-.4 .1 .2 .1-.3 .1 1.2 .1-1.6 .1 1.4 .1-.4 .1 1.3 .1-3.3 .1 2 .1 1 .1-.4 .1-.5 .1-.1 .1-.4 .1 .7 .1-1.3 .1 1.1 .1-.1 .1 .9 .1-.7 .1-1.4 .1 2.2 .1-.9 .1 1 .1 .1 .1 .3 .1-.1 .1-2 .1 .5 .1 .9 .1-.4 .1 .6 .1-1.6 .1 1.3 .1-.8 .1 1.6 .1-1.1 .1 .6 .1-1.3 .1 2.1 .1-1.1 .1-.9 .1 1.5 .1 .7 .1-1.4 .1 1.8 .1-2.3 .1 .7 .1-.4 .1 .7 .1 .3 .1-1.5 .1 1.1 .1-1 .1 1.2 .1-1.1 .1-.2 .1 1.1 .1-.5 .1-.6 .1 0 .1-.2 .1 0 .1 1.9 .1-1.2 .1 .6 .1-2 .1 1.9 .1 .1 .1 .1 .1-.3 .1 .6 .1-2.1 .1 1.2 .1 1.7 .1-1.3 .1 .2 .1 3.1 .1-1.6 .1-.9 .1-.6 .1-.4 .1 .6 .1-.7 .1 .9 .1-.7 .1 .5 .1-.6 .1 .5 .1 0 .1-.9 .1 1 .1-.6 .1 .3 .1 .2 .1-.9 .1 1.4 .1 0 .1-.9 .1-.2 .1 1.4 .1 .7 .1-2 .1 .9 .1 1.1 .1-.3 .1 1.2 .1-2.4 .1-.1 .1-.4 .1 1 .1 1 .1-1.9 .1 1 .1-.4 .1-.4 .1 .2 .1 .1 .1-1 .1 1 .1 .2 .1-.2 .1 .1 .1 1.2 .1-1.5 .1 .9 .1 .7 .1-1.8 .1 2.4 .1-2.8 .1 1.1 .1 .8 .1-.6 .1 0 .1 1.3 .1-.2 .1-1.6 .1 .3 .1 2 .1-1.1 .1-.1 .1 .6 .1-1.2 .1 0 .1 .3 .1 .7 .1-.1 .1-1.1 .1 1.6 .1-1.2 .1 2.5 .1-2.6 .1 1 .1-2.2 .1 1.2 .1-.8 .1 .3 .1 1.4 .1-1.8 .1 2.1 .1-.2 .1-1.2 .1 1 .1-.8 .1 1 .1-.4 .1 .5 .1-2.4 .1 .2 .1 2.1 .1-.6 .1-.7 .1 2.1 .1-2.8 .1 3.2 .1-.8 .1-1.2 .1 1.7 .1-1 .1-.6 .1 .5 .1-1.6 .1 1.8 .1-.9 .1 .9 .1-.6 .1-.1 .1 .6 .1 .6 .1-.8 .1 .5 .1-2.4 .1 .6 .1 2.6 .1-1.9 .1-.7 .1 .7 .1-.1 .1 1.9 .1-.1 .1-1.2 .1-.3 .1 .1 .1 1.4 .1-1.9 .1-.3 .1 .1 .1 .8 .1 1.2 .1-2.1 .1 2 .1-1.2 .1 .2 .1 .3 .1-.1 .1-1.7 .1 3.6 .1-2.1 .1-.3 .1-.1 .1 .8 .1 0 .1-.5 .1-.3 .1 2 .1-1.8 .1 .9 .1-.6 .1-.4 .1 .1 .1 1.6 .1-2.3 .1 1.1 .1-.8 .1 1.8 .1-.2 .1-.6 .1 .3 .1-1.6 .1 2 .1 0 .1-.2 .1-1.6 .1 2.1 .1-1.2 .1-1.6 .1 2.4 .1-.2 .1-1.7 .1 2.9 .1-1.1 .1 .1 .1-.5 .1 .6 .1-2.4 .1 1.4 .1 .1 .1 .4 .1 1 .1-1.7 .1 .7 .1-1.1 .1 .4 .1 1.1 .1-.6 .1-1 .1 .2 .1 .5 .1-.6 .1 .5 .1-.6 .1 0 .1 .6 .1 .2 .1 1.2 .1-1.7 .1 1.5 .1-2.6 .1 1.8 .1-1.5 .1 1 .1 .8 .1-.4 .1-.3 .1 1 .1-2 .1 1.2 .1 .9 .1-1.4 .1 .4 .1 1.1 .1-1.5 .1 1.6 .1-1 .1-.3 .1-.3 .1 1.1 .1 .7 .1-2.9 .1 3.7 .1-2.3 .1 .2 .1-.5 .1-.3 .1 1.4 .1-1.8 .1 1.5 .1-.8 .1 .5 .1-.4 .1 1 .1 .5 .1-.8 .1-1 .1 .7 .1-.9 .1-.8 .1 1.9 .1 .2 .1-1 .1 .7 .1 0 .1-.6 .1-.1 .1 .7 .1 .4 .1 .4 .1-.5 .1 .3 .1-1.7 .1 .1 .1 1.5 .1-1.4 .1 .4 .1 .7 .1 .4 .1 .1 .1-1 .1 .7 .1 1.1 .1-1.2 .1 .5 .1-1.6 .1 0 .1 1.9 .1-.7 .1 .3 .1-2 .1-.7 .1 2 .1-.3 .1 .1 .1-.2 .1 1.2 .1-.4 .1 1 .1-2.1 .1 .5 .1 .1 .1-.2 .1 2.5 .1-1.4 .1-.4 .1-.8 .1-.3 .1-.9 .1 .4 .1 2.3 .1-1.4 .1 .6 .1 .4 .1-2.4 .1 2 .1 .6 .1-1.9 .1 .5 .1-.7 .1-.3 .1 1.5 .1-.3 .1 1.1 .1 0 .1-.9 .1 1 .1-.4 .1 .8 .1-.2 .1-1.6 .1 2 .1-.8 .1-1.3 .1-.7 .1 1.6 .1-.1 .1-1.1 .1 1.1 .1 1.6 .1-1.1 .1-2.1 .1 1.2 .1 0 .1-.1 .1 .1 .1-.1 .1 .9 .1-1.1 .1 .4 .1-.5 .1-.3 .1-.1 .1 .7 .1 .3 .1-.1 .1 1.7 .1-1.1 .1-1.1 .1 2.3 .1-.7 .1-1.9 .1 2 .1-2 .1 .9 .1 .2 .1 .3 .1-.9 .1 .8 .1-.2 .1-.4 .1 .4 .1 0 .1-.1 .1-.7 .1-.3 .1 .8 .1 .8 .1-.1 .1 1 .1 .2 .1-2.7 .1 0 .1 .1 .1 1.2 .1-1.1 .1 1.3 .1-1.6 .1 .7 .1-.2 .1-.1 .1 1.3 .1-.4 .1-1.2 .1 .1 .1 1.6 .1-.8 .1 0 .1-.2 .1-.4 .1 2.8 .1-1.8 .1-.9 .1 1.1 .1-.4 .1-.2 .1-.1 .1-.3 .1 .1 .1-1 .1 2.6 .1 .4 .1-.8 .1-1.7 .1 .3 .1 1.6 .1-.5 .1-.3 .1-1.1 .1 0 .1 1.7 .1-.8 .1-.8 .1-.9 .1 2.8 .1-1.5 .1-.7 .1 1 .1-1 .1 1.4 .1-1.3 .1 .7 .1-1.4 .1 1.2 .1-.5 .1 .6 .1 1 .1-.1 .1-.3 .1 .6 .1-1.4 .1-.2 .1 1.6 .1-.9 .1-1.3 .1-.1 .1 1.2 .1 1.6 .1-1.4 .1-.7 .1 1.2 .1 0 .1 .9 .1-2.7 .1 2.8 .1-1.5 .1 .4 .1 1.3 .1-1.1 .1-.5 .1 .2 .1-.6 .1-.5 .1-.3 .1 0 .1 .5 .1-.8 .1 .8 .1 2.1 .1-1.2 .1-2.1 .1 1.5 .1 .4 .1 .2 .1 .2 .1-1.6 .1 1.3 .1 .2 .1-.3 .1-.1 .1-.3 .1-.1 .1 .6 .1-.3 .1-.5 .1-.1 .1-.8 .1 2.1 .1 .3 .1-1.3 .1 1.6 .1-.4 .1-.8 .1-.8 .1 .5 .1-1.1 .1 1.5 .1 .1 .1-.3 .1 1.1 .1-1.8 .1-.6 .1 1.5 .1-1.4 .1 2.4 .1-1.3 .1 .6 .1-.3 .1-.1 .1-.7 .1-.4 .1 1 .1-.1 .1 .8 .1-.6 .1 2.7 .1-2 .1-2 .1 1.6 .1-.3 .1 2 .1-2.1 .1-.1 .1-.7 .1 1.1 .1 .1 .1 .2 .1-.8 .1-.3 .1 1.6 .1-1.2 .1-.5 .1 1.2 .1 .7 .1-1.7 .1 .7 .1 .1 .1-2 .1 2.2 .1-1.5 .1 .2 .1 1.2 .1-.4 .1 1.3 .1-1.9 .1 1.3 .1-2 .1 .6 .1 .1 .1 1.7 .1-.7 .1-.3 .1-.4 .1 0 .1 .5 .1-.4 .1 1.3 .1-.5 .1 .1 .1-.1 .1-1.2 .1 .2 .1 0 .1 1.1 .1 .9 .1-3 .1 1.7 .1 .1 .1-.6 .1-.1 .1-.4 .1 .8 .1 .8 .1-.3 .1-2.8 .1 .3 .1 1.7 .1 1.3 .1-.9 .1 .4 .1-.3 .1-.3 .1-1.2 .1 .8 .1-.1 .1 1.4 .1-.6 .1-.2 .1 .1 .1 .1 .1-.4 .1-.4 .1-1.2 .1 .5 .1 .7 .1-.7 .1 .9 .1 .8 .1-.3 .1-.1 .1 .3 .1-.5 .1 .6 .1-1.4 .1 1.3 .1-.7 .1-.8 .1 2 .1-.6 .1-1.7 .1 .6 .1 1.8 .1-.6 .1-2.1 .1 1.5 .1 1 .1-1 .1-.1 .1 .2 .1 .7 .1-.6 .1 .4 .1 .4 .1-.8 .1-1.2 .1 1.7 .1 .7 .1-1.4 .1 .3 .1 .1 .1-1 .1 1.1 .1-.7 .1 .3 .1-.2 .1-1.5 .1 1.1 .1 .3 .1 .9 .1-1.2 .1-.5 .1 1.2 .1-.9 .1 .5 .1 .8 .1 .3 .1-.8 .1-.5 .1 .3 .1-1.1 .1 2.2 .1-.1 .1-.7 .1 .5 .1-1.6 .1 .5 .1 1.6 .1-.4 .1-1.5 .1 1.4 .1-1.5 .1 .5 .1 .3 .1 .6 .1 0 .1 .4 .1-1.2 .1 1.7 .1 .3 .1-1.7 .1-1.1 .1 .4 .1 1.1 .1-.6 .1 .9 .1-1.2 .1 .5 .1-.6 .1 .2 .1-.8 .1 2.5 .1-.6 .1-.4 .1-1.4 .1 .1 .1 .9 .1 .3 .1 .3 .1-1.1 .1 .6 .1-.4 .1 .9 .1 .6 .1-.2 .1 .1 .1-1.2 .1 1.1 .1-1.3 .1 .1 .1 0 .1 .6 .1 .1 .1 0 .1 .3 .1-1.9 .1 .7 .1 .7 .1 .1 .1-1.3 .1-1 .1 2.7 .1-.9 .1 .2 .1 .2 .1-.7 .1-.4 .1 .7 .1-.2 .1 1.4 .1-1.9 .1 1.8 .1-1.9 .1 .3 .1-.2 .1 1.3 .1 .5 .1-.3 .1-1 .1 0 .1 .8 .1-.5 .1-1 .1 .8 .1 .1 .1 0 .1-.4 .1 .7 .1 .8 .1-.1 .1-2 .1-.2 .1 .9 .1 2.4 .1-1.9 .1 1.1 .1-.6 .1-1 .1-.3 .1 .4 .1 .6 .1-.5 .1 .3 .1 .9 .1-.3 .1-.5 .1 0 .1 .2 .1-1 .1 .6 .1 2 .1-1 .1-.1 .1-1.4 .1 .6 .1-.5 .1 2.1 .1-.3 .1-.4 .1-1 .1 .5 .1-.8 .1 .2 .1 0 .1 .2 .1 .2 .1-.9 .1-.1 .1 1.9 .1-1.5 .1 .6 .1 0 .1 .2 .1 .3 .1 1.7 .1-3.8 .1 .8 .1 2 .1-2.6 .1-.3 .1 2.5 .1-.4 .1 0 .1-1.3 .1-.7 .1 .6 .1 3.3 .1-1.6 .1-1.3 .1 2.5 .1-2.1 .1-.5 .1 .3 .1-.9 .1 1.9 .1-.6 .1 .6 .1-1.1 .1 1.4 .1-2.3 .1 2.1 .1-.1 .1-1.2 .1 0 .1 .9 .1-1.4 .1 .7 .1-.2 .1 1.6 .1-1.7 .1 .4 .1 0 .1 .2 .1 .6 .1-.7 .1-.1 .1-.1 .1 1.2 .1-1.3 .1 1.6 .1-2.2 .1 1 .1 .3 .1-.4 .1 1.1 .1-.8 .1-1.2 .1 1.6 .1-.6 .1-.8 .1 .6 .1 .9 .1 .3 .1 0 .1-.6 .1-.4 .1 .7 .1-.2 .1-.9 .1-.2 .1 .8 .1-.3 .1-.2 .1-.6 .1 1.2 .1-.7 .1 .8 .1-.7 .1 .1 .1 .8 .1 .6 .1-1.4 .1 .2 .1-1 .1 1.3 .1-.4 .1 1 .1-1.7 .1 1.2 .1 1 .1-.9 .1 0 .1-.7 .1 .8 .1-1.7 .1 2.2 .1 .6 .1-1.7 .1 .2 .1 0 .1-.9 .1-.4 .1-.3 .1 2 .1-.4 .1 1.2 .1-2.9 .1 1.2 .1 .5 .1-.7 .1 .8 .1-.6 .1 .6 .1-1.9 .1 .7 .1-.4 .1 1 .1 .6 .1-.9 .1 1 .1 .1 .1-1.1 .1 .7 .1 .3 .1-.7 .1-.6 .1 1.4 .1 1.4 .1-2.8 .1 .4 .1 .7 .1 .6 .1-1.4 .1-.2 .1 1.9 .1-1.2 .1 .2 .1 2 .1-3.2 .1 0 .1 1.5 .1-1.6 .1 1.4 .1 .3 .1-.3 .1 1 .1-.8 .1-.5 .1 .9 .1-1.1 .1 0 .1 .6 .1-1.6 .1 1 .1-.2 .1 .7 .1-.8 .1 .1 .1 .3 .1 .5 .1-1.4 .1 .6 .1 .5 .1-1.2 .1 2 .1-.4 .1 .8 .1-1.4 .1 .2 .1-1.1 .1 2.6 .1-.9 .1-.8 .1 .1 .1 .6 .1 0 .1 .8 .1-1.1 .1-.8 .1-.7 .1 .8 .1 .5 .1-.5 .1 .9 .1 .3 .1-.8 .1-.7 .1 .4 .1 .1 .1 .4 .1-.4 .1-1.3 .1 1.1 .1 .8 .1-1 .1 .2 .1 2.3 .1-2.2 .1-1.9 .1 1.7 .1-.3 .1 0 .1 1.1 .1-.7 .1 .4 .1-1.2 .1 .6 .1-1.3 .1 3.4 .1-2.6 .1 .5 .1 .8 .1 .1 .1-1.9 .1 1.2 .1 .6 .1-.6 .1 0 .1-.4 .1 .9 .1-.7 .1 .1 .1 1.7 .1-2.9 .1 1.2 .1 .3 .1 .6 .1-1 .1 .3 .1 .2 .1-1.3 .1 .9 .1 1.2 .1-.1 .1-.1 .1 .3 .1-.8 .1-.3 .1-.4 .1 .8 .1 .9 .1-.3 .1-1.1 .1 .3 .1 .6 .1 .1 .1 .2 .1-1.3 .1-.2 .1 .6 .1 .3 .1-1 .1-.3 .1 1.1 .1-1.5 .1-.6 .1 1.6 .1 1.5 .1-1.6 .1 0 .1 0 .1 .6 .1-1.2 .1 1 .1-.9 .1-.5 .1 1 .1 .2 .1 1.3 .1-2.4 .1 1.2 .1 0 .1 1.3 .1 .1 .1-.3 .1-2 .1 .8 .1 2.6 .1-1.3 .1-1.5 .1-.3 .1 .9 .1-1.1 .1 1.6 .1-1.3 .1 1.1 .1-2.1 .1 2.2 .1-.5 .1 1.1 .1-2.2 .1 .8 .1-.6 .1 1.2 .1-.7 .1 1.2 .1 .2 .1-1.1 .1 .4 .1 0 .1 .2 .1-1.5 .1-.4 .1 1.6 .1-.8 .1-.6 .1 .8 .1-.5 .1 0 .1 .7 .1-2.1 .1 2 .1 .5 .1-.7 .1 .1 .1-.8 .1 .9 .1 .5 .1-.6 .1 .5 .1 .1 .1-1.3 .1 .5 .1 .5 .1-.6 .1 .3 .1-.3 .1 0 .1 .8 .1-1.1 .1-.5 .1 2.9 .1-.6 .1-.7 .1-1.6 .1-.8 .1 1.1 .1 .9 .1 .2 .1-1.1 .1 .6 .1 .7 .1-.5 .1-.3 .1 1.3 .1-2.3 .1-.2 .1 1.2 .1 1 .1-.2 .1-.6 .1-.5 .1-.8 .1 .4 .1 .2 .1 .6 .1-.9 .1 0 .1 1 .1-.7 .1-1 .1 1.2 .1-.3 .1-.1 .1 1.6 .1-1 .1-1.6 .1 1.2 .1 .3 .1 .2 .1-1.3 .1 1.6 .1 .1 .1-2.5 .1 .4 .1 .7 .1 1 .1-.7 .1 .7 .1 .1 .1-1.1 .1-.7 .1 1.8 .1-.5 .1 .4 .1-1 .1-.3 .1 .6 .1-.2 .1 .1 .1 .4 .1-1.7 .1 .5 .1 .6 .1-.4 .1 1.2 .1 0 .1 .9 .1-.3 .1-2.6 .1 2.1 .1-.8 .1-.2 .1-.4 .1 .9 .1 .1 .1-.8 .1-.1 .1-1.3 .1 2.8 .1-1.1 .1 0 .1-1 .1 .1 .1 .2 .1-.3 .1 .8 .1 .4 .1-.1 .1 .1 .1-1.2 .1 .7 .1 .1 .1 0 .1-.3 .1 .3 .1-2.1 .1 1.3 .1 .7 .1-.6 .1-.6 .1 .7 .1-1.3 .1 1.4 .1-.2 .1-.1 .1 1.5 .1 .1 .1-1.5 .1-.8 .1 1.7 .1 .2 .1-2.5 .1 1.2 .1-.3 .1 2.7 .1-2.5 .1 1.9 .1-.8 .1 .6 .1-1.5 .1 .9 .1-.1 .1-1.1 .1 .3 .1-.8 .1 1.5 .1-2.6 .1 1.4 .1 1 .1 0 .1-1 .1 1.4 .1-.7 .1 .5 .1 .2 .1-1.5 .1 1.1 .1-2 .1 .6 .1 2 .1-.2 .1 1 .1-2.4 .1 .3 .1 0 .1-.9 .1 1.5 .1-.6 .1 .5 .1-.6 .1 1 .1-.9 .1-.2 .1-.2 .1 0 .1-.2 .1 .9 .1-1.5 .1 1.6 .1-.2 .1 .1 .1-1.7 .1 1.1 .1-.9 .1 1.8 .1-1.5 .1-.1 .1 .9 .1-.4 .1-.7 .1-.8 .1 .8 .1 1.3 .1-.5 .1-.6 .1-.9 .1 1.1 .1 .5 .1 1 .1 .2 .1-2.4 .1 .2 .1 1.7 .1-.6 .1-.9 .1-.2 .1-.8 .1 2.1 .1-1.7 .1 1 .1-.8 .1 1.5 .1-.6 .1 0 .1-1.1 .1 1.7 .1-1.6 .1 .8 .1-1.4 .1 2.6 .1-.4 .1-1.3 .1 .5 .1-.7 .1 2 .1-1.5 .1-.1 .1 .2 .1-.5 .1 .1 .1 0 .1 .7 .1-.4 .1-1.4 .1-.4 .1 .5 .1 .8 .1 .3 .1-.9 .1 .8 .1 1.2 .1-.4 .1-1.4 .1-.9 .1 1.6 .1 2.5 .1-1.9 .1-1.2 .1-.1 .1 1.2 .1-1.4 .1 0 .1-.9 .1 1.3 .1 .7 .1-.3 .1-1.2 .1-.2 .1 2.3 .1 .7 .1-2.1 .1 0 .1-2.1 .1 2.9 .1-.3 .1 1.3 .1-1.7 .1-.9 .1 .6 .1 1.6 .1-1.3 .1 0 .1 .9 .1-.6 .1 0 .1-1 .1 1.3 .1-.6 .1-.4 .1-.9 .1 2.3 .1-.9 .1-1.3 .1 1.1 .1-.6 .1 .1 .1 0 .1 2.1 .1-1.2 .1-1.2 .1 1.9 .1-1.2 .1-2.5 .1 1.6 .1 .3 .1 .9 .1-2.1 .1 1.4 .1 1.7 .1-.8 .1-.2 .1-2.1 .1 2.1 .1-.3 .1-.7 .1 .6 .1-.6 .1 1.5 .1-1.3 .1-.7 .1 1 .1-3.1 .1 3.4 .1 .9 .1-2.2 .1 .3 .1-.2 .1-.4 .1 .6 .1 1.5 .1-2.6 .1-.5 .1 .4 .1-.5 .1 .6 .1 .8 .1 1.9 .1-.7 .1-.9 .1-1.2 .1 1.9 .1-1.1 .1 .5 .1-1.9 .1 1.9 .1 .1 .1 .4 .1-.7 .1 .6 .1-.8 .1-.3 .1 .6 .1-.6 .1 1.4 .1-2.2 .1 .8 .1-.8 .1 .4 .1 1.2 .1-1.2 .1-1 .1 1.9 .1-.4 .1-1.2 .1 2.9 .1-2.6 .1 1.1 .1-.5 .1 .8 .1 0 .1-1.5 .1-.7 .1 2 .1-1.4 .1-1 .1-.6 .1 3.9 .1-.4 .1-.8 .1-.4 .1-1 .1-.2 .1 1.2 .1 1.1 .1-.4 .1-.1 .1-2.4 .1 2.9 .1-.9 .1-1.5 .1 2 .1 1 .1-.1 .1-3.2 .1 1.3 .1-.5 .1 2.1 .1-1.8 .1-.6 .1 .5 .1 .3 .1-1 .1-.6 .1 1.7 .1-2 .1 2.6 .1-.7 .1 0 .1 1.1 .1-1 .1-1.7 .1 .4 .1 2.6 .1-1 .1-.6 .1 1 .1 .3 .1-1.7 .1 .6 .1-.7 .1-1.6 .1-1.3 .1 4.6 .1-2.2 .1 2.5 .1-4 .1 3.3 .1 1.7 .1-3.6 .1 1 .1-1.1 .1 .9 .1-1.1 .1-.9 .1 1.9 .1 .8 .1-1.7 .1 2.2 .1-3 .1 2 .1-1.5 .1 1.6 .1 .3 .1-2.5 .1 2.1 .1-1.1 .1 .6 .1-.1 .1 2.5 .1-3.3 .1 .4 .1 .1 .1-.9 .1 3.2 .1-2.2 .1 .9 .1-2.6 .1 1.6 .1 .3 .1-1.2 .1 1.5 .1-.3 .1-1.7 .1 2.6 .1-1.5 .1 1.3 .1-.5 .1 .1 .1 .2 .1 1.1 .1-1.3 .1 .3 .1-1.8 .1 .2 .1 2.2 .1-.7 .1-2.6 .1 2.8 .1-1.7 .1 1.4 .1 .3 .1-1.3 .1 .8 .1-1.9 .1 .9 .1 0 .1 .5 .1-.7 .1-.7 .1 2.6 .1-1.3 .1-1.5 .1 4.2 .1-3.3 .1-.4 .1 2.2 .1-2.7 .1 .4 .1 .2 .1 1.5 .1-1.2 .1 .3 .1-2.1 .1 2.6 .1-.3 .1-.8 .1 1.3 .1 .3 .1 .2 .1-2.8 .1 2.3 .1 1.7 .1-2.8 .1-.4 .1 .6 .1-1 .1 2.4 .1-.6 .1 1.5 .1-2.6 .1 .2 .1 .4 .1-1.5 .1 1.6 .1-1.6 .1 .9 .1 1.2 .1-.7 .1 .7 .1-2.1 .1 .8 .1-1 .1 1 .1 .2 .1 .9 .1-1.2 .1 .1 .1 .1 .1-.6 .1 1.2 .1-.8 .1-1.3 .1 2.5 .1-.5 .1 1.3 .1-1 .1-1.8 .1 2.3 .1-4 .1 3.1 .1 .6 .1-1.2 .1 .5 .1-1.8 .1 1.3 .1 .8 .1-.9 .1 .4 .1-.6 .1 .6 .1 1.2 .1-1.8 .1 1.9 .1-1.2 .1-.1 .1 .7 .1 .7 .1-.8 .1-1.1 .1-.2 .1-.5 .1 3.2 .1-2.6 .1-.3 .1 1.4 .1 0 .1 .6 .1 .1 .1-2.8 .1 2.9 .1-2.5 .1 2.3 .1-1.5 .1 .6 .1-.8 .1 .5 .1-.9 .1 1.1 .1 1 .1-1.1 .1-1.6 .1 2.4 .1-.7 .1 .5 .1 0 .1-.3 .1-.9 .1 .9 .1 .2 .1 .5 .1-1.1 .1-1 .1 2.9 .1-.4 .1-1.6 .1 3.4 .1-4.1 .1-.8 .1 2.5 .1-.4 .1 .4 .1 1.3 .1-2 .1 .2 .1-.6 .1 1.6 .1-1.3 .1 .7 .1 .3 .1-2.8 .1 2.5 .1-.4 .1 1.9 .1-2.6 .1 1.4 .1-.7 .1-1.6 .1 .7 .1 2.4 .1-2.9 .1 .6 .1 2.2 .1-4.1 .1 1 .1 1.1 .1 1.6 .1-3.7 .1 1.3 .1-.2 .1-.5 .1 .7 .1 3 .1-1.2 .1-.4 .1-.1 .1-2.2 .1 1.2 .1-.6 .1 .9 .1-.9 .1-.3 .1 .9 .1 1.7 .1 .1 .1-.6 .1 .3 .1-.9 .1 2.1 .1-.8 .1 .9 .1-1.6 .1-.1 .1-1.9 .1 2.5 .1-2.2 .1 .6 .1 .5 .1-.6 .1 1.8 .1-1.1 .1-1.1 .1 2.6 .1-2.1 .1 .4 .1 1.9 .1-1.5 .1 1.2 .1 .6 .1-.3 .1-1.1 .1-.3 .1 .8 .1-1.5 .1 .6 .1 1.6 .1-1 .1 .2 .1-1.5 .1 .2 .1-2.1 .1 3.8 .1 0 .1-.5 .1-2.4 .1 2 .1 1.4 .1-2.1 .1 .9 .1-.8 .1 .5 .1 0 .1-.4 .1-1.1 .1 1.8 .1-1 .1 1.2 .1-.3 .1-.2 .1-.6 .1 1.1 .1-3.1 .1 1 .1 2.2 .1-.8 .1 .4 .1 1.1 .1-.8 .1-2.2 .1 1.8 .1-1.2 .1-1.1 .1 2.7 .1 .6 .1-.2 .1 1 .1-2.8 .1 .4 .1 .6 .1-.4 .1-.2 .1 .5 .1 .3 .1 .7 .1-1.7 .1 .6 .1 1.4 .1-1.5 .1-1.1 .1 2.2 .1-1.1 .1 1.9 .1-.5 .1-2.4 .1 1.8 .1-.5 .1 .1 .1 1.1 .1-1.9 .1 .2 .1-1.1 .1 1.1 .1 .5 .1-.3 .1-1.3 .1 .7 .1-2.4 .1 3.9 .1-1.6 .1 1.4 .1-1.4 .1-.2 .1 2.7 .1-1.8 .1 2.4 .1-1.8 .1-1.7 .1 .6 .1 .5 .1-2.1 .1 .9 .1 3 .1-.5 .1-1.9 .1 1.2 .1 1.2 .1-3.2 .1 1.7 .1 .8 .1-1.2 .1 .9 .1 .2 .1-2.7 .1 2.8 .1 .2 .1-1 .1-1.7 .1 1.9 .1-1 .1 1.6 .1-.8 .1 .9 .1 .3 .1-2 .1 .4 .1 .4 .1-1.3 .1 .2 .1 .5 .1 2.1 .1-.6 .1 .6 .1-4.1 .1 2.6 .1 1.2 .1-.7 .1-2.4 .1 2.2 .1 0 .1 2.3 .1-2.7 .1-2.5 .1 2.3 .1-.2 .1 2.1 .1-1.8 .1-.4 .1 .4 .1-.4 .1 2.7 .1-2 .1 .7 .1 0 .1 .5 .1-2.1 .1 1.6 .1 1.5 .1-2.5 .1 .5 .1-.3 .1-1.4 .1 1.7 .1 1.9 .1-2.9 .1 .6 .1 1.3 .1-1.2 .1 .3 .1-.7 .1 1.9 .1-2.1 .1 .1 .1 .4 .1 2 .1 .6 .1-2.2 .1 1.1 .1 1.8 .1-1.4 .1-.6 .1-1.7 .1 0 .1 1 .1 .9 .1 .1 .1-.1 .1-2.1 .1 .9 .1 1.5 .1 1 .1-2.5 .1 .8 .1 1.2 .1-.2 .1-.8 .1-1 .1 .7 .1 .2 .1-1.8 .1-.6 .1 2 .1-1.1 .1 .5 .1 .9 .1 .6 .1-1.1 .1 .9 .1 1 .1-.8 .1 0 .1-1.2 .1 1 .1 1.1 .1-2.6 .1 1.5 .1 .3 .1-.6 .1 .8 .1-2.4 .1 .7 .1 3.4 .1-2.5 .1-.7 .1 1.5 .1 .6 .1-.5 .1 .8 .1-.3 .1 .2 .1-1 .1-1 .1 .4 .1 2 .1-1.5 .1 .6 .1-.7 .1 1.6 .1-.8 .1-2.6 .1 .9 .1 .3 .1 2.1 .1 .5 .1-2.1 .1 .5 .1 .5 .1-.6 .1-.6 .1 .2 .1 2.8 .1-2.8 .1 .1 .1 1.5 .1-.3 .1-.3 .1-.7 .1-.2 .1 1.5 .1-1 .1 1.2 .1-1 .1 1 .1-1.5 .1 1.2 .1-.4 .1 1.3 .1 0 .1-1 .1 0 .1-.5 .1-.9 .1 1.5 .1-1.1 .1-1.4 .1 .8 .1 1.8 .1-1.9 .1 .3 .1 2.7 .1-2.2 .1-.3 .1 1.8 .1-.2 .1-1 .1-.3 .1 .1 .1-.4 .1 2.2 .1-.5 .1-.2 .1 2.5 .1-2.7 .1-.9 .1 1.8 .1-2.9 .1 1.9 .1 .4 .1 .6 .1-.8 .1 .7 .1-2 .1 1.5 .1 .4 .1-2.2 .1 1.6 .1-.6 .1 .6 .1-.3 .1-1 .1 1 .1 .7 .1-1.1 .1 .4 .1 0 .1 1.3 .1-.1 .1-1.9 .1 1.2 .1 .2 .1-.4 .1 .3 .1-1 .1 .7 .1 1.1 .1-1.2 .1 .6 .1 .6 .1-.1 .1 1.1 .1-2.1 .1 .6 .1-1.2 .1 .5 .1 1.8 .1-1.9 .1 3.2 .1-2.2 .1 .2 .1-1.2 .1 .3 .1-.3 .1 0 .1 1.3 .1-1.2 .1 3.5 .1-2.2 .1-.7 .1 1.2 .1-1.7 .1 1.8 .1 .2 .1-1.4 .1 .2 .1-2.2 .1 3.5 .1-.8 .1 .4 .1-1.5 .1 1.5 .1 .5 .1-.9 .1-.1 .1 1.1 .1-1.6 .1 .7 .1-1 .1 .4 .1 .6 .1 .5 .1-1.1 .1 .4 .1-.9 .1 .4 .1 .3 .1 .3 .1 0 .1-.3 .1 1.2 .1-1.2 .1-.1 .1 1.2 .1-1.3 .1-.2 .1-.5 .1 .6 .1 .4 .1 1.4 .1 1 .1 .6 .1-2.2 .1-1.5 .1-.6 .1 3.6 .1-3.4 .1 .6 .1 .1 .1 1.8 .1-.6 .1-1.9 .1 1.4 .1 0 .1 1 .1-.5 .1-1.7 .1 1.5 .1 1 .1-.8 .1 0 .1 .2 .1-.8 .1 1.3 .1-.8 .1-1.2 .1 2.2 .1 .1 .1-2.2 .1 1.2 .1 .6 .1-.6 .1 1.2 .1 .7 .1-1.7 .1 .4 .1 0 .1-.7 .1 1 .1-1.2 .1 .2 .1-.4 .1 .8 .1 1.4 .1-2.3 .1-.2 .1 1.2 .1 .4 .1 .2 .1-2.3 .1 3 .1-.2 .1-2 .1 .9 .1 1.2 .1 .6 .1-1.4 .1 .1 .1 .3 .1 .3 .1 .2 .1-.6 .1-2 .1 1.8 .1-1.5 .1-.3 .1 3.9 .1-1.2 .1 .5 .1-1.6 .1 1.7 .1-.8 .1-.5 .1 .1 .1-2.2 .1 2.7 .1-.7 .1 0 .1 .4 .1 .3 .1-1.1 .1 1 .1-.9 .1 .8 .1 .3 .1 .3 .1-2.1 .1 2.3 .1-.9 .1-.1 .1 1 .1-.4 .1 .6 .1-1.3 .1-.1 .1 .7 .1-.8 .1 1.2 .1 .4 .1-1.4 .1 .4 .1 1.5 .1-1.2 .1-.1 .1 1.2 .1-1.4 .1 1.4 .1-1.8 .1-.8 .1 1.4 .1 .8 .1 1.2 .1-1.5 .1-.6 .1 .6 .1-.2 .1 0 .1-.1 .1 .1 .1-.7 .1 1.3 .1 .1 .1-.9 .1 .5 .1-.2 .1-.4 .1-.4 .1 .8 .1 0 .1 1.3 .1-.7 .1 1 .1-1.9 .1 .8 .1-.4 .1 .7 .1-.6 .1 .9 .1-1.9 .1 1.5 .1 .2 .1 .3 .1 .1 .1 0 .1-1.4 .1 .6 .1 .5 .1-1.2 .1 2.6 .1-.9 .1-.4 .1-1.2 .1-.1 .1-.9 .1 1.8 .1 1.5 .1-2.6 .1 1.9 .1-1.5 .1 2.3 .1-1.4 .1-1.3 .1 .4 .1 2 .1-.4 .1-.8 .1 1.1 .1-1.2 .1-.3 .1 .3 .1-1.6 .1 1.1 .1 .5 .1 .1 .1-1 .1 2.5 .1-2.2 .1-.3 .1 1.5 .1-.9 .1 .4 .1 .1 .1-.1 .1-1.7 .1 1.9 .1-.6 .1 .6 .1 .9 .1-1.2 .1 .6 .1 .5 .1 .1 .1 0 .1-1.9 .1 1.1 .1 .4 .1-3.4 .1 2.3 .1-1.1 .1 3.3 .1-1.3 .1-1.9 .1 1.5 .1 .6 .1-.6 .1-.2 .1 0 .1 .7 .1-1.1 .1 .8 .1 1.6 .1-3 .1 1.3 .1 1.5 .1-1.6 .1-1 .1 1.3 .1-.2 .1-1.4 .1 .5 .1-.3 .1 .8 .1 2 .1-.5 .1-2 .1 .7 .1-1.7 .1 1.7 .1-.3 .1 .5 .1 1 .1-1.2 .1 .3 .1-.2 .1 .1 .1 1.5 .1-1.2 .1-.3 .1-.1 .1-.4 .1 .5 .1-.3 .1 .8 .1-.5 .1-.7 .1 1.3 .1-2.3 .1 2.1 .1-.7 .1-.3 .1 1.4 .1-.1 .1-.8 .1-.1 .1-.6 .1 1.5 .1-2.4 .1 1.2 .1-1.4 .1 1.8 .1-.5 .1 1.8 .1-1.1 .1 .1 .1 .4 .1-1.5 .1 1.8 .1 .1 .1-.8 .1 .5 .1-.6 .1-2.1 .1 3.1 .1-.5 .1-1.6 .1 .9 .1 .1 .1-1 .1 2 .1-1.5 .1 1.6 .1-.8 .1 .7 .1-1.4 .1 1.4 .1-.8 .1 .5 .1-.7 .1-.4 .1 1.3 .1-.5 .1-1 .1 .5 .1 .8 .1-.6 .1-.4 .1 .8 .1-1.9 .1 .8 .1-.3 .1 .2 .1 .5 .1 1.3 .1-1.5 .1-.4 .1 0 .1 .3 .1 .1 .1 1 .1-1.8 .1 .8 .1 .5 .1 .8 .1 .7 .1-2 .1 .7 .1-.6 .1-.9 .1 2 .1-.7 .1-.9 .1 .1 .1-.2 .1 .8 .1 1.2 .1-.6 .1-1 .1-.3 .1 .6 .1-.1 .1-.4 .1-1.1 .1 1.5 .1 .9 .1 .7 .1-1.6 .1 .3 .1 .6 .1-1.1 .1 1.1 .1-1.9 .1 .3 .1 .3 .1 .7 .1-.3 .1 .5 .1-.3 .1 .9 .1 .3 .1-.6 .1-.8 .1 .8 .1 .1 .1-.6 .1-.1 .1 .5 .1-.2 .1-1.6 .1 .3 .1-.4 .1 2 .1 0 .1-1 .1 1 .1-.4 .1 .3 .1 0 .1-.5 .1 .6 .1-.7 .1 .5 .1 .3 .1-.9 .1 .2 .1-.2 .1-.2 .1 .6 .1-1.5 .1-.3 .1 3.1 .1-2.2 .1 1.3 .1-1.3 .1 .6 .1 2.1 .1-3.4 .1 2.1 .1-.2 .1 .2 .1-.8 .1 .3 .1 .1 .1-.9 .1 1.4 .1-1.6 .1-.9 .1 2.1 .1-.8 .1 1.5 .1-1.2 .1-1.4 .1 .9 .1 1 .1-1.3 .1 .1 .1 .8 .1 1.3 .1-2.2 .1 1.9 .1-.3 .1-.5 .1-.9 .1 1.9 .1-.8 .1 .5 .1-.7 .1-.2 .1 .2 .1-.7 .1-.4 .1 .3 .1-1.1 .1 3.3 .1-1.3 .1-1.5 .1 1.5 .1-.8 .1 1.3 .1 .2 .1-1.8 .1 1.5 .1 .3 .1 .1 .1-.8 .1-.6 .1 0 .1-.3 .1 .3 .1-.4 .1 1.1 .1-1.4 .1-1.1 .1 1.1 .1 1 .1 .4 .1-.5 .1 .6 .1-.8 .1 .9 .1-1.2 .1 0 .1 .5 .1-.8 .1 .5 .1 .3 .1 .6 .1-.6 .1 .4 .1-1.1 .1 .3 .1 .3 .1-1.1 .1 2.5 .1-2.8 .1 1.6 .1-.3 .1-.1 .1 .2 .1 1.2 .1-.5 .1-.9 .1 .3 .1 1.5 .1-.9 .1 .3 .1 .3 .1-2.1 .1 1.9 .1 .1 .1-2.4 .1 2.1 .1-.2 .1-1.1 .1-.6 .1 2 .1-.3 .1-.7 .1 1.1 .1 .1 .1-1.7 .1 1.2 .1 .1 .1 .2 .1-2.1 .1 1.1 .1-1.5 .1 1.8 .1-.5 .1 .4 .1-1.2 .1 1.5 .1-.6 .1 0 .1 1.4 .1-1.6 .1 1.9 .1-1.1 .1-.6 .1-.9 .1 .7 .1 1.1 .1-.7 .1-.2 .1-1 .1 .3 .1 1.1 .1 1 .1-1.4 .1-.8 .1 1.3 .1 .6 .1 .3 .1-.9 .1-1.9 .1 .2 .1 3.7 .1-1.7 .1-.2 .1-.7 .1 .7 .1-.7 .1-.2 .1-.8 .1 .8 .1 1 .1-1 .1 1 .1-.3 .1-.3 .1 .2 .1-.1 .1 0 .1-1.3 .1 1.1 .1 .8 .1 1 .1-.7 .1-2.4 .1 1.4 .1-.6 .1-.1 .1 1.5 .1-.9 .1-.3 .1 2 .1 .3 .1-1.6 .1-.6 .1-1 .1 2.3 .1-1.2 .1 1 .1-.1 .1-1 .1 .5 .1 .6 .1-.9 .1 1.9 .1-1.5 .1 0 .1 .8 .1-1.7 .1 .2 .1 0 .1 .7 .1-1 .1-.1 .1 .2 .1 2.5 .1-2.9 .1 1 .1 .1 .1-1.4 .1 .3 .1 1.8 .1-2.1 .1-.8 .1 2.4 .1 .7 .1 .3 .1-.4 .1-.8 .1 .6 .1-.6 .1-.8 .1-.3 .1 2.3 .1 .7 .1-2.8 .1 1.1 .1 0 .1-2.1 .1 3.1 .1-2.2 .1 1.5 .1-.4 .1-.9 .1 .4 .1 .3 .1-.3 .1 .7 .1-.3 .1-1 .1 .7 .1-1 .1 1.7 .1 .3 .1-1.2 .1 .4 .1-.3 .1 1.3 .1-.3 .1-.9 .1 .7 .1-.5 .1-.2 .1 .7 .1-1.1 .1 1.1 .1 .4 .1-.4 .1-1.4 .1 1.6 .1 0 .1 .2 .1-.4 .1-1.3 .1 1.1 .1-.1 .1 0 .1-.2 .1 .1 .1-1.7 .1 1.8 .1 .1 .1-1 .1-.2 .1 1.2 .1 .1 .1-.5 .1-.3 .1 1.7 .1-.3 .1-.4 .1 .2 .1-1.2 .1 1.1 .1-.3 .1-1 .1 .5 .1 .4 .1-1.2 .1 1.2 .1-.2 .1 .2 .1-.7 .1 1.4 .1 1.3 .1-1.7 .1-.4 .1-.8 .1 1 .1-.5 .1 .2 .1 .9 .1-1.1 .1 .1 .1-.3 .1 .6 .1 0 .1-.6 .1 .2 .1 .6 .1-1.6 .1 .5 .1 2.1 .1 .5 .1-3.1 .1 .1 .1-.2 .1 .5 .1 .9 .1-.1 .1 .6 .1-.9 .1-.8 .1 1.2 .1 1.3 .1-1.1 .1-.6 .1-.6 .1 2.2 .1 0 .1-1.6 .1-.7 .1 1.1 .1 .2 .1 .1 .1-.7 .1 1.3 .1-.7 .1 .1 .1-.7 .1 .4 .1-.6 .1-.8 .1 2.4 .1-.2 .1-1.3 .1 1.7 .1-1.6 .1 .3 .1-.1 .1-.5 .1 2 .1-1.5 .1 1.1 .1-1.9 .1-.2 .1 2 .1-1.3 .1 1 .1-2.1 .1 2.9 .1-.2 .1-.6 .1-.8 .1-1.3 .1 .9 .1 1.2 .1 .7 .1-1.7 .1 .3 .1 .3 .1-.3 .1 1.7 .1-1.7 .1 1.2 .1-1.4 .1 1.1 .1-.6 .1-1 .1 1 .1 1.5 .1-1.2 .1-.9 .1 .1 .1 .4 .1-.3 .1-.4 .1-.4 .1-.1 .1 3 .1-1.8 .1-2.1 .1 .8 .1 1.6 .1-2 .1 1 .1 .6 .1 .1 .1-.5 .1 .2 .1-.7 .1 1.8 .1-2.3 .1 .6 .1 .1 .1 .9 .1 0 .1-1.3 .1 .4 .1-.5 .1 1.2 .1-.4 .1 .8 .1-1.1 .1 .4 .1 .3 .1 1.4 .1-1.2 .1 .3 .1-.9 .1 .7 .1-1.2 .1 1.2 .1-.2 .1 .2 .1-.2 .1-.7 .1 1 .1-.3 .1-.9 .1-.5 .1 1.5 .1-.7 .1 .4 .1 .4 .1-.7 .1 0 .1 .1 .1-1.1 .1 2 .1-.8 .1 .7 .1-.4 .1-.5 .1 1.2 .1-.5 .1 0 .1-.8 .1 .8 .1-1.6 .1 2.3 .1 .9 .1-2.9 .1 1 .1 .4 .1-2 .1 1.6 .1 .1 .1-.1 .1-.1 .1 .2 .1-.8 .1-.1 .1 1.2 .1 .1 .1-.5 .1-.8 .1 .9 .1 .2 .1 .3 .1-.1 .1-1.7 .1 .3 .1 .8 .1-.3 .1 1.5 .1-1.2 .1 0 .1 0 .1 .5 .1-.5 .1-1.9 .1 3.5 .1-1.5 .1 .2 .1-.8 .1 .4 .1 .4 .1-1 .1 1.4 .1-.5 .1-2.9 .1 2.1 .1 .4 .1-.2 .1 .9 .1-.8 .1 .1 .1-.5 .1 .4 .1 .2 .1 .3 .1 1.4 .1-.5 .1-.3 .1-.4 .1 .1 .1-.7 .1 2.5 .1-2.1 .1-.7 .1 1.3 .1-1.2 .1 1.2 .1-.3 .1 .7 .1-2.4 .1 .9 .1 .3 .1-.1 .1 .4 .1 .2 .1-.3 .1 .3 .1-1.7 .1 .8 .1 1.7 .1-1.4 .1-.8 .1 1.7 .1-1.5 .1-.1 .1 1.5 .1-.1 .1-.9 .1 1.7 .1-1.3 .1 .2 .1-.3 .1 .6 .1-.3 .1 .1 .1 .3 .1-1.1 .1 0 .1 3 .1-2.7 .1 .2 .1-.6 .1 1.2 .1 .3 .1-.5 .1-1 .1 2.2 .1-2 .1 .1 .1-.2 .1-.3 .1 .1 .1 1.8 .1-.7 .1-.9 .1 .6" stroke="#45aac6" stroke-width="3.2"/>
</g>
<line x1="148.9" y1="140.2" x2="192.8" y2="140.2" stroke="#0f243e" stroke-width="3.3"/>
<line x1="148.9" y1="171.5" x2="194.9" y2="171.5" stroke="#c00000" stroke-width="3.9"/>
<line x1="148.2" y1="203.1" x2="194.9" y2="201.9" stroke="#8db4e2" stroke-width="4.6"/>
<g font-family="'Liberation Serif', serif" fill="#000000" style="filter:grayscale(1)">
<text x="28.67" y="368.00" font-size="19" textLength="34.83" lengthAdjust="spacingAndGlyphs">-200</text>
<text x="34.29" y="297.44" font-size="19" textLength="29.21" lengthAdjust="spacingAndGlyphs">300</text>
<text x="34.29" y="226.88" font-size="19" textLength="29.21" lengthAdjust="spacingAndGlyphs">800</text>
<text x="23.41" y="156.32" font-size="19" textLength="40.09" lengthAdjust="spacingAndGlyphs">1300</text>
<text x="23.41" y="85.76" font-size="19" textLength="40.09" lengthAdjust="spacingAndGlyphs">1800</text>
<text x="24.17" y="15.20" font-size="19" textLength="39.33" lengthAdjust="spacingAndGlyphs">2300</text>
<text x="66.25" y="361.4" font-size="19" textLength="27.50" lengthAdjust="spacingAndGlyphs">100</text>
<text x="153.60" y="361.4" font-size="19" textLength="29.58" lengthAdjust="spacingAndGlyphs">600</text>
<text x="236.76" y="361.4" font-size="19" textLength="38.22" lengthAdjust="spacingAndGlyphs">1100</text>
<text x="325.76" y="361.4" font-size="19" textLength="38.00" lengthAdjust="spacingAndGlyphs">1600</text>
<text x="413.86" y="361.4" font-size="19" textLength="39.36" lengthAdjust="spacingAndGlyphs">2100</text>
<text x="501.69" y="361.4" font-size="19" textLength="40.47" lengthAdjust="spacingAndGlyphs">2600</text>
<text x="590.89" y="361.4" font-size="19" textLength="38.84" lengthAdjust="spacingAndGlyphs">3100</text>
<text x="209.4" y="143.1" font-size="21" textLength="9.8" lengthAdjust="spacingAndGlyphs">a</text>
<text x="209.8" y="174.3" font-size="21" textLength="10.8" lengthAdjust="spacingAndGlyphs">b</text>
<text x="209.4" y="206.3" font-size="21" textLength="9.8" lengthAdjust="spacingAndGlyphs">c</text>
<text x="289.3" y="112" font-size="21" textLength="16.6" lengthAdjust="spacingAndGlyphs">D</text>
<text x="327.9" y="44.3" font-size="21" textLength="17.4" lengthAdjust="spacingAndGlyphs">G</text>
<text transform="translate(17.6,221.6) rotate(-90)" font-size="20.5" textLength="118.6" lengthAdjust="spacingAndGlyphs">Intensity (a.u.)</text>
<text x="276.0" y="378.5" font-size="20.5" textLength="118.8" lengthAdjust="spacingAndGlyphs">Wavenumber</text>
<text x="403.6" y="378.5" font-size="20.5" textLength="35.2" lengthAdjust="spacingAndGlyphs">(cm</text>
<text x="439.5" y="372.0" font-size="12.2">-1</text>
<text x="452.0" y="378.5" font-size="20.5" textLength="7.4" lengthAdjust="spacingAndGlyphs">)</text>
</g>
</svg>
</body>
</html>
